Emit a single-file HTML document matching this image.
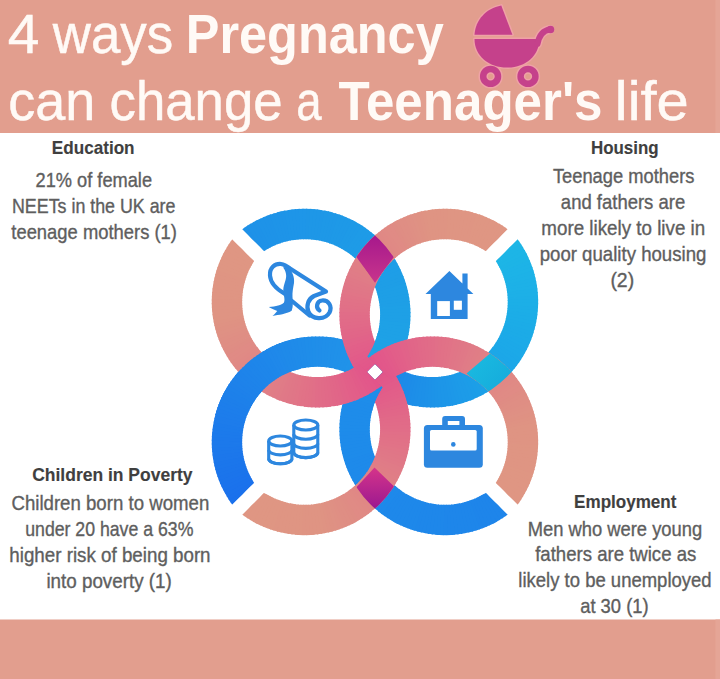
<!DOCTYPE html>
<html><head><meta charset="utf-8"><style>
html,body{margin:0;padding:0;background:#fff;}
svg{display:block;}
text{font-family:"Liberation Sans",sans-serif;}
</style></head><body>
<svg width="720" height="679" viewBox="0 0 720 679">
<rect width="720" height="679" fill="#fff"/>
<rect x="0" y="0" width="720" height="133" fill="#E29E8E"/>
<rect x="0" y="619.5" width="720" height="59.5" fill="#E29E8E"/>
<rect x="715.5" y="0" width="4.5" height="133" fill="#E5A596"/>
<rect x="715.5" y="619.5" width="4.5" height="59.5" fill="#E5A596"/>
<g fill="#EFA2A6" stroke="#EFA2A6" stroke-width="3" stroke-linejoin="round">
<path d="M474.5,34.7 C475.5,20 486,8.5 501.25,5.6 L512.4,34.7 Z"/>
<path d="M474.5,38.9 L539.4,38.9 C539.4,56 525,67.5 507,67.5 C489,67.5 474.5,56 474.5,38.9 Z"/>

<path d="M537.5,44 C539,36 542,30.5 550,29.5" fill="none" stroke-width="9" stroke-linecap="round"/>
<circle cx="490.6" cy="76.4" r="7.4" fill="none" stroke-width="9.5"/>
<circle cx="528" cy="76.4" r="7.4" fill="none" stroke-width="9.5"/>
</g>
<g fill="#C5418B">
<path d="M474.5,34.7 C475.5,20 486,8.5 501.25,5.6 L512.4,34.7 Z"/>
<path d="M474.5,38.9 L539.4,38.9 C539.4,56 525,67.5 507,67.5 C489,67.5 474.5,56 474.5,38.9 Z"/>

<path d="M537.5,44 C539,36 542,30.5 550,29.5" fill="none" stroke="#C5418B" stroke-width="6" stroke-linecap="round"/>
<circle cx="550.5" cy="29.5" r="3.8"/>
<circle cx="490.6" cy="76.4" r="7.4" fill="none" stroke="#C5418B" stroke-width="6.5"/>
<circle cx="528" cy="76.4" r="7.4" fill="none" stroke="#C5418B" stroke-width="6.5"/>
</g>
<text x="7.78" y="53" font-size="55.5" font-weight="normal" fill="#FFFAF6" textLength="31.65" lengthAdjust="spacingAndGlyphs" stroke="#FFFAF6" stroke-width="0.5">4</text>
<text x="52.80" y="53" font-size="55.5" font-weight="normal" fill="#FFFAF6" textLength="120.28" lengthAdjust="spacingAndGlyphs" stroke="#FFFAF6" stroke-width="0.5">ways</text>
<text x="185.76" y="53" font-size="55.5" font-weight="bold" fill="#FFFAF6" textLength="257.96" lengthAdjust="spacingAndGlyphs">Pregnancy</text>
<text x="8.25" y="119.5" font-size="55.5" font-weight="normal" fill="#FFFAF6" textLength="87.03" lengthAdjust="spacingAndGlyphs" stroke="#FFFAF6" stroke-width="0.5">can</text>
<text x="109.50" y="119.5" font-size="55.5" font-weight="normal" fill="#FFFAF6" textLength="173.09" lengthAdjust="spacingAndGlyphs" stroke="#FFFAF6" stroke-width="0.5">change</text>
<text x="296.36" y="119.5" font-size="55.5" font-weight="normal" fill="#FFFAF6" textLength="25.34" lengthAdjust="spacingAndGlyphs" stroke="#FFFAF6" stroke-width="0.5">a</text>
<text x="338.48" y="119.5" font-size="55.5" font-weight="bold" fill="#FFFAF6" textLength="264.02" lengthAdjust="spacingAndGlyphs">Teenager's</text>
<text x="614.83" y="119.5" font-size="55.5" font-weight="normal" fill="#FFFAF6" textLength="73.90" lengthAdjust="spacingAndGlyphs" stroke="#FFFAF6" stroke-width="0.5">life</text>
<text x="51.80" y="154.4" font-size="19" font-weight="bold" fill="#3f3f3f" textLength="82.76" lengthAdjust="spacingAndGlyphs" stroke="#3f3f3f" stroke-width="0.15">Education</text>
<text x="35.58" y="186.9" font-size="19.8" font-weight="normal" fill="#5e5e5e" textLength="116.45" lengthAdjust="spacingAndGlyphs" stroke="#5e5e5e" stroke-width="0.35">21% of female</text>
<text x="12.00" y="212.8" font-size="19.8" font-weight="normal" fill="#5e5e5e" textLength="163.47" lengthAdjust="spacingAndGlyphs" stroke="#5e5e5e" stroke-width="0.35">NEETs in the UK are</text>
<text x="11.30" y="238.7" font-size="19.8" font-weight="normal" fill="#5e5e5e" textLength="165.66" lengthAdjust="spacingAndGlyphs" stroke="#5e5e5e" stroke-width="0.35">teenage mothers (1)</text>
<text x="590.91" y="154.3" font-size="19" font-weight="bold" fill="#3f3f3f" textLength="67.68" lengthAdjust="spacingAndGlyphs" stroke="#3f3f3f" stroke-width="0.15">Housing</text>
<text x="552.90" y="183.3" font-size="19.8" font-weight="normal" fill="#5e5e5e" textLength="141.50" lengthAdjust="spacingAndGlyphs" stroke="#5e5e5e" stroke-width="0.35">Teenage mothers</text>
<text x="560.87" y="209.3" font-size="19.8" font-weight="normal" fill="#5e5e5e" textLength="124.33" lengthAdjust="spacingAndGlyphs" stroke="#5e5e5e" stroke-width="0.35">and fathers are</text>
<text x="541.35" y="235.2" font-size="19.8" font-weight="normal" fill="#5e5e5e" textLength="163.86" lengthAdjust="spacingAndGlyphs" stroke="#5e5e5e" stroke-width="0.35">more likely to live in</text>
<text x="539.66" y="261.2" font-size="19.8" font-weight="normal" fill="#5e5e5e" textLength="166.74" lengthAdjust="spacingAndGlyphs" stroke="#5e5e5e" stroke-width="0.35">poor quality housing</text>
<text x="610.42" y="287.0" font-size="19.8" font-weight="normal" fill="#5e5e5e" textLength="23.75" lengthAdjust="spacingAndGlyphs" stroke="#5e5e5e" stroke-width="0.35">(2)</text>
<text x="32.18" y="480.6" font-size="19" font-weight="bold" fill="#3f3f3f" textLength="160.31" lengthAdjust="spacingAndGlyphs" stroke="#3f3f3f" stroke-width="0.15">Children in Poverty</text>
<text x="11.46" y="509.5" font-size="19.8" font-weight="normal" fill="#5e5e5e" textLength="197.80" lengthAdjust="spacingAndGlyphs" stroke="#5e5e5e" stroke-width="0.35">Children born to women</text>
<text x="25.21" y="536.2" font-size="19.8" font-weight="normal" fill="#5e5e5e" textLength="168.16" lengthAdjust="spacingAndGlyphs" stroke="#5e5e5e" stroke-width="0.35">under 20 have a 63%</text>
<text x="9.35" y="561.8" font-size="19.8" font-weight="normal" fill="#5e5e5e" textLength="201.22" lengthAdjust="spacingAndGlyphs" stroke="#5e5e5e" stroke-width="0.35">higher risk of being born</text>
<text x="46.45" y="587.5" font-size="19.8" font-weight="normal" fill="#5e5e5e" textLength="125.34" lengthAdjust="spacingAndGlyphs" stroke="#5e5e5e" stroke-width="0.35">into poverty (1)</text>
<text x="574.10" y="507.7" font-size="19" font-weight="bold" fill="#3f3f3f" textLength="102.33" lengthAdjust="spacingAndGlyphs" stroke="#3f3f3f" stroke-width="0.15">Employment</text>
<text x="527.74" y="535.5" font-size="19.8" font-weight="normal" fill="#5e5e5e" textLength="174.41" lengthAdjust="spacingAndGlyphs" stroke="#5e5e5e" stroke-width="0.35">Men who were young</text>
<text x="535.20" y="561.3" font-size="19.8" font-weight="normal" fill="#5e5e5e" textLength="161.08" lengthAdjust="spacingAndGlyphs" stroke="#5e5e5e" stroke-width="0.35">fathers are twice as</text>
<text x="518.37" y="587.1" font-size="19.8" font-weight="normal" fill="#5e5e5e" textLength="193.22" lengthAdjust="spacingAndGlyphs" stroke="#5e5e5e" stroke-width="0.35">likely to be unemployed</text>
<text x="580.17" y="612.8" font-size="19.8" font-weight="normal" fill="#5e5e5e" textLength="68.45" lengthAdjust="spacingAndGlyphs" stroke="#5e5e5e" stroke-width="0.35">at 30 (1)</text>
<g>
<defs><clipPath id="hpTLb"><path d="M97.16,84.05L316.18,303.07L315.05,304.20L661.72,650.87L944.56,368.03L380.01,-198.79Z"/></clipPath><clipPath id="hpTRb"><path d="M662.85,94.16L443.83,313.18L442.70,312.05L96.03,658.72L378.87,941.56L945.69,377.01Z"/></clipPath><clipPath id="hpBRb"><path d="M652.74,659.85L433.72,440.83L434.85,439.70L88.18,93.03L-194.66,375.87L369.89,942.69Z"/></clipPath><clipPath id="hpBLb"><path d="M87.05,649.74L306.07,430.72L307.20,431.85L653.87,85.18L371.03,-197.66L-195.79,366.89Z"/></clipPath><clipPath id="hpTRp"><path d="M652.74,84.05L433.72,303.07L434.85,304.20L88.18,650.87L-194.66,368.03L369.89,-198.79Z"/></clipPath><clipPath id="hpBLp"><path d="M97.16,659.85L316.18,440.83L315.05,439.70L661.72,93.03L944.56,375.87L380.01,942.69Z"/></clipPath><clipPath id="hpTLb"><path d="M97.16,84.05L316.18,303.07L315.05,304.20L661.72,650.87L944.56,368.03L380.01,-198.79Z"/></clipPath><clipPath id="hpBRb"><path d="M652.74,659.85L433.72,440.83L434.85,439.70L88.18,93.03L-194.66,375.87L369.89,942.69Z"/></clipPath><clipPath id="hpTLp"><path d="M87.05,94.16L306.07,313.18L307.20,312.05L653.87,658.72L371.03,941.56L-195.79,377.01Z"/></clipPath><clipPath id="hpBRp"><path d="M662.85,649.74L443.83,430.72L442.70,431.85L96.03,85.18L378.87,-197.66L945.69,366.89Z"/></clipPath><clipPath id="wTop"><rect x="352" y="333" width="46" height="27"/></clipPath><clipPath id="wBot"><rect x="352" y="384" width="46" height="27"/></clipPath></defs>
<g clip-path="url(#hpTLb)">
<path d="M217.90,254.28A105.7,105.7 0 0 1 220.72,250.40L244.90,268.82A75.3,75.3 0 0 0 242.89,271.58Z" fill="#1e90e8"/>
<path d="M220.05,251.28A105.7,105.7 0 0 1 223.01,247.50L246.53,266.76A75.3,75.3 0 0 0 244.43,269.45Z" fill="#1e90e8"/>
<path d="M222.31,248.36A105.7,105.7 0 0 1 225.39,244.69L248.23,264.75A75.3,75.3 0 0 0 246.03,267.37Z" fill="#1e90e8"/>
<path d="M224.67,245.52A105.7,105.7 0 0 1 227.87,241.96L250.00,262.81A75.3,75.3 0 0 0 247.71,265.35Z" fill="#1e90e8"/>
<path d="M227.12,242.77A105.7,105.7 0 0 1 230.45,239.32L251.83,260.93A75.3,75.3 0 0 0 249.46,263.38Z" fill="#1e90e8"/>
<path d="M229.67,240.10A105.7,105.7 0 0 1 233.12,236.77L253.73,259.11A75.3,75.3 0 0 0 251.28,261.48Z" fill="#1e90e8"/>
<path d="M232.31,237.52A105.7,105.7 0 0 1 235.87,234.32L255.70,257.36A75.3,75.3 0 0 0 253.16,259.65Z" fill="#1e90e8"/>
<path d="M235.04,235.04A105.7,105.7 0 0 1 238.71,231.96L257.72,255.68A75.3,75.3 0 0 0 255.10,257.88Z" fill="#1e91e8"/>
<path d="M237.85,232.66A105.7,105.7 0 0 1 241.63,229.70L259.80,254.08A75.3,75.3 0 0 0 257.11,256.18Z" fill="#1e91e8"/>
<path d="M240.75,230.37A105.7,105.7 0 0 1 244.63,227.55L261.93,252.54A75.3,75.3 0 0 0 259.17,254.55Z" fill="#1e91e8"/>
<path d="M243.72,228.18A105.7,105.7 0 0 1 247.70,225.50L264.12,251.08A75.3,75.3 0 0 0 261.29,252.99Z" fill="#1e91e8"/>
<path d="M246.77,226.11A105.7,105.7 0 0 1 250.84,223.56L266.36,249.70A75.3,75.3 0 0 0 263.46,251.51Z" fill="#1e92e8"/>
<path d="M249.89,224.13A105.7,105.7 0 0 1 254.04,221.74L268.64,248.40A75.3,75.3 0 0 0 265.68,250.11Z" fill="#1e92e8"/>
<path d="M253.07,222.27A105.7,105.7 0 0 1 257.31,220.02L270.97,247.18A75.3,75.3 0 0 0 267.95,248.78Z" fill="#1e92e8"/>
<path d="M256.32,220.52A105.7,105.7 0 0 1 260.63,218.42L273.33,246.04A75.3,75.3 0 0 0 270.26,247.54Z" fill="#1e93e8"/>
<path d="M259.63,218.89A105.7,105.7 0 0 1 264.01,216.94L275.74,244.98A75.3,75.3 0 0 0 272.62,246.37Z" fill="#1e93e8"/>
<path d="M262.99,217.37A105.7,105.7 0 0 1 267.44,215.57L278.18,244.01A75.3,75.3 0 0 0 275.02,245.29Z" fill="#1e93e8"/>
<path d="M266.40,215.97A105.7,105.7 0 0 1 270.91,214.33L280.66,243.13A75.3,75.3 0 0 0 277.45,244.29Z" fill="#1e93e8"/>
<path d="M269.86,214.69A105.7,105.7 0 0 1 274.43,213.21L283.16,242.33A75.3,75.3 0 0 0 279.91,243.38Z" fill="#1e94e8"/>
<path d="M273.37,213.53A105.7,105.7 0 0 1 277.98,212.21L285.69,241.61A75.3,75.3 0 0 0 282.41,242.56Z" fill="#1e94e8"/>
<path d="M276.91,212.50A105.7,105.7 0 0 1 281.56,211.34L288.25,240.99A75.3,75.3 0 0 0 284.93,241.82Z" fill="#1e94e8"/>
<path d="M280.48,211.58A105.7,105.7 0 0 1 285.18,210.59L290.82,240.46A75.3,75.3 0 0 0 287.48,241.17Z" fill="#1e94e8"/>
<path d="M284.09,210.80A105.7,105.7 0 0 1 288.81,209.97L293.41,240.02A75.3,75.3 0 0 0 290.05,240.61Z" fill="#1e95e8"/>
<path d="M287.72,210.14A105.7,105.7 0 0 1 292.47,209.47L296.01,239.66A75.3,75.3 0 0 0 292.63,240.14Z" fill="#1e95e8"/>
<path d="M291.37,209.61A105.7,105.7 0 0 1 296.14,209.11L298.63,239.40A75.3,75.3 0 0 0 295.23,239.76Z" fill="#1e95e8"/>
<path d="M295.04,209.20A105.7,105.7 0 0 1 299.82,208.87L301.25,239.23A75.3,75.3 0 0 0 297.84,239.47Z" fill="#1e95e8"/>
<path d="M298.72,208.93A105.7,105.7 0 0 1 303.51,208.76L303.88,239.16A75.3,75.3 0 0 0 300.47,239.27Z" fill="#1e96e8"/>
<path d="M302.40,208.78A105.7,105.7 0 0 1 307.20,208.78L306.51,239.17A75.3,75.3 0 0 0 303.09,239.17Z" fill="#1e96e8"/>
<path d="M306.09,208.76A105.7,105.7 0 0 1 310.88,208.93L309.13,239.27A75.3,75.3 0 0 0 305.72,239.16Z" fill="#1e96e7"/>
<path d="M309.78,208.87A105.7,105.7 0 0 1 314.56,209.20L311.76,239.47A75.3,75.3 0 0 0 308.35,239.23Z" fill="#1e97e7"/>
<path d="M313.46,209.11A105.7,105.7 0 0 1 318.23,209.61L314.37,239.76A75.3,75.3 0 0 0 310.97,239.40Z" fill="#1e97e7"/>
<path d="M317.13,209.47A105.7,105.7 0 0 1 321.88,210.14L316.97,240.14A75.3,75.3 0 0 0 313.59,239.66Z" fill="#1e97e7"/>
<path d="M320.79,209.97A105.7,105.7 0 0 1 325.51,210.80L319.55,240.61A75.3,75.3 0 0 0 316.19,240.02Z" fill="#1e97e7"/>
<path d="M324.42,210.59A105.7,105.7 0 0 1 329.12,211.58L322.12,241.17A75.3,75.3 0 0 0 318.78,240.46Z" fill="#1e98e7"/>
<path d="M328.04,211.34A105.7,105.7 0 0 1 332.69,212.50L324.67,241.82A75.3,75.3 0 0 0 321.35,240.99Z" fill="#1e98e7"/>
<path d="M331.62,212.21A105.7,105.7 0 0 1 336.23,213.53L327.19,242.56A75.3,75.3 0 0 0 323.91,241.61Z" fill="#1e98e7"/>
<path d="M335.17,213.21A105.7,105.7 0 0 1 339.74,214.69L329.69,243.38A75.3,75.3 0 0 0 326.44,242.33Z" fill="#1e98e7"/>
<path d="M338.69,214.33A105.7,105.7 0 0 1 343.20,215.97L332.15,244.29A75.3,75.3 0 0 0 328.94,243.13Z" fill="#1e99e7"/>
<path d="M342.16,215.57A105.7,105.7 0 0 1 346.61,217.37L334.58,245.29A75.3,75.3 0 0 0 331.42,244.01Z" fill="#1e99e7"/>
<path d="M345.59,216.94A105.7,105.7 0 0 1 349.97,218.89L336.98,246.37A75.3,75.3 0 0 0 333.86,244.98Z" fill="#1e99e7"/>
<path d="M348.97,218.42A105.7,105.7 0 0 1 353.28,220.52L339.34,247.54A75.3,75.3 0 0 0 336.27,246.04Z" fill="#1e99e7"/>
<path d="M352.29,220.02A105.7,105.7 0 0 1 356.53,222.27L341.65,248.78A75.3,75.3 0 0 0 338.63,247.18Z" fill="#1e9ae7"/>
<path d="M355.56,221.74A105.7,105.7 0 0 1 359.71,224.13L343.92,250.11A75.3,75.3 0 0 0 340.96,248.40Z" fill="#1e9ae7"/>
<path d="M358.76,223.56A105.7,105.7 0 0 1 362.83,226.11L346.14,251.51A75.3,75.3 0 0 0 343.24,249.70Z" fill="#1e9ae7"/>
<path d="M361.90,225.50A105.7,105.7 0 0 1 365.88,228.18L348.31,252.99A75.3,75.3 0 0 0 345.48,251.08Z" fill="#1e9be7"/>
<path d="M364.97,227.55A105.7,105.7 0 0 1 368.85,230.37L350.43,254.55A75.3,75.3 0 0 0 347.67,252.54Z" fill="#1e9be7"/>
<path d="M367.97,229.70A105.7,105.7 0 0 1 371.75,232.66L352.49,256.18A75.3,75.3 0 0 0 349.80,254.08Z" fill="#1e9be7"/>
<path d="M370.89,231.96A105.7,105.7 0 0 1 374.56,235.04L354.50,257.88A75.3,75.3 0 0 0 351.88,255.68Z" fill="#1e9be7"/>
<path d="M373.73,234.32A105.7,105.7 0 0 1 377.29,237.52L356.44,259.65A75.3,75.3 0 0 0 353.90,257.36Z" fill="#1e9ce7"/>
<path d="M376.48,236.77A105.7,105.7 0 0 1 379.93,240.10L358.32,261.48A75.3,75.3 0 0 0 355.87,259.11Z" fill="#1e9ce7"/>
<path d="M379.15,239.32A105.7,105.7 0 0 1 382.48,242.77L360.14,263.38A75.3,75.3 0 0 0 357.77,260.93Z" fill="#1e9ce7"/>
<path d="M381.73,241.96A105.7,105.7 0 0 1 384.93,245.52L361.89,265.35A75.3,75.3 0 0 0 359.60,262.81Z" fill="#1e9ce7"/>
<path d="M384.21,244.69A105.7,105.7 0 0 1 387.29,248.36L363.57,267.37A75.3,75.3 0 0 0 361.37,264.75Z" fill="#1e9ce7"/>
<path d="M386.59,247.50A105.7,105.7 0 0 1 389.55,251.28L365.17,269.45A75.3,75.3 0 0 0 363.07,266.76Z" fill="#1e9de7"/>
<path d="M388.88,250.40A105.7,105.7 0 0 1 391.70,254.28L366.71,271.58A75.3,75.3 0 0 0 364.70,268.82Z" fill="#1e9de7"/>
<path d="M391.07,253.37A105.7,105.7 0 0 1 393.75,257.35L368.17,273.77A75.3,75.3 0 0 0 366.26,270.94Z" fill="#1e9de7"/>
<path d="M393.14,256.42A105.7,105.7 0 0 1 395.69,260.49L369.55,276.01A75.3,75.3 0 0 0 367.74,273.11Z" fill="#1e9de7"/>
<path d="M395.12,259.54A105.7,105.7 0 0 1 397.51,263.69L370.85,278.29A75.3,75.3 0 0 0 369.14,275.33Z" fill="#1e9de7"/>
<path d="M396.98,262.72A105.7,105.7 0 0 1 399.23,266.96L372.07,280.62A75.3,75.3 0 0 0 370.47,277.60Z" fill="#1e9ee7"/>
<path d="M398.73,265.97A105.7,105.7 0 0 1 400.83,270.28L373.21,282.98A75.3,75.3 0 0 0 371.71,279.91Z" fill="#1e9ee7"/>
<path d="M400.36,269.28A105.7,105.7 0 0 1 402.31,273.66L374.27,285.39A75.3,75.3 0 0 0 372.88,282.27Z" fill="#1e9ee7"/>
<path d="M401.88,272.64A105.7,105.7 0 0 1 403.68,277.09L375.24,287.83A75.3,75.3 0 0 0 373.96,284.67Z" fill="#1e9ee6"/>
<path d="M403.28,276.05A105.7,105.7 0 0 1 404.92,280.56L376.12,290.31A75.3,75.3 0 0 0 374.96,287.10Z" fill="#1e9ee6"/>
<path d="M404.56,279.51A105.7,105.7 0 0 1 406.04,284.08L376.92,292.81A75.3,75.3 0 0 0 375.87,289.56Z" fill="#1e9ee6"/>
<path d="M405.72,283.02A105.7,105.7 0 0 1 407.04,287.63L377.64,295.34A75.3,75.3 0 0 0 376.69,292.06Z" fill="#1e9fe6"/>
<path d="M406.75,286.56A105.7,105.7 0 0 1 407.91,291.21L378.26,297.90A75.3,75.3 0 0 0 377.43,294.58Z" fill="#1e9fe6"/>
<path d="M407.67,290.13A105.7,105.7 0 0 1 408.66,294.83L378.79,300.47A75.3,75.3 0 0 0 378.08,297.13Z" fill="#1e9fe6"/>
<path d="M408.45,293.74A105.7,105.7 0 0 1 409.28,298.46L379.23,303.06A75.3,75.3 0 0 0 378.64,299.70Z" fill="#1e9fe6"/>
<path d="M409.11,297.37A105.7,105.7 0 0 1 409.78,302.12L379.59,305.66A75.3,75.3 0 0 0 379.11,302.28Z" fill="#1e9fe6"/>
<path d="M409.64,301.02A105.7,105.7 0 0 1 410.14,305.79L379.85,308.28A75.3,75.3 0 0 0 379.49,304.88Z" fill="#1e9fe6"/>
<path d="M410.05,304.69A105.7,105.7 0 0 1 410.38,309.47L380.02,310.90A75.3,75.3 0 0 0 379.78,307.49Z" fill="#1ea0e6"/>
<path d="M410.32,308.37A105.7,105.7 0 0 1 410.49,313.16L380.09,313.53A75.3,75.3 0 0 0 379.98,310.12Z" fill="#1ea0e6"/>
<path d="M410.47,312.05A105.7,105.7 0 0 1 410.47,316.85L380.08,316.16A75.3,75.3 0 0 0 380.08,312.74Z" fill="#1ea0e6"/>
<path d="M410.49,315.74A105.7,105.7 0 0 1 410.32,320.53L379.98,318.78A75.3,75.3 0 0 0 380.09,315.37Z" fill="#1ea0e6"/>
<path d="M410.38,319.43A105.7,105.7 0 0 1 410.05,324.21L379.78,321.41A75.3,75.3 0 0 0 380.02,318.00Z" fill="#1ea0e6"/>
<path d="M410.14,323.11A105.7,105.7 0 0 1 409.64,327.88L379.49,324.02A75.3,75.3 0 0 0 379.85,320.62Z" fill="#1ea1e6"/>
<path d="M409.78,326.78A105.7,105.7 0 0 1 409.11,331.53L379.11,326.62A75.3,75.3 0 0 0 379.59,323.24Z" fill="#1ea1e6"/>
<path d="M409.28,330.44A105.7,105.7 0 0 1 408.45,335.16L378.64,329.20A75.3,75.3 0 0 0 379.23,325.84Z" fill="#1ea1e6"/>
<path d="M408.66,334.07A105.7,105.7 0 0 1 407.67,338.77L378.08,331.77A75.3,75.3 0 0 0 378.79,328.43Z" fill="#1ea1e6"/>
<path d="M407.91,337.69A105.7,105.7 0 0 1 406.75,342.34L377.43,334.32A75.3,75.3 0 0 0 378.26,331.00Z" fill="#1ea1e6"/>
<path d="M407.04,341.27A105.7,105.7 0 0 1 405.72,345.88L376.69,336.84A75.3,75.3 0 0 0 377.64,333.56Z" fill="#1ea1e6"/>
<path d="M406.04,344.82A105.7,105.7 0 0 1 404.56,349.39L375.87,339.34A75.3,75.3 0 0 0 376.92,336.09Z" fill="#1ea2e6"/>
<path d="M404.92,348.34A105.7,105.7 0 0 1 403.28,352.85L374.96,341.80A75.3,75.3 0 0 0 376.12,338.59Z" fill="#1ea2e6"/>
<path d="M403.68,351.81A105.7,105.7 0 0 1 401.88,356.26L373.96,344.23A75.3,75.3 0 0 0 375.24,341.07Z" fill="#1ea2e6"/>
<path d="M402.31,355.24A105.7,105.7 0 0 1 400.36,359.62L372.88,346.63A75.3,75.3 0 0 0 374.27,343.51Z" fill="#1ea2e5"/>
<path d="M400.83,358.62A105.7,105.7 0 0 1 398.73,362.93L371.71,348.99A75.3,75.3 0 0 0 373.21,345.92Z" fill="#1ea2e5"/>
<path d="M399.23,361.94A105.7,105.7 0 0 1 396.98,366.18L370.47,351.30A75.3,75.3 0 0 0 372.07,348.28Z" fill="#1ea2e5"/>
<path d="M397.51,365.21A105.7,105.7 0 0 1 395.12,369.36L369.14,353.57A75.3,75.3 0 0 0 370.85,350.61Z" fill="#1ea3e5"/>
<path d="M395.69,368.41A105.7,105.7 0 0 1 393.14,372.48L367.74,355.79A75.3,75.3 0 0 0 369.55,352.89Z" fill="#1ea3e5"/>
<path d="M393.75,371.55A105.7,105.7 0 0 1 391.07,375.53L366.26,357.96A75.3,75.3 0 0 0 368.17,355.13Z" fill="#1ea3e5"/>
<path d="M391.70,374.62A105.7,105.7 0 0 1 388.88,378.50L364.70,360.08A75.3,75.3 0 0 0 366.71,357.32Z" fill="#1ea3e5"/>
<path d="M389.55,377.62A105.7,105.7 0 0 1 386.59,381.40L363.07,362.14A75.3,75.3 0 0 0 365.17,359.45Z" fill="#1ea3e5"/>
<path d="M387.29,380.54A105.7,105.7 0 0 1 384.21,384.21L361.37,364.15A75.3,75.3 0 0 0 363.57,361.53Z" fill="#1ea4e5"/>
<path d="M384.93,383.38A105.7,105.7 0 0 1 381.73,386.94L359.60,366.09A75.3,75.3 0 0 0 361.89,363.55Z" fill="#1ea4e5"/>
<path d="M382.48,386.13A105.7,105.7 0 0 1 379.15,389.58L357.77,367.97A75.3,75.3 0 0 0 360.14,365.52Z" fill="#1ea4e5"/>
<path d="M379.93,388.80A105.7,105.7 0 0 1 376.48,392.13L355.87,369.79A75.3,75.3 0 0 0 358.32,367.42Z" fill="#1ea4e5"/>
<path d="M377.29,391.38A105.7,105.7 0 0 1 373.73,394.58L353.90,371.54A75.3,75.3 0 0 0 356.44,369.25Z" fill="#1ea4e5"/>
<path d="M374.56,393.86A105.7,105.7 0 0 1 370.89,396.94L351.88,373.22A75.3,75.3 0 0 0 354.50,371.02Z" fill="#1ea4e5"/>
<path d="M371.75,396.24A105.7,105.7 0 0 1 367.97,399.20L349.80,374.82A75.3,75.3 0 0 0 352.49,372.72Z" fill="#1ea4e5"/>
<path d="M368.85,398.53A105.7,105.7 0 0 1 364.97,401.35L347.67,376.36A75.3,75.3 0 0 0 350.43,374.35Z" fill="#1ea4e5"/>
</g>
<g clip-path="url(#hpTRb)">
<path d="M492.62,214.90A105.7,105.7 0 0 1 496.50,217.72L478.08,241.90A75.3,75.3 0 0 0 475.32,239.89Z" fill="#1db8e6"/>
<path d="M495.62,217.05A105.7,105.7 0 0 1 499.40,220.01L480.14,243.53A75.3,75.3 0 0 0 477.45,241.43Z" fill="#1db8e6"/>
<path d="M498.54,219.31A105.7,105.7 0 0 1 502.21,222.39L482.15,245.23A75.3,75.3 0 0 0 479.53,243.03Z" fill="#1db8e6"/>
<path d="M501.38,221.67A105.7,105.7 0 0 1 504.94,224.87L484.09,247.00A75.3,75.3 0 0 0 481.55,244.71Z" fill="#1db8e6"/>
<path d="M504.13,224.12A105.7,105.7 0 0 1 507.58,227.45L485.97,248.83A75.3,75.3 0 0 0 483.52,246.46Z" fill="#1db8e6"/>
<path d="M506.80,226.67A105.7,105.7 0 0 1 510.13,230.12L487.79,250.73A75.3,75.3 0 0 0 485.42,248.28Z" fill="#1db8e6"/>
<path d="M509.38,229.31A105.7,105.7 0 0 1 512.58,232.87L489.54,252.70A75.3,75.3 0 0 0 487.25,250.16Z" fill="#1db7e6"/>
<path d="M511.86,232.04A105.7,105.7 0 0 1 514.94,235.71L491.22,254.72A75.3,75.3 0 0 0 489.02,252.10Z" fill="#1db7e6"/>
<path d="M514.24,234.85A105.7,105.7 0 0 1 517.20,238.63L492.82,256.80A75.3,75.3 0 0 0 490.72,254.11Z" fill="#1db7e6"/>
<path d="M516.53,237.75A105.7,105.7 0 0 1 519.35,241.63L494.36,258.93A75.3,75.3 0 0 0 492.35,256.17Z" fill="#1db6e6"/>
<path d="M518.72,240.72A105.7,105.7 0 0 1 521.40,244.70L495.82,261.12A75.3,75.3 0 0 0 493.91,258.29Z" fill="#1db6e6"/>
<path d="M520.79,243.77A105.7,105.7 0 0 1 523.34,247.84L497.20,263.36A75.3,75.3 0 0 0 495.39,260.46Z" fill="#1db5e6"/>
<path d="M522.77,246.89A105.7,105.7 0 0 1 525.16,251.04L498.50,265.64A75.3,75.3 0 0 0 496.79,262.68Z" fill="#1db5e6"/>
<path d="M524.63,250.07A105.7,105.7 0 0 1 526.88,254.31L499.72,267.97A75.3,75.3 0 0 0 498.12,264.95Z" fill="#1db5e6"/>
<path d="M526.38,253.32A105.7,105.7 0 0 1 528.48,257.63L500.86,270.33A75.3,75.3 0 0 0 499.36,267.26Z" fill="#1db4e6"/>
<path d="M528.01,256.63A105.7,105.7 0 0 1 529.96,261.01L501.92,272.74A75.3,75.3 0 0 0 500.53,269.62Z" fill="#1db4e6"/>
<path d="M529.53,259.99A105.7,105.7 0 0 1 531.33,264.44L502.89,275.18A75.3,75.3 0 0 0 501.61,272.02Z" fill="#1db3e7"/>
<path d="M530.93,263.40A105.7,105.7 0 0 1 532.57,267.91L503.77,277.66A75.3,75.3 0 0 0 502.61,274.45Z" fill="#1db3e7"/>
<path d="M532.21,266.86A105.7,105.7 0 0 1 533.69,271.43L504.57,280.16A75.3,75.3 0 0 0 503.52,276.91Z" fill="#1db3e7"/>
<path d="M533.37,270.37A105.7,105.7 0 0 1 534.69,274.98L505.29,282.69A75.3,75.3 0 0 0 504.34,279.41Z" fill="#1db2e7"/>
<path d="M534.40,273.91A105.7,105.7 0 0 1 535.56,278.56L505.91,285.25A75.3,75.3 0 0 0 505.08,281.93Z" fill="#1db2e7"/>
<path d="M535.32,277.48A105.7,105.7 0 0 1 536.31,282.18L506.44,287.82A75.3,75.3 0 0 0 505.73,284.48Z" fill="#1db1e7"/>
<path d="M536.10,281.09A105.7,105.7 0 0 1 536.93,285.81L506.88,290.41A75.3,75.3 0 0 0 506.29,287.05Z" fill="#1db1e7"/>
<path d="M536.76,284.72A105.7,105.7 0 0 1 537.43,289.47L507.24,293.01A75.3,75.3 0 0 0 506.76,289.63Z" fill="#1db1e7"/>
<path d="M537.29,288.37A105.7,105.7 0 0 1 537.79,293.14L507.50,295.63A75.3,75.3 0 0 0 507.14,292.23Z" fill="#1db0e7"/>
<path d="M537.70,292.04A105.7,105.7 0 0 1 538.03,296.82L507.67,298.25A75.3,75.3 0 0 0 507.43,294.84Z" fill="#1db0e7"/>
<path d="M537.97,295.72A105.7,105.7 0 0 1 538.14,300.51L507.74,300.88A75.3,75.3 0 0 0 507.63,297.47Z" fill="#1dafe7"/>
<path d="M538.12,299.40A105.7,105.7 0 0 1 538.12,304.20L507.73,303.51A75.3,75.3 0 0 0 507.73,300.09Z" fill="#1cafe7"/>
<path d="M538.14,303.09A105.7,105.7 0 0 1 537.97,307.88L507.63,306.13A75.3,75.3 0 0 0 507.74,302.72Z" fill="#1cafe7"/>
<path d="M538.03,306.78A105.7,105.7 0 0 1 537.70,311.56L507.43,308.76A75.3,75.3 0 0 0 507.67,305.35Z" fill="#1caee7"/>
<path d="M537.79,310.46A105.7,105.7 0 0 1 537.29,315.23L507.14,311.37A75.3,75.3 0 0 0 507.50,307.97Z" fill="#1caee7"/>
<path d="M537.43,314.13A105.7,105.7 0 0 1 536.76,318.88L506.76,313.97A75.3,75.3 0 0 0 507.24,310.59Z" fill="#1cade7"/>
<path d="M536.93,317.79A105.7,105.7 0 0 1 536.10,322.51L506.29,316.55A75.3,75.3 0 0 0 506.88,313.19Z" fill="#1cade7"/>
<path d="M536.31,321.42A105.7,105.7 0 0 1 535.32,326.12L505.73,319.12A75.3,75.3 0 0 0 506.44,315.78Z" fill="#1cade7"/>
<path d="M535.56,325.04A105.7,105.7 0 0 1 534.40,329.69L505.08,321.67A75.3,75.3 0 0 0 505.91,318.35Z" fill="#1cace7"/>
<path d="M534.69,328.62A105.7,105.7 0 0 1 533.37,333.23L504.34,324.19A75.3,75.3 0 0 0 505.29,320.91Z" fill="#1cace7"/>
<path d="M533.69,332.17A105.7,105.7 0 0 1 532.21,336.74L503.52,326.69A75.3,75.3 0 0 0 504.57,323.44Z" fill="#1cabe7"/>
<path d="M532.57,335.69A105.7,105.7 0 0 1 530.93,340.20L502.61,329.15A75.3,75.3 0 0 0 503.77,325.94Z" fill="#1cabe7"/>
<path d="M531.33,339.16A105.7,105.7 0 0 1 529.53,343.61L501.61,331.58A75.3,75.3 0 0 0 502.89,328.42Z" fill="#1cabe7"/>
<path d="M529.96,342.59A105.7,105.7 0 0 1 528.01,346.97L500.53,333.98A75.3,75.3 0 0 0 501.92,330.86Z" fill="#1caae8"/>
<path d="M528.48,345.97A105.7,105.7 0 0 1 526.38,350.28L499.36,336.34A75.3,75.3 0 0 0 500.86,333.27Z" fill="#1caae8"/>
<path d="M526.88,349.29A105.7,105.7 0 0 1 524.63,353.53L498.12,338.65A75.3,75.3 0 0 0 499.72,335.63Z" fill="#1ca9e8"/>
<path d="M525.16,352.56A105.7,105.7 0 0 1 522.77,356.71L496.79,340.92A75.3,75.3 0 0 0 498.50,337.96Z" fill="#1ca9e8"/>
<path d="M523.34,355.76A105.7,105.7 0 0 1 520.79,359.83L495.39,343.14A75.3,75.3 0 0 0 497.20,340.24Z" fill="#1ca9e8"/>
<path d="M521.40,358.90A105.7,105.7 0 0 1 518.72,362.88L493.91,345.31A75.3,75.3 0 0 0 495.82,342.48Z" fill="#1ca8e8"/>
<path d="M519.35,361.97A105.7,105.7 0 0 1 516.53,365.85L492.35,347.43A75.3,75.3 0 0 0 494.36,344.67Z" fill="#1ca8e8"/>
<path d="M517.20,364.97A105.7,105.7 0 0 1 514.24,368.75L490.72,349.49A75.3,75.3 0 0 0 492.82,346.80Z" fill="#1ca7e8"/>
<path d="M514.94,367.89A105.7,105.7 0 0 1 511.86,371.56L489.02,351.50A75.3,75.3 0 0 0 491.22,348.88Z" fill="#1ca7e8"/>
<path d="M512.58,370.73A105.7,105.7 0 0 1 509.38,374.29L487.25,353.44A75.3,75.3 0 0 0 489.54,350.90Z" fill="#1ca7e8"/>
<path d="M510.13,373.48A105.7,105.7 0 0 1 506.80,376.93L485.42,355.32A75.3,75.3 0 0 0 487.79,352.87Z" fill="#1ca6e8"/>
<path d="M507.58,376.15A105.7,105.7 0 0 1 504.13,379.48L483.52,357.14A75.3,75.3 0 0 0 485.97,354.77Z" fill="#1ca6e8"/>
<path d="M504.94,378.73A105.7,105.7 0 0 1 501.38,381.93L481.55,358.89A75.3,75.3 0 0 0 484.09,356.60Z" fill="#1ca5e8"/>
<path d="M502.21,381.21A105.7,105.7 0 0 1 498.54,384.29L479.53,360.57A75.3,75.3 0 0 0 482.15,358.37Z" fill="#1ca4e8"/>
<path d="M499.40,383.59A105.7,105.7 0 0 1 495.62,386.55L477.45,362.17A75.3,75.3 0 0 0 480.14,360.07Z" fill="#1ca3e8"/>
<path d="M496.50,385.88A105.7,105.7 0 0 1 492.62,388.70L475.32,363.71A75.3,75.3 0 0 0 478.08,361.70Z" fill="#1ca2e8"/>
<path d="M493.53,388.07A105.7,105.7 0 0 1 489.55,390.75L473.13,365.17A75.3,75.3 0 0 0 475.96,363.26Z" fill="#1ca1e8"/>
<path d="M490.48,390.14A105.7,105.7 0 0 1 486.41,392.69L470.89,366.55A75.3,75.3 0 0 0 473.79,364.74Z" fill="#1ca1e8"/>
<path d="M487.36,392.12A105.7,105.7 0 0 1 483.21,394.51L468.61,367.85A75.3,75.3 0 0 0 471.57,366.14Z" fill="#1ca0e8"/>
<path d="M484.18,393.98A105.7,105.7 0 0 1 479.94,396.23L466.28,369.07A75.3,75.3 0 0 0 469.30,367.47Z" fill="#1c9fe8"/>
<path d="M480.93,395.73A105.7,105.7 0 0 1 476.62,397.83L463.92,370.21A75.3,75.3 0 0 0 466.99,368.71Z" fill="#1c9ee8"/>
<path d="M477.62,397.36A105.7,105.7 0 0 1 473.24,399.31L461.51,371.27A75.3,75.3 0 0 0 464.63,369.88Z" fill="#1c9de8"/>
<path d="M474.26,398.88A105.7,105.7 0 0 1 469.81,400.68L459.07,372.24A75.3,75.3 0 0 0 462.23,370.96Z" fill="#1d9ce8"/>
<path d="M470.85,400.28A105.7,105.7 0 0 1 466.34,401.92L456.59,373.12A75.3,75.3 0 0 0 459.80,371.96Z" fill="#1d9be8"/>
<path d="M467.39,401.56A105.7,105.7 0 0 1 462.82,403.04L454.09,373.92A75.3,75.3 0 0 0 457.34,372.87Z" fill="#1d9be8"/>
<path d="M463.88,402.72A105.7,105.7 0 0 1 459.27,404.04L451.56,374.64A75.3,75.3 0 0 0 454.84,373.69Z" fill="#1d9ae8"/>
<path d="M460.34,403.75A105.7,105.7 0 0 1 455.69,404.91L449.00,375.26A75.3,75.3 0 0 0 452.32,374.43Z" fill="#1d99e8"/>
<path d="M456.77,404.67A105.7,105.7 0 0 1 452.07,405.66L446.43,375.79A75.3,75.3 0 0 0 449.77,375.08Z" fill="#1d98e8"/>
<path d="M453.16,405.45A105.7,105.7 0 0 1 448.44,406.28L443.84,376.23A75.3,75.3 0 0 0 447.20,375.64Z" fill="#1d97e8"/>
<path d="M449.53,406.11A105.7,105.7 0 0 1 444.78,406.78L441.24,376.59A75.3,75.3 0 0 0 444.62,376.11Z" fill="#1d96e8"/>
<path d="M445.88,406.64A105.7,105.7 0 0 1 441.11,407.14L438.62,376.85A75.3,75.3 0 0 0 442.02,376.49Z" fill="#1d96e8"/>
<path d="M442.21,407.05A105.7,105.7 0 0 1 437.43,407.38L436.00,377.02A75.3,75.3 0 0 0 439.41,376.78Z" fill="#1d95e8"/>
<path d="M438.53,407.32A105.7,105.7 0 0 1 433.74,407.49L433.37,377.09A75.3,75.3 0 0 0 436.78,376.98Z" fill="#1d94e8"/>
<path d="M434.85,407.47A105.7,105.7 0 0 1 430.05,407.47L430.74,377.08A75.3,75.3 0 0 0 434.16,377.08Z" fill="#1d93e8"/>
<path d="M431.16,407.49A105.7,105.7 0 0 1 426.37,407.32L428.12,376.98A75.3,75.3 0 0 0 431.53,377.09Z" fill="#1d92e8"/>
<path d="M427.47,407.38A105.7,105.7 0 0 1 422.69,407.05L425.49,376.78A75.3,75.3 0 0 0 428.90,377.02Z" fill="#1d91e8"/>
<path d="M423.79,407.14A105.7,105.7 0 0 1 419.02,406.64L422.88,376.49A75.3,75.3 0 0 0 426.28,376.85Z" fill="#1d90e8"/>
<path d="M420.12,406.78A105.7,105.7 0 0 1 415.37,406.11L420.28,376.11A75.3,75.3 0 0 0 423.66,376.59Z" fill="#1d90e8"/>
<path d="M416.46,406.28A105.7,105.7 0 0 1 411.74,405.45L417.70,375.64A75.3,75.3 0 0 0 421.06,376.23Z" fill="#1d8fe8"/>
<path d="M412.83,405.66A105.7,105.7 0 0 1 408.13,404.67L415.13,375.08A75.3,75.3 0 0 0 418.47,375.79Z" fill="#1d8ee8"/>
<path d="M409.21,404.91A105.7,105.7 0 0 1 404.56,403.75L412.58,374.43A75.3,75.3 0 0 0 415.90,375.26Z" fill="#1d8de8"/>
<path d="M405.63,404.04A105.7,105.7 0 0 1 401.02,402.72L410.06,373.69A75.3,75.3 0 0 0 413.34,374.64Z" fill="#1d8ce8"/>
<path d="M402.08,403.04A105.7,105.7 0 0 1 397.51,401.56L407.56,372.87A75.3,75.3 0 0 0 410.81,373.92Z" fill="#1d8be8"/>
<path d="M398.56,401.92A105.7,105.7 0 0 1 394.05,400.28L405.10,371.96A75.3,75.3 0 0 0 408.31,373.12Z" fill="#1d8be8"/>
<path d="M395.09,400.68A105.7,105.7 0 0 1 390.64,398.88L402.67,370.96A75.3,75.3 0 0 0 405.83,372.24Z" fill="#1d8ae8"/>
<path d="M391.66,399.31A105.7,105.7 0 0 1 387.28,397.36L400.27,369.88A75.3,75.3 0 0 0 403.39,371.27Z" fill="#1e89e8"/>
<path d="M388.28,397.83A105.7,105.7 0 0 1 383.97,395.73L397.91,368.71A75.3,75.3 0 0 0 400.98,370.21Z" fill="#1e88e8"/>
<path d="M384.96,396.23A105.7,105.7 0 0 1 380.72,393.98L395.60,367.47A75.3,75.3 0 0 0 398.62,369.07Z" fill="#1e87e8"/>
<path d="M381.69,394.51A105.7,105.7 0 0 1 377.54,392.12L393.33,366.14A75.3,75.3 0 0 0 396.29,367.85Z" fill="#1e86e8"/>
<path d="M378.49,392.69A105.7,105.7 0 0 1 374.42,390.14L391.11,364.74A75.3,75.3 0 0 0 394.01,366.55Z" fill="#1e85e8"/>
<path d="M375.35,390.75A105.7,105.7 0 0 1 371.37,388.07L388.94,363.26A75.3,75.3 0 0 0 391.77,365.17Z" fill="#1e85e8"/>
<path d="M372.28,388.70A105.7,105.7 0 0 1 368.40,385.88L386.82,361.70A75.3,75.3 0 0 0 389.58,363.71Z" fill="#1e84e8"/>
<path d="M369.28,386.55A105.7,105.7 0 0 1 365.50,383.59L384.76,360.07A75.3,75.3 0 0 0 387.45,362.17Z" fill="#1e83e8"/>
<path d="M366.36,384.29A105.7,105.7 0 0 1 362.69,381.21L382.75,358.37A75.3,75.3 0 0 0 385.37,360.57Z" fill="#1e82e8"/>
<path d="M363.52,381.93A105.7,105.7 0 0 1 359.96,378.73L380.81,356.60A75.3,75.3 0 0 0 383.35,358.89Z" fill="#1e81e8"/>
<path d="M360.77,379.48A105.7,105.7 0 0 1 357.32,376.15L378.93,354.77A75.3,75.3 0 0 0 381.38,357.14Z" fill="#1e80e8"/>
<path d="M358.10,376.93A105.7,105.7 0 0 1 354.77,373.48L377.11,352.87A75.3,75.3 0 0 0 379.48,355.32Z" fill="#1e80e8"/>
<path d="M355.52,374.29A105.7,105.7 0 0 1 352.32,370.73L375.36,350.90A75.3,75.3 0 0 0 377.65,353.44Z" fill="#1e80e8"/>
<path d="M353.04,371.56A105.7,105.7 0 0 1 349.96,367.89L373.68,348.88A75.3,75.3 0 0 0 375.88,351.50Z" fill="#1e80e8"/>
<path d="M350.66,368.75A105.7,105.7 0 0 1 347.70,364.97L372.08,346.80A75.3,75.3 0 0 0 374.18,349.49Z" fill="#1e80e8"/>
<path d="M348.37,365.85A105.7,105.7 0 0 1 345.55,361.97L370.54,344.67A75.3,75.3 0 0 0 372.55,347.43Z" fill="#1e80e8"/>
</g>
<g clip-path="url(#hpBRb)">
<path d="M532.00,489.62A105.7,105.7 0 0 1 529.18,493.50L505.00,475.08A75.3,75.3 0 0 0 507.01,472.32Z" fill="#1e84ea"/>
<path d="M529.85,492.62A105.7,105.7 0 0 1 526.89,496.40L503.37,477.14A75.3,75.3 0 0 0 505.47,474.45Z" fill="#1e84ea"/>
<path d="M527.59,495.54A105.7,105.7 0 0 1 524.51,499.21L501.67,479.15A75.3,75.3 0 0 0 503.87,476.53Z" fill="#1e84ea"/>
<path d="M525.23,498.38A105.7,105.7 0 0 1 522.03,501.94L499.90,481.09A75.3,75.3 0 0 0 502.19,478.55Z" fill="#1e84ea"/>
<path d="M522.78,501.13A105.7,105.7 0 0 1 519.45,504.58L498.07,482.97A75.3,75.3 0 0 0 500.44,480.52Z" fill="#1e84ea"/>
<path d="M520.23,503.80A105.7,105.7 0 0 1 516.78,507.13L496.17,484.79A75.3,75.3 0 0 0 498.62,482.42Z" fill="#1e84ea"/>
<path d="M517.59,506.38A105.7,105.7 0 0 1 514.03,509.58L494.20,486.54A75.3,75.3 0 0 0 496.74,484.25Z" fill="#1e84ea"/>
<path d="M514.86,508.86A105.7,105.7 0 0 1 511.19,511.94L492.18,488.22A75.3,75.3 0 0 0 494.80,486.02Z" fill="#1e84ea"/>
<path d="M512.05,511.24A105.7,105.7 0 0 1 508.27,514.20L490.10,489.82A75.3,75.3 0 0 0 492.79,487.72Z" fill="#1e84ea"/>
<path d="M509.15,513.53A105.7,105.7 0 0 1 505.27,516.35L487.97,491.36A75.3,75.3 0 0 0 490.73,489.35Z" fill="#1e84ea"/>
<path d="M506.18,515.72A105.7,105.7 0 0 1 502.20,518.40L485.78,492.82A75.3,75.3 0 0 0 488.61,490.91Z" fill="#1e85ea"/>
<path d="M503.13,517.79A105.7,105.7 0 0 1 499.06,520.34L483.54,494.20A75.3,75.3 0 0 0 486.44,492.39Z" fill="#1e85ea"/>
<path d="M500.01,519.77A105.7,105.7 0 0 1 495.86,522.16L481.26,495.50A75.3,75.3 0 0 0 484.22,493.79Z" fill="#1e85ea"/>
<path d="M496.83,521.63A105.7,105.7 0 0 1 492.59,523.88L478.93,496.72A75.3,75.3 0 0 0 481.95,495.12Z" fill="#1e85ea"/>
<path d="M493.58,523.38A105.7,105.7 0 0 1 489.27,525.48L476.57,497.86A75.3,75.3 0 0 0 479.64,496.36Z" fill="#1e85ea"/>
<path d="M490.27,525.01A105.7,105.7 0 0 1 485.89,526.96L474.16,498.92A75.3,75.3 0 0 0 477.28,497.53Z" fill="#1e85ea"/>
<path d="M486.91,526.53A105.7,105.7 0 0 1 482.46,528.33L471.72,499.89A75.3,75.3 0 0 0 474.88,498.61Z" fill="#1e85ea"/>
<path d="M483.50,527.93A105.7,105.7 0 0 1 478.99,529.57L469.24,500.77A75.3,75.3 0 0 0 472.45,499.61Z" fill="#1e85ea"/>
<path d="M480.04,529.21A105.7,105.7 0 0 1 475.47,530.69L466.74,501.57A75.3,75.3 0 0 0 469.99,500.52Z" fill="#1e86ea"/>
<path d="M476.53,530.37A105.7,105.7 0 0 1 471.92,531.69L464.21,502.29A75.3,75.3 0 0 0 467.49,501.34Z" fill="#1e86ea"/>
<path d="M472.99,531.40A105.7,105.7 0 0 1 468.34,532.56L461.65,502.91A75.3,75.3 0 0 0 464.97,502.08Z" fill="#1e86ea"/>
<path d="M469.42,532.32A105.7,105.7 0 0 1 464.72,533.31L459.08,503.44A75.3,75.3 0 0 0 462.42,502.73Z" fill="#1e86ea"/>
<path d="M465.81,533.10A105.7,105.7 0 0 1 461.09,533.93L456.49,503.88A75.3,75.3 0 0 0 459.85,503.29Z" fill="#1e86ea"/>
<path d="M462.18,533.76A105.7,105.7 0 0 1 457.43,534.43L453.89,504.24A75.3,75.3 0 0 0 457.27,503.76Z" fill="#1e86ea"/>
<path d="M458.53,534.29A105.7,105.7 0 0 1 453.76,534.79L451.27,504.50A75.3,75.3 0 0 0 454.67,504.14Z" fill="#1e86ea"/>
<path d="M454.86,534.70A105.7,105.7 0 0 1 450.08,535.03L448.65,504.67A75.3,75.3 0 0 0 452.06,504.43Z" fill="#1e86ea"/>
<path d="M451.18,534.97A105.7,105.7 0 0 1 446.39,535.14L446.02,504.74A75.3,75.3 0 0 0 449.43,504.63Z" fill="#1e86ea"/>
<path d="M447.50,535.12A105.7,105.7 0 0 1 442.70,535.12L443.39,504.73A75.3,75.3 0 0 0 446.81,504.73Z" fill="#1e86ea"/>
<path d="M443.81,535.14A105.7,105.7 0 0 1 439.02,534.97L440.77,504.63A75.3,75.3 0 0 0 444.18,504.74Z" fill="#1e87ea"/>
<path d="M440.12,535.03A105.7,105.7 0 0 1 435.34,534.70L438.14,504.43A75.3,75.3 0 0 0 441.55,504.67Z" fill="#1e87ea"/>
<path d="M436.44,534.79A105.7,105.7 0 0 1 431.67,534.29L435.53,504.14A75.3,75.3 0 0 0 438.93,504.50Z" fill="#1e87ea"/>
<path d="M432.77,534.43A105.7,105.7 0 0 1 428.02,533.76L432.93,503.76A75.3,75.3 0 0 0 436.31,504.24Z" fill="#1e87ea"/>
<path d="M429.11,533.93A105.7,105.7 0 0 1 424.39,533.10L430.35,503.29A75.3,75.3 0 0 0 433.71,503.88Z" fill="#1e87ea"/>
<path d="M425.48,533.31A105.7,105.7 0 0 1 420.78,532.32L427.78,502.73A75.3,75.3 0 0 0 431.12,503.44Z" fill="#1e87ea"/>
<path d="M421.86,532.56A105.7,105.7 0 0 1 417.21,531.40L425.23,502.08A75.3,75.3 0 0 0 428.55,502.91Z" fill="#1e87ea"/>
<path d="M418.28,531.69A105.7,105.7 0 0 1 413.67,530.37L422.71,501.34A75.3,75.3 0 0 0 425.99,502.29Z" fill="#1e87ea"/>
<path d="M414.73,530.69A105.7,105.7 0 0 1 410.16,529.21L420.21,500.52A75.3,75.3 0 0 0 423.46,501.57Z" fill="#1e88ea"/>
<path d="M411.21,529.57A105.7,105.7 0 0 1 406.70,527.93L417.75,499.61A75.3,75.3 0 0 0 420.96,500.77Z" fill="#1e88ea"/>
<path d="M407.74,528.33A105.7,105.7 0 0 1 403.29,526.53L415.32,498.61A75.3,75.3 0 0 0 418.48,499.89Z" fill="#1e88ea"/>
<path d="M404.31,526.96A105.7,105.7 0 0 1 399.93,525.01L412.92,497.53A75.3,75.3 0 0 0 416.04,498.92Z" fill="#1e88ea"/>
<path d="M400.93,525.48A105.7,105.7 0 0 1 396.62,523.38L410.56,496.36A75.3,75.3 0 0 0 413.63,497.86Z" fill="#1e88ea"/>
<path d="M397.61,523.88A105.7,105.7 0 0 1 393.37,521.63L408.25,495.12A75.3,75.3 0 0 0 411.27,496.72Z" fill="#1e88ea"/>
<path d="M394.34,522.16A105.7,105.7 0 0 1 390.19,519.77L405.98,493.79A75.3,75.3 0 0 0 408.94,495.50Z" fill="#1e88ea"/>
<path d="M391.14,520.34A105.7,105.7 0 0 1 387.07,517.79L403.76,492.39A75.3,75.3 0 0 0 406.66,494.20Z" fill="#1e88ea"/>
<path d="M388.00,518.40A105.7,105.7 0 0 1 384.02,515.72L401.59,490.91A75.3,75.3 0 0 0 404.42,492.82Z" fill="#1e88ea"/>
<path d="M384.93,516.35A105.7,105.7 0 0 1 381.05,513.53L399.47,489.35A75.3,75.3 0 0 0 402.23,491.36Z" fill="#1e88ea"/>
<path d="M381.93,514.20A105.7,105.7 0 0 1 378.15,511.24L397.41,487.72A75.3,75.3 0 0 0 400.10,489.82Z" fill="#1e89ea"/>
<path d="M379.01,511.94A105.7,105.7 0 0 1 375.34,508.86L395.40,486.02A75.3,75.3 0 0 0 398.02,488.22Z" fill="#1e89ea"/>
<path d="M376.17,509.58A105.7,105.7 0 0 1 372.61,506.38L393.46,484.25A75.3,75.3 0 0 0 396.00,486.54Z" fill="#1e89ea"/>
<path d="M373.42,507.13A105.7,105.7 0 0 1 369.97,503.80L391.58,482.42A75.3,75.3 0 0 0 394.03,484.79Z" fill="#1e89ea"/>
<path d="M370.75,504.58A105.7,105.7 0 0 1 367.42,501.13L389.76,480.52A75.3,75.3 0 0 0 392.13,482.97Z" fill="#1e89ea"/>
<path d="M368.17,501.94A105.7,105.7 0 0 1 364.97,498.38L388.01,478.55A75.3,75.3 0 0 0 390.30,481.09Z" fill="#1e89ea"/>
<path d="M365.69,499.21A105.7,105.7 0 0 1 362.61,495.54L386.33,476.53A75.3,75.3 0 0 0 388.53,479.15Z" fill="#1e89ea"/>
<path d="M363.31,496.40A105.7,105.7 0 0 1 360.35,492.62L384.73,474.45A75.3,75.3 0 0 0 386.83,477.14Z" fill="#1e89ea"/>
<path d="M361.02,493.50A105.7,105.7 0 0 1 358.20,489.62L383.19,472.32A75.3,75.3 0 0 0 385.20,475.08Z" fill="#1e8aea"/>
<path d="M358.83,490.53A105.7,105.7 0 0 1 356.15,486.55L381.73,470.13A75.3,75.3 0 0 0 383.64,472.96Z" fill="#1e8aea"/>
<path d="M356.76,487.48A105.7,105.7 0 0 1 354.21,483.41L380.35,467.89A75.3,75.3 0 0 0 382.16,470.79Z" fill="#1e8aea"/>
<path d="M354.78,484.36A105.7,105.7 0 0 1 352.39,480.21L379.05,465.61A75.3,75.3 0 0 0 380.76,468.57Z" fill="#1e8aea"/>
<path d="M352.92,481.18A105.7,105.7 0 0 1 350.67,476.94L377.83,463.28A75.3,75.3 0 0 0 379.43,466.30Z" fill="#1e8aea"/>
<path d="M351.17,477.93A105.7,105.7 0 0 1 349.07,473.62L376.69,460.92A75.3,75.3 0 0 0 378.19,463.99Z" fill="#1e8aea"/>
<path d="M349.54,474.62A105.7,105.7 0 0 1 347.59,470.24L375.63,458.51A75.3,75.3 0 0 0 377.02,461.63Z" fill="#1e8aea"/>
<path d="M348.02,471.26A105.7,105.7 0 0 1 346.22,466.81L374.66,456.07A75.3,75.3 0 0 0 375.94,459.23Z" fill="#1e8aea"/>
<path d="M346.62,467.85A105.7,105.7 0 0 1 344.98,463.34L373.78,453.59A75.3,75.3 0 0 0 374.94,456.80Z" fill="#1e8aea"/>
<path d="M345.34,464.39A105.7,105.7 0 0 1 343.86,459.82L372.98,451.09A75.3,75.3 0 0 0 374.03,454.34Z" fill="#1e8aea"/>
<path d="M344.18,460.88A105.7,105.7 0 0 1 342.86,456.27L372.26,448.56A75.3,75.3 0 0 0 373.21,451.84Z" fill="#1e8bea"/>
<path d="M343.15,457.34A105.7,105.7 0 0 1 341.99,452.69L371.64,446.00A75.3,75.3 0 0 0 372.47,449.32Z" fill="#1e8bea"/>
<path d="M342.23,453.77A105.7,105.7 0 0 1 341.24,449.07L371.11,443.43A75.3,75.3 0 0 0 371.82,446.77Z" fill="#1e8bea"/>
<path d="M341.45,450.16A105.7,105.7 0 0 1 340.62,445.44L370.67,440.84A75.3,75.3 0 0 0 371.26,444.20Z" fill="#1e8bea"/>
<path d="M340.79,446.53A105.7,105.7 0 0 1 340.12,441.78L370.31,438.24A75.3,75.3 0 0 0 370.79,441.62Z" fill="#1e8bea"/>
<path d="M340.26,442.88A105.7,105.7 0 0 1 339.76,438.11L370.05,435.62A75.3,75.3 0 0 0 370.41,439.02Z" fill="#1e8bea"/>
<path d="M339.85,439.21A105.7,105.7 0 0 1 339.52,434.43L369.88,433.00A75.3,75.3 0 0 0 370.12,436.41Z" fill="#1e8bea"/>
<path d="M339.58,435.53A105.7,105.7 0 0 1 339.41,430.74L369.81,430.37A75.3,75.3 0 0 0 369.92,433.78Z" fill="#1e8bea"/>
<path d="M339.43,431.85A105.7,105.7 0 0 1 339.43,427.05L369.82,427.74A75.3,75.3 0 0 0 369.82,431.16Z" fill="#1e8cea"/>
<path d="M339.41,428.16A105.7,105.7 0 0 1 339.58,423.37L369.92,425.12A75.3,75.3 0 0 0 369.81,428.53Z" fill="#1e8cea"/>
<path d="M339.52,424.47A105.7,105.7 0 0 1 339.85,419.69L370.12,422.49A75.3,75.3 0 0 0 369.88,425.90Z" fill="#1e8cea"/>
<path d="M339.76,420.79A105.7,105.7 0 0 1 340.26,416.02L370.41,419.88A75.3,75.3 0 0 0 370.05,423.28Z" fill="#1e8cea"/>
<path d="M340.12,417.12A105.7,105.7 0 0 1 340.79,412.37L370.79,417.28A75.3,75.3 0 0 0 370.31,420.66Z" fill="#1e8cea"/>
<path d="M340.62,413.46A105.7,105.7 0 0 1 341.45,408.74L371.26,414.70A75.3,75.3 0 0 0 370.67,418.06Z" fill="#1e8cea"/>
<path d="M341.24,409.83A105.7,105.7 0 0 1 342.23,405.13L371.82,412.13A75.3,75.3 0 0 0 371.11,415.47Z" fill="#1e8cea"/>
<path d="M341.99,406.21A105.7,105.7 0 0 1 343.15,401.56L372.47,409.58A75.3,75.3 0 0 0 371.64,412.90Z" fill="#1e8cea"/>
<path d="M342.86,402.63A105.7,105.7 0 0 1 344.18,398.02L373.21,407.06A75.3,75.3 0 0 0 372.26,410.34Z" fill="#1e8cea"/>
<path d="M343.86,399.08A105.7,105.7 0 0 1 345.34,394.51L374.03,404.56A75.3,75.3 0 0 0 372.98,407.81Z" fill="#1e8cea"/>
<path d="M344.98,395.56A105.7,105.7 0 0 1 346.62,391.05L374.94,402.10A75.3,75.3 0 0 0 373.78,405.31Z" fill="#1e8dea"/>
<path d="M346.22,392.09A105.7,105.7 0 0 1 348.02,387.64L375.94,399.67A75.3,75.3 0 0 0 374.66,402.83Z" fill="#1e8dea"/>
<path d="M347.59,388.66A105.7,105.7 0 0 1 349.54,384.28L377.02,397.27A75.3,75.3 0 0 0 375.63,400.39Z" fill="#1e8dea"/>
<path d="M349.07,385.28A105.7,105.7 0 0 1 351.17,380.97L378.19,394.91A75.3,75.3 0 0 0 376.69,397.98Z" fill="#1e8dea"/>
<path d="M350.67,381.96A105.7,105.7 0 0 1 352.92,377.72L379.43,392.60A75.3,75.3 0 0 0 377.83,395.62Z" fill="#1e8dea"/>
<path d="M352.39,378.69A105.7,105.7 0 0 1 354.78,374.54L380.76,390.33A75.3,75.3 0 0 0 379.05,393.29Z" fill="#1e8dea"/>
<path d="M354.21,375.49A105.7,105.7 0 0 1 356.76,371.42L382.16,388.11A75.3,75.3 0 0 0 380.35,391.01Z" fill="#1e8dea"/>
<path d="M356.15,372.35A105.7,105.7 0 0 1 358.83,368.37L383.64,385.94A75.3,75.3 0 0 0 381.73,388.77Z" fill="#1e8dea"/>
<path d="M358.20,369.28A105.7,105.7 0 0 1 361.02,365.40L385.20,383.82A75.3,75.3 0 0 0 383.19,386.58Z" fill="#1e8eea"/>
<path d="M360.35,366.28A105.7,105.7 0 0 1 363.31,362.50L386.83,381.76A75.3,75.3 0 0 0 384.73,384.45Z" fill="#1e8eea"/>
<path d="M362.61,363.36A105.7,105.7 0 0 1 365.69,359.69L388.53,379.75A75.3,75.3 0 0 0 386.33,382.37Z" fill="#1e8eea"/>
<path d="M364.97,360.52A105.7,105.7 0 0 1 368.17,356.96L390.30,377.81A75.3,75.3 0 0 0 388.01,380.35Z" fill="#1e8eea"/>
<path d="M367.42,357.77A105.7,105.7 0 0 1 370.75,354.32L392.13,375.93A75.3,75.3 0 0 0 389.76,378.38Z" fill="#1e8eea"/>
<path d="M369.97,355.10A105.7,105.7 0 0 1 373.42,351.77L394.03,374.11A75.3,75.3 0 0 0 391.58,376.48Z" fill="#1e8eea"/>
<path d="M372.61,352.52A105.7,105.7 0 0 1 376.17,349.32L396.00,372.36A75.3,75.3 0 0 0 393.46,374.65Z" fill="#1e8eea"/>
<path d="M375.34,350.04A105.7,105.7 0 0 1 379.01,346.96L398.02,370.68A75.3,75.3 0 0 0 395.40,372.88Z" fill="#1e8eea"/>
<path d="M378.15,347.66A105.7,105.7 0 0 1 381.93,344.70L400.10,369.08A75.3,75.3 0 0 0 397.41,371.18Z" fill="#1e8eea"/>
<path d="M381.05,345.37A105.7,105.7 0 0 1 384.93,342.55L402.23,367.54A75.3,75.3 0 0 0 399.47,369.55Z" fill="#1e8eea"/>
</g>
<g clip-path="url(#hpBLb)">
<path d="M257.28,529.00A105.7,105.7 0 0 1 253.40,526.18L271.82,502.00A75.3,75.3 0 0 0 274.58,504.01Z" fill="#1a6eec"/>
<path d="M254.28,526.85A105.7,105.7 0 0 1 250.50,523.89L269.76,500.37A75.3,75.3 0 0 0 272.45,502.47Z" fill="#1a6eec"/>
<path d="M251.36,524.59A105.7,105.7 0 0 1 247.69,521.51L267.75,498.67A75.3,75.3 0 0 0 270.37,500.87Z" fill="#1a6eec"/>
<path d="M248.52,522.23A105.7,105.7 0 0 1 244.96,519.03L265.81,496.90A75.3,75.3 0 0 0 268.35,499.19Z" fill="#1a6eec"/>
<path d="M245.77,519.78A105.7,105.7 0 0 1 242.32,516.45L263.93,495.07A75.3,75.3 0 0 0 266.38,497.44Z" fill="#1a6eec"/>
<path d="M243.10,517.23A105.7,105.7 0 0 1 239.77,513.78L262.11,493.17A75.3,75.3 0 0 0 264.48,495.62Z" fill="#1a6eec"/>
<path d="M240.52,514.59A105.7,105.7 0 0 1 237.32,511.03L260.36,491.20A75.3,75.3 0 0 0 262.65,493.74Z" fill="#1a6fec"/>
<path d="M238.04,511.86A105.7,105.7 0 0 1 234.96,508.19L258.68,489.18A75.3,75.3 0 0 0 260.88,491.80Z" fill="#1a6fec"/>
<path d="M235.66,509.05A105.7,105.7 0 0 1 232.70,505.27L257.08,487.10A75.3,75.3 0 0 0 259.18,489.79Z" fill="#1a70ec"/>
<path d="M233.37,506.15A105.7,105.7 0 0 1 230.55,502.27L255.54,484.97A75.3,75.3 0 0 0 257.55,487.73Z" fill="#1a70ec"/>
<path d="M231.18,503.18A105.7,105.7 0 0 1 228.50,499.20L254.08,482.78A75.3,75.3 0 0 0 255.99,485.61Z" fill="#1a71ec"/>
<path d="M229.11,500.13A105.7,105.7 0 0 1 226.56,496.06L252.70,480.54A75.3,75.3 0 0 0 254.51,483.44Z" fill="#1b71ec"/>
<path d="M227.13,497.01A105.7,105.7 0 0 1 224.74,492.86L251.40,478.26A75.3,75.3 0 0 0 253.11,481.22Z" fill="#1b72ec"/>
<path d="M225.27,493.83A105.7,105.7 0 0 1 223.02,489.59L250.18,475.93A75.3,75.3 0 0 0 251.78,478.95Z" fill="#1b72ec"/>
<path d="M223.52,490.58A105.7,105.7 0 0 1 221.42,486.27L249.04,473.57A75.3,75.3 0 0 0 250.54,476.64Z" fill="#1b73ec"/>
<path d="M221.89,487.27A105.7,105.7 0 0 1 219.94,482.89L247.98,471.16A75.3,75.3 0 0 0 249.37,474.28Z" fill="#1b73ec"/>
<path d="M220.37,483.91A105.7,105.7 0 0 1 218.57,479.46L247.01,468.72A75.3,75.3 0 0 0 248.29,471.88Z" fill="#1b74eb"/>
<path d="M218.97,480.50A105.7,105.7 0 0 1 217.33,475.99L246.13,466.24A75.3,75.3 0 0 0 247.29,469.45Z" fill="#1b74eb"/>
<path d="M217.69,477.04A105.7,105.7 0 0 1 216.21,472.47L245.33,463.74A75.3,75.3 0 0 0 246.38,466.99Z" fill="#1b75eb"/>
<path d="M216.53,473.53A105.7,105.7 0 0 1 215.21,468.92L244.61,461.21A75.3,75.3 0 0 0 245.56,464.49Z" fill="#1b75eb"/>
<path d="M215.50,469.99A105.7,105.7 0 0 1 214.34,465.34L243.99,458.65A75.3,75.3 0 0 0 244.82,461.97Z" fill="#1b76eb"/>
<path d="M214.58,466.42A105.7,105.7 0 0 1 213.59,461.72L243.46,456.08A75.3,75.3 0 0 0 244.17,459.42Z" fill="#1b76eb"/>
<path d="M213.80,462.81A105.7,105.7 0 0 1 212.97,458.09L243.02,453.49A75.3,75.3 0 0 0 243.61,456.85Z" fill="#1c77eb"/>
<path d="M213.14,459.18A105.7,105.7 0 0 1 212.47,454.43L242.66,450.89A75.3,75.3 0 0 0 243.14,454.27Z" fill="#1c77eb"/>
<path d="M212.61,455.53A105.7,105.7 0 0 1 212.11,450.76L242.40,448.27A75.3,75.3 0 0 0 242.76,451.67Z" fill="#1c78eb"/>
<path d="M212.20,451.86A105.7,105.7 0 0 1 211.87,447.08L242.23,445.65A75.3,75.3 0 0 0 242.47,449.06Z" fill="#1c78eb"/>
<path d="M211.93,448.18A105.7,105.7 0 0 1 211.76,443.39L242.16,443.02A75.3,75.3 0 0 0 242.27,446.43Z" fill="#1c79eb"/>
<path d="M211.78,444.50A105.7,105.7 0 0 1 211.78,439.70L242.17,440.39A75.3,75.3 0 0 0 242.17,443.81Z" fill="#1c79eb"/>
<path d="M211.76,440.81A105.7,105.7 0 0 1 211.93,436.02L242.27,437.77A75.3,75.3 0 0 0 242.16,441.18Z" fill="#1c79eb"/>
<path d="M211.87,437.12A105.7,105.7 0 0 1 212.20,432.34L242.47,435.14A75.3,75.3 0 0 0 242.23,438.55Z" fill="#1c7aeb"/>
<path d="M212.11,433.44A105.7,105.7 0 0 1 212.61,428.67L242.76,432.53A75.3,75.3 0 0 0 242.40,435.93Z" fill="#1c7aeb"/>
<path d="M212.47,429.77A105.7,105.7 0 0 1 213.14,425.02L243.14,429.93A75.3,75.3 0 0 0 242.66,433.31Z" fill="#1c7beb"/>
<path d="M212.97,426.11A105.7,105.7 0 0 1 213.80,421.39L243.61,427.35A75.3,75.3 0 0 0 243.02,430.71Z" fill="#1c7beb"/>
<path d="M213.59,422.48A105.7,105.7 0 0 1 214.58,417.78L244.17,424.78A75.3,75.3 0 0 0 243.46,428.12Z" fill="#1d7ceb"/>
<path d="M214.34,418.86A105.7,105.7 0 0 1 215.50,414.21L244.82,422.23A75.3,75.3 0 0 0 243.99,425.55Z" fill="#1d7ceb"/>
<path d="M215.21,415.28A105.7,105.7 0 0 1 216.53,410.67L245.56,419.71A75.3,75.3 0 0 0 244.61,422.99Z" fill="#1d7deb"/>
<path d="M216.21,411.73A105.7,105.7 0 0 1 217.69,407.16L246.38,417.21A75.3,75.3 0 0 0 245.33,420.46Z" fill="#1d7deb"/>
<path d="M217.33,408.21A105.7,105.7 0 0 1 218.97,403.70L247.29,414.75A75.3,75.3 0 0 0 246.13,417.96Z" fill="#1d7eeb"/>
<path d="M218.57,404.74A105.7,105.7 0 0 1 220.37,400.29L248.29,412.32A75.3,75.3 0 0 0 247.01,415.48Z" fill="#1d7eeb"/>
<path d="M219.94,401.31A105.7,105.7 0 0 1 221.89,396.93L249.37,409.92A75.3,75.3 0 0 0 247.98,413.04Z" fill="#1d7fea"/>
<path d="M221.42,397.93A105.7,105.7 0 0 1 223.52,393.62L250.54,407.56A75.3,75.3 0 0 0 249.04,410.63Z" fill="#1d7fea"/>
<path d="M223.02,394.61A105.7,105.7 0 0 1 225.27,390.37L251.78,405.25A75.3,75.3 0 0 0 250.18,408.27Z" fill="#1d80ea"/>
<path d="M224.74,391.34A105.7,105.7 0 0 1 227.13,387.19L253.11,402.98A75.3,75.3 0 0 0 251.40,405.94Z" fill="#1d80ea"/>
<path d="M226.56,388.14A105.7,105.7 0 0 1 229.11,384.07L254.51,400.76A75.3,75.3 0 0 0 252.70,403.66Z" fill="#1d81ea"/>
<path d="M228.50,385.00A105.7,105.7 0 0 1 231.18,381.02L255.99,398.59A75.3,75.3 0 0 0 254.08,401.42Z" fill="#1e81ea"/>
<path d="M230.55,381.93A105.7,105.7 0 0 1 233.37,378.05L257.55,396.47A75.3,75.3 0 0 0 255.54,399.23Z" fill="#1e82ea"/>
<path d="M232.70,378.93A105.7,105.7 0 0 1 235.66,375.15L259.18,394.41A75.3,75.3 0 0 0 257.08,397.10Z" fill="#1e82ea"/>
<path d="M234.96,376.01A105.7,105.7 0 0 1 238.04,372.34L260.88,392.40A75.3,75.3 0 0 0 258.68,395.02Z" fill="#1e83ea"/>
<path d="M237.32,373.17A105.7,105.7 0 0 1 240.52,369.61L262.65,390.46A75.3,75.3 0 0 0 260.36,393.00Z" fill="#1e83ea"/>
<path d="M239.77,370.42A105.7,105.7 0 0 1 243.10,366.97L264.48,388.58A75.3,75.3 0 0 0 262.11,391.03Z" fill="#1e84ea"/>
<path d="M242.32,367.75A105.7,105.7 0 0 1 245.77,364.42L266.38,386.76A75.3,75.3 0 0 0 263.93,389.13Z" fill="#1e84ea"/>
<path d="M244.96,365.17A105.7,105.7 0 0 1 248.52,361.97L268.35,385.01A75.3,75.3 0 0 0 265.81,387.30Z" fill="#1e85ea"/>
<path d="M247.69,362.69A105.7,105.7 0 0 1 251.36,359.61L270.37,383.33A75.3,75.3 0 0 0 267.75,385.53Z" fill="#1e85ea"/>
<path d="M250.50,360.31A105.7,105.7 0 0 1 254.28,357.35L272.45,381.73A75.3,75.3 0 0 0 269.76,383.83Z" fill="#1e86ea"/>
<path d="M253.40,358.02A105.7,105.7 0 0 1 257.28,355.20L274.58,380.19A75.3,75.3 0 0 0 271.82,382.20Z" fill="#1e86ea"/>
<path d="M256.37,355.83A105.7,105.7 0 0 1 260.35,353.15L276.77,378.73A75.3,75.3 0 0 0 273.94,380.64Z" fill="#1e86ea"/>
<path d="M259.42,353.76A105.7,105.7 0 0 1 263.49,351.21L279.01,377.35A75.3,75.3 0 0 0 276.11,379.16Z" fill="#1e87ea"/>
<path d="M262.54,351.78A105.7,105.7 0 0 1 266.69,349.39L281.29,376.05A75.3,75.3 0 0 0 278.33,377.76Z" fill="#1e87ea"/>
<path d="M265.72,349.92A105.7,105.7 0 0 1 269.96,347.67L283.62,374.83A75.3,75.3 0 0 0 280.60,376.43Z" fill="#1f88ea"/>
<path d="M268.97,348.17A105.7,105.7 0 0 1 273.28,346.07L285.98,373.69A75.3,75.3 0 0 0 282.91,375.19Z" fill="#1f88ea"/>
<path d="M272.28,346.54A105.7,105.7 0 0 1 276.66,344.59L288.39,372.63A75.3,75.3 0 0 0 285.27,374.02Z" fill="#1f89ea"/>
<path d="M275.64,345.02A105.7,105.7 0 0 1 280.09,343.22L290.83,371.66A75.3,75.3 0 0 0 287.67,372.94Z" fill="#1f89e9"/>
<path d="M279.05,343.62A105.7,105.7 0 0 1 283.56,341.98L293.31,370.78A75.3,75.3 0 0 0 290.10,371.94Z" fill="#1f8ae9"/>
<path d="M282.51,342.34A105.7,105.7 0 0 1 287.08,340.86L295.81,369.98A75.3,75.3 0 0 0 292.56,371.03Z" fill="#1f8ae9"/>
<path d="M286.02,341.18A105.7,105.7 0 0 1 290.63,339.86L298.34,369.26A75.3,75.3 0 0 0 295.06,370.21Z" fill="#1f8ae9"/>
<path d="M289.56,340.15A105.7,105.7 0 0 1 294.21,338.99L300.90,368.64A75.3,75.3 0 0 0 297.58,369.47Z" fill="#1f8be9"/>
<path d="M293.13,339.23A105.7,105.7 0 0 1 297.83,338.24L303.47,368.11A75.3,75.3 0 0 0 300.13,368.82Z" fill="#1f8be9"/>
<path d="M296.74,338.45A105.7,105.7 0 0 1 301.46,337.62L306.06,367.67A75.3,75.3 0 0 0 302.70,368.26Z" fill="#1f8ce9"/>
<path d="M300.37,337.79A105.7,105.7 0 0 1 305.12,337.12L308.66,367.31A75.3,75.3 0 0 0 305.28,367.79Z" fill="#1f8ce9"/>
<path d="M304.02,337.26A105.7,105.7 0 0 1 308.79,336.76L311.28,367.05A75.3,75.3 0 0 0 307.88,367.41Z" fill="#1f8de9"/>
<path d="M307.69,336.85A105.7,105.7 0 0 1 312.47,336.52L313.90,366.88A75.3,75.3 0 0 0 310.49,367.12Z" fill="#1f8de9"/>
<path d="M311.37,336.58A105.7,105.7 0 0 1 316.16,336.41L316.53,366.81A75.3,75.3 0 0 0 313.12,366.92Z" fill="#1f8ee9"/>
<path d="M315.05,336.43A105.7,105.7 0 0 1 319.85,336.43L319.16,366.82A75.3,75.3 0 0 0 315.74,366.82Z" fill="#208ee9"/>
<path d="M318.74,336.41A105.7,105.7 0 0 1 323.53,336.58L321.78,366.92A75.3,75.3 0 0 0 318.37,366.81Z" fill="#208ee9"/>
<path d="M322.43,336.52A105.7,105.7 0 0 1 327.21,336.85L324.41,367.12A75.3,75.3 0 0 0 321.00,366.88Z" fill="#208fe9"/>
<path d="M326.11,336.76A105.7,105.7 0 0 1 330.88,337.26L327.02,367.41A75.3,75.3 0 0 0 323.62,367.05Z" fill="#208fe9"/>
<path d="M329.78,337.12A105.7,105.7 0 0 1 334.53,337.79L329.62,367.79A75.3,75.3 0 0 0 326.24,367.31Z" fill="#2090e9"/>
<path d="M333.44,337.62A105.7,105.7 0 0 1 338.16,338.45L332.20,368.26A75.3,75.3 0 0 0 328.84,367.67Z" fill="#2090e9"/>
<path d="M337.07,338.24A105.7,105.7 0 0 1 341.77,339.23L334.77,368.82A75.3,75.3 0 0 0 331.43,368.11Z" fill="#2091e9"/>
<path d="M340.69,338.99A105.7,105.7 0 0 1 345.34,340.15L337.32,369.47A75.3,75.3 0 0 0 334.00,368.64Z" fill="#2091e9"/>
<path d="M344.27,339.86A105.7,105.7 0 0 1 348.88,341.18L339.84,370.21A75.3,75.3 0 0 0 336.56,369.26Z" fill="#2092e9"/>
<path d="M347.82,340.86A105.7,105.7 0 0 1 352.39,342.34L342.34,371.03A75.3,75.3 0 0 0 339.09,369.98Z" fill="#2092e9"/>
<path d="M351.34,341.98A105.7,105.7 0 0 1 355.85,343.62L344.80,371.94A75.3,75.3 0 0 0 341.59,370.78Z" fill="#2092e9"/>
<path d="M354.81,343.22A105.7,105.7 0 0 1 359.26,345.02L347.23,372.94A75.3,75.3 0 0 0 344.07,371.66Z" fill="#2093e9"/>
<path d="M358.24,344.59A105.7,105.7 0 0 1 362.62,346.54L349.63,374.02A75.3,75.3 0 0 0 346.51,372.63Z" fill="#2093e8"/>
<path d="M361.62,346.07A105.7,105.7 0 0 1 365.93,348.17L351.99,375.19A75.3,75.3 0 0 0 348.92,373.69Z" fill="#2094e8"/>
<path d="M364.94,347.67A105.7,105.7 0 0 1 369.18,349.92L354.30,376.43A75.3,75.3 0 0 0 351.28,374.83Z" fill="#2094e8"/>
<path d="M368.21,349.39A105.7,105.7 0 0 1 372.36,351.78L356.57,377.76A75.3,75.3 0 0 0 353.61,376.05Z" fill="#2095e8"/>
<path d="M371.41,351.21A105.7,105.7 0 0 1 375.48,353.76L358.79,379.16A75.3,75.3 0 0 0 355.89,377.35Z" fill="#2195e8"/>
<path d="M374.55,353.15A105.7,105.7 0 0 1 378.53,355.83L360.96,380.64A75.3,75.3 0 0 0 358.13,378.73Z" fill="#2196e8"/>
<path d="M377.62,355.20A105.7,105.7 0 0 1 381.50,358.02L363.08,382.20A75.3,75.3 0 0 0 360.32,380.19Z" fill="#2196e8"/>
<path d="M380.62,357.35A105.7,105.7 0 0 1 384.40,360.31L365.14,383.83A75.3,75.3 0 0 0 362.45,381.73Z" fill="#2196e8"/>
<path d="M383.54,359.61A105.7,105.7 0 0 1 387.21,362.69L367.15,385.53A75.3,75.3 0 0 0 364.53,383.33Z" fill="#2197e8"/>
<path d="M386.38,361.97A105.7,105.7 0 0 1 389.94,365.17L369.09,387.30A75.3,75.3 0 0 0 366.55,385.01Z" fill="#2197e8"/>
<path d="M389.13,364.42A105.7,105.7 0 0 1 392.58,367.75L370.97,389.13A75.3,75.3 0 0 0 368.52,386.76Z" fill="#2198e8"/>
<path d="M391.80,366.97A105.7,105.7 0 0 1 395.13,370.42L372.79,391.03A75.3,75.3 0 0 0 370.42,388.58Z" fill="#2198e8"/>
<path d="M394.38,369.61A105.7,105.7 0 0 1 397.58,373.17L374.54,393.00A75.3,75.3 0 0 0 372.25,390.46Z" fill="#2198e8"/>
<path d="M396.86,372.34A105.7,105.7 0 0 1 399.94,376.01L376.22,395.02A75.3,75.3 0 0 0 374.02,392.40Z" fill="#2198e8"/>
<path d="M399.24,375.15A105.7,105.7 0 0 1 402.20,378.93L377.82,397.10A75.3,75.3 0 0 0 375.72,394.41Z" fill="#2198e8"/>
<path d="M401.53,378.05A105.7,105.7 0 0 1 404.35,381.93L379.36,399.23A75.3,75.3 0 0 0 377.35,396.47Z" fill="#2198e8"/>
</g>
<g clip-path="url(#hpTRp)">
<path d="M529.18,250.40A105.7,105.7 0 0 1 532.00,254.28L507.01,271.58A75.3,75.3 0 0 0 505.00,268.82Z" fill="#df9783"/>
<path d="M526.89,247.50A105.7,105.7 0 0 1 529.85,251.28L505.47,269.45A75.3,75.3 0 0 0 503.37,266.76Z" fill="#df9783"/>
<path d="M524.51,244.69A105.7,105.7 0 0 1 527.59,248.36L503.87,267.37A75.3,75.3 0 0 0 501.67,264.75Z" fill="#df9783"/>
<path d="M522.03,241.96A105.7,105.7 0 0 1 525.23,245.52L502.19,265.35A75.3,75.3 0 0 0 499.90,262.81Z" fill="#df9783"/>
<path d="M519.45,239.32A105.7,105.7 0 0 1 522.78,242.77L500.44,263.38A75.3,75.3 0 0 0 498.07,260.93Z" fill="#df9783"/>
<path d="M516.78,236.77A105.7,105.7 0 0 1 520.23,240.10L498.62,261.48A75.3,75.3 0 0 0 496.17,259.11Z" fill="#df9783"/>
<path d="M514.03,234.32A105.7,105.7 0 0 1 517.59,237.52L496.74,259.65A75.3,75.3 0 0 0 494.20,257.36Z" fill="#df9783"/>
<path d="M511.19,231.96A105.7,105.7 0 0 1 514.86,235.04L494.80,257.88A75.3,75.3 0 0 0 492.18,255.68Z" fill="#df9783"/>
<path d="M508.27,229.70A105.7,105.7 0 0 1 512.05,232.66L492.79,256.18A75.3,75.3 0 0 0 490.10,254.08Z" fill="#df9783"/>
<path d="M505.27,227.55A105.7,105.7 0 0 1 509.15,230.37L490.73,254.55A75.3,75.3 0 0 0 487.97,252.54Z" fill="#df9683"/>
<path d="M502.20,225.50A105.7,105.7 0 0 1 506.18,228.18L488.61,252.99A75.3,75.3 0 0 0 485.78,251.08Z" fill="#df9683"/>
<path d="M499.06,223.56A105.7,105.7 0 0 1 503.13,226.11L486.44,251.51A75.3,75.3 0 0 0 483.54,249.70Z" fill="#df9683"/>
<path d="M495.86,221.74A105.7,105.7 0 0 1 500.01,224.13L484.22,250.11A75.3,75.3 0 0 0 481.26,248.40Z" fill="#df9683"/>
<path d="M492.59,220.02A105.7,105.7 0 0 1 496.83,222.27L481.95,248.78A75.3,75.3 0 0 0 478.93,247.18Z" fill="#df9683"/>
<path d="M489.27,218.42A105.7,105.7 0 0 1 493.58,220.52L479.64,247.54A75.3,75.3 0 0 0 476.57,246.04Z" fill="#df9683"/>
<path d="M485.89,216.94A105.7,105.7 0 0 1 490.27,218.89L477.28,246.37A75.3,75.3 0 0 0 474.16,244.98Z" fill="#df9683"/>
<path d="M482.46,215.57A105.7,105.7 0 0 1 486.91,217.37L474.88,245.29A75.3,75.3 0 0 0 471.72,244.01Z" fill="#df9683"/>
<path d="M478.99,214.33A105.7,105.7 0 0 1 483.50,215.97L472.45,244.29A75.3,75.3 0 0 0 469.24,243.13Z" fill="#df9683"/>
<path d="M475.47,213.21A105.7,105.7 0 0 1 480.04,214.69L469.99,243.38A75.3,75.3 0 0 0 466.74,242.33Z" fill="#df9683"/>
<path d="M471.92,212.21A105.7,105.7 0 0 1 476.53,213.53L467.49,242.56A75.3,75.3 0 0 0 464.21,241.61Z" fill="#df9583"/>
<path d="M468.34,211.34A105.7,105.7 0 0 1 472.99,212.50L464.97,241.82A75.3,75.3 0 0 0 461.65,240.99Z" fill="#df9583"/>
<path d="M464.72,210.59A105.7,105.7 0 0 1 469.42,211.58L462.42,241.17A75.3,75.3 0 0 0 459.08,240.46Z" fill="#df9583"/>
<path d="M461.09,209.97A105.7,105.7 0 0 1 465.81,210.80L459.85,240.61A75.3,75.3 0 0 0 456.49,240.02Z" fill="#df9583"/>
<path d="M457.43,209.47A105.7,105.7 0 0 1 462.18,210.14L457.27,240.14A75.3,75.3 0 0 0 453.89,239.66Z" fill="#df9583"/>
<path d="M453.76,209.11A105.7,105.7 0 0 1 458.53,209.61L454.67,239.76A75.3,75.3 0 0 0 451.27,239.40Z" fill="#df9583"/>
<path d="M450.08,208.87A105.7,105.7 0 0 1 454.86,209.20L452.06,239.47A75.3,75.3 0 0 0 448.65,239.23Z" fill="#df9583"/>
<path d="M446.39,208.76A105.7,105.7 0 0 1 451.18,208.93L449.43,239.27A75.3,75.3 0 0 0 446.02,239.16Z" fill="#df9583"/>
<path d="M442.70,208.78A105.7,105.7 0 0 1 447.50,208.78L446.81,239.17A75.3,75.3 0 0 0 443.39,239.17Z" fill="#df9483"/>
<path d="M439.02,208.93A105.7,105.7 0 0 1 443.81,208.76L444.18,239.16A75.3,75.3 0 0 0 440.77,239.27Z" fill="#df9483"/>
<path d="M435.34,209.20A105.7,105.7 0 0 1 440.12,208.87L441.55,239.23A75.3,75.3 0 0 0 438.14,239.47Z" fill="#df9483"/>
<path d="M431.67,209.61A105.7,105.7 0 0 1 436.44,209.11L438.93,239.40A75.3,75.3 0 0 0 435.53,239.76Z" fill="#df9483"/>
<path d="M428.02,210.14A105.7,105.7 0 0 1 432.77,209.47L436.31,239.66A75.3,75.3 0 0 0 432.93,240.14Z" fill="#df9483"/>
<path d="M424.39,210.80A105.7,105.7 0 0 1 429.11,209.97L433.71,240.02A75.3,75.3 0 0 0 430.35,240.61Z" fill="#df9483"/>
<path d="M420.78,211.58A105.7,105.7 0 0 1 425.48,210.59L431.12,240.46A75.3,75.3 0 0 0 427.78,241.17Z" fill="#df9383"/>
<path d="M417.21,212.50A105.7,105.7 0 0 1 421.86,211.34L428.55,240.99A75.3,75.3 0 0 0 425.23,241.82Z" fill="#df9283"/>
<path d="M413.67,213.53A105.7,105.7 0 0 1 418.28,212.21L425.99,241.61A75.3,75.3 0 0 0 422.71,242.56Z" fill="#df9183"/>
<path d="M410.16,214.69A105.7,105.7 0 0 1 414.73,213.21L423.46,242.33A75.3,75.3 0 0 0 420.21,243.38Z" fill="#df9184"/>
<path d="M406.70,215.97A105.7,105.7 0 0 1 411.21,214.33L420.96,243.13A75.3,75.3 0 0 0 417.75,244.29Z" fill="#df9084"/>
<path d="M403.29,217.37A105.7,105.7 0 0 1 407.74,215.57L418.48,244.01A75.3,75.3 0 0 0 415.32,245.29Z" fill="#df8f84"/>
<path d="M399.93,218.89A105.7,105.7 0 0 1 404.31,216.94L416.04,244.98A75.3,75.3 0 0 0 412.92,246.37Z" fill="#df8e84"/>
<path d="M396.62,220.52A105.7,105.7 0 0 1 400.93,218.42L413.63,246.04A75.3,75.3 0 0 0 410.56,247.54Z" fill="#df8e84"/>
<path d="M393.37,222.27A105.7,105.7 0 0 1 397.61,220.02L411.27,247.18A75.3,75.3 0 0 0 408.25,248.78Z" fill="#df8d84"/>
<path d="M390.19,224.13A105.7,105.7 0 0 1 394.34,221.74L408.94,248.40A75.3,75.3 0 0 0 405.98,250.11Z" fill="#df8c84"/>
<path d="M387.07,226.11A105.7,105.7 0 0 1 391.14,223.56L406.66,249.70A75.3,75.3 0 0 0 403.76,251.51Z" fill="#e08b85"/>
<path d="M384.02,228.18A105.7,105.7 0 0 1 388.00,225.50L404.42,251.08A75.3,75.3 0 0 0 401.59,252.99Z" fill="#e08b85"/>
<path d="M381.05,230.37A105.7,105.7 0 0 1 384.93,227.55L402.23,252.54A75.3,75.3 0 0 0 399.47,254.55Z" fill="#e08a85"/>
<path d="M378.15,232.66A105.7,105.7 0 0 1 381.93,229.70L400.10,254.08A75.3,75.3 0 0 0 397.41,256.18Z" fill="#e08985"/>
<path d="M375.34,235.04A105.7,105.7 0 0 1 379.01,231.96L398.02,255.68A75.3,75.3 0 0 0 395.40,257.88Z" fill="#e08885"/>
<path d="M372.61,237.52A105.7,105.7 0 0 1 376.17,234.32L396.00,257.36A75.3,75.3 0 0 0 393.46,259.65Z" fill="#e08885"/>
<path d="M369.97,240.10A105.7,105.7 0 0 1 373.42,236.77L394.03,259.11A75.3,75.3 0 0 0 391.58,261.48Z" fill="#e08785"/>
<path d="M367.42,242.77A105.7,105.7 0 0 1 370.75,239.32L392.13,260.93A75.3,75.3 0 0 0 389.76,263.38Z" fill="#e08685"/>
<path d="M364.97,245.52A105.7,105.7 0 0 1 368.17,241.96L390.30,262.81A75.3,75.3 0 0 0 388.01,265.35Z" fill="#e08586"/>
<path d="M362.61,248.36A105.7,105.7 0 0 1 365.69,244.69L388.53,264.75A75.3,75.3 0 0 0 386.33,267.37Z" fill="#e08586"/>
<path d="M360.35,251.28A105.7,105.7 0 0 1 363.31,247.50L386.83,266.76A75.3,75.3 0 0 0 384.73,269.45Z" fill="#e08486"/>
<path d="M358.20,254.28A105.7,105.7 0 0 1 361.02,250.40L385.20,268.82A75.3,75.3 0 0 0 383.19,271.58Z" fill="#e08386"/>
<path d="M356.15,257.35A105.7,105.7 0 0 1 358.83,253.37L383.64,270.94A75.3,75.3 0 0 0 381.73,273.77Z" fill="#e08286"/>
<path d="M354.21,260.49A105.7,105.7 0 0 1 356.76,256.42L382.16,273.11A75.3,75.3 0 0 0 380.35,276.01Z" fill="#e08186"/>
<path d="M352.39,263.69A105.7,105.7 0 0 1 354.78,259.54L380.76,275.33A75.3,75.3 0 0 0 379.05,278.29Z" fill="#e07f86"/>
<path d="M350.67,266.96A105.7,105.7 0 0 1 352.92,262.72L379.43,277.60A75.3,75.3 0 0 0 377.83,280.62Z" fill="#e07e86"/>
<path d="M349.07,270.28A105.7,105.7 0 0 1 351.17,265.97L378.19,279.91A75.3,75.3 0 0 0 376.69,282.98Z" fill="#e07d86"/>
<path d="M347.59,273.66A105.7,105.7 0 0 1 349.54,269.28L377.02,282.27A75.3,75.3 0 0 0 375.63,285.39Z" fill="#e07c87"/>
<path d="M346.22,277.09A105.7,105.7 0 0 1 348.02,272.64L375.94,284.67A75.3,75.3 0 0 0 374.66,287.83Z" fill="#e07b87"/>
<path d="M344.98,280.56A105.7,105.7 0 0 1 346.62,276.05L374.94,287.10A75.3,75.3 0 0 0 373.78,290.31Z" fill="#e07987"/>
<path d="M343.86,284.08A105.7,105.7 0 0 1 345.34,279.51L374.03,289.56A75.3,75.3 0 0 0 372.98,292.81Z" fill="#e07887"/>
<path d="M342.86,287.63A105.7,105.7 0 0 1 344.18,283.02L373.21,292.06A75.3,75.3 0 0 0 372.26,295.34Z" fill="#e07787"/>
<path d="M341.99,291.21A105.7,105.7 0 0 1 343.15,286.56L372.47,294.58A75.3,75.3 0 0 0 371.64,297.90Z" fill="#e07687"/>
<path d="M341.24,294.83A105.7,105.7 0 0 1 342.23,290.13L371.82,297.13A75.3,75.3 0 0 0 371.11,300.47Z" fill="#e17587"/>
<path d="M340.62,298.46A105.7,105.7 0 0 1 341.45,293.74L371.26,299.70A75.3,75.3 0 0 0 370.67,303.06Z" fill="#e17387"/>
<path d="M340.12,302.12A105.7,105.7 0 0 1 340.79,297.37L370.79,302.28A75.3,75.3 0 0 0 370.31,305.66Z" fill="#e17287"/>
<path d="M339.76,305.79A105.7,105.7 0 0 1 340.26,301.02L370.41,304.88A75.3,75.3 0 0 0 370.05,308.28Z" fill="#e17187"/>
<path d="M339.52,309.47A105.7,105.7 0 0 1 339.85,304.69L370.12,307.49A75.3,75.3 0 0 0 369.88,310.90Z" fill="#e17087"/>
<path d="M339.41,313.16A105.7,105.7 0 0 1 339.58,308.37L369.92,310.12A75.3,75.3 0 0 0 369.81,313.53Z" fill="#e16f88"/>
<path d="M339.43,316.85A105.7,105.7 0 0 1 339.43,312.05L369.82,312.74A75.3,75.3 0 0 0 369.82,316.16Z" fill="#e16d88"/>
<path d="M339.58,320.53A105.7,105.7 0 0 1 339.41,315.74L369.81,315.37A75.3,75.3 0 0 0 369.92,318.78Z" fill="#e16c88"/>
<path d="M339.85,324.21A105.7,105.7 0 0 1 339.52,319.43L369.88,318.00A75.3,75.3 0 0 0 370.12,321.41Z" fill="#e16b88"/>
<path d="M340.26,327.88A105.7,105.7 0 0 1 339.76,323.11L370.05,320.62A75.3,75.3 0 0 0 370.41,324.02Z" fill="#e16a88"/>
<path d="M340.79,331.53A105.7,105.7 0 0 1 340.12,326.78L370.31,323.24A75.3,75.3 0 0 0 370.79,326.62Z" fill="#e16988"/>
<path d="M341.45,335.16A105.7,105.7 0 0 1 340.62,330.44L370.67,325.84A75.3,75.3 0 0 0 371.26,329.20Z" fill="#e16788"/>
<path d="M342.23,338.77A105.7,105.7 0 0 1 341.24,334.07L371.11,328.43A75.3,75.3 0 0 0 371.82,331.77Z" fill="#e16688"/>
<path d="M343.15,342.34A105.7,105.7 0 0 1 341.99,337.69L371.64,331.00A75.3,75.3 0 0 0 372.47,334.32Z" fill="#e16588"/>
<path d="M344.18,345.88A105.7,105.7 0 0 1 342.86,341.27L372.26,333.56A75.3,75.3 0 0 0 373.21,336.84Z" fill="#e16389"/>
<path d="M345.34,349.39A105.7,105.7 0 0 1 343.86,344.82L372.98,336.09A75.3,75.3 0 0 0 374.03,339.34Z" fill="#e26289"/>
<path d="M346.62,352.85A105.7,105.7 0 0 1 344.98,348.34L373.78,338.59A75.3,75.3 0 0 0 374.94,341.80Z" fill="#e26089"/>
<path d="M348.02,356.26A105.7,105.7 0 0 1 346.22,351.81L374.66,341.07A75.3,75.3 0 0 0 375.94,344.23Z" fill="#e25f89"/>
<path d="M349.54,359.62A105.7,105.7 0 0 1 347.59,355.24L375.63,343.51A75.3,75.3 0 0 0 377.02,346.63Z" fill="#e25e89"/>
<path d="M351.17,362.93A105.7,105.7 0 0 1 349.07,358.62L376.69,345.92A75.3,75.3 0 0 0 378.19,348.99Z" fill="#e25c89"/>
<path d="M352.92,366.18A105.7,105.7 0 0 1 350.67,361.94L377.83,348.28A75.3,75.3 0 0 0 379.43,351.30Z" fill="#e25b8a"/>
<path d="M354.78,369.36A105.7,105.7 0 0 1 352.39,365.21L379.05,350.61A75.3,75.3 0 0 0 380.76,353.57Z" fill="#e2598a"/>
<path d="M356.76,372.48A105.7,105.7 0 0 1 354.21,368.41L380.35,352.89A75.3,75.3 0 0 0 382.16,355.79Z" fill="#e2588a"/>
<path d="M358.83,375.53A105.7,105.7 0 0 1 356.15,371.55L381.73,355.13A75.3,75.3 0 0 0 383.64,357.96Z" fill="#e2578a"/>
<path d="M361.02,378.50A105.7,105.7 0 0 1 358.20,374.62L383.19,357.32A75.3,75.3 0 0 0 385.20,360.08Z" fill="#e2558a"/>
<path d="M363.31,381.40A105.7,105.7 0 0 1 360.35,377.62L384.73,359.45A75.3,75.3 0 0 0 386.83,362.14Z" fill="#e3548a"/>
<path d="M365.69,384.21A105.7,105.7 0 0 1 362.61,380.54L386.33,361.53A75.3,75.3 0 0 0 388.53,364.15Z" fill="#e3528b"/>
<path d="M368.17,386.94A105.7,105.7 0 0 1 364.97,383.38L388.01,363.55A75.3,75.3 0 0 0 390.30,366.09Z" fill="#e3518b"/>
<path d="M370.75,389.58A105.7,105.7 0 0 1 367.42,386.13L389.76,365.52A75.3,75.3 0 0 0 392.13,367.97Z" fill="#e3508b"/>
<path d="M373.42,392.13A105.7,105.7 0 0 1 369.97,388.80L391.58,367.42A75.3,75.3 0 0 0 394.03,369.79Z" fill="#e34f8b"/>
<path d="M376.17,394.58A105.7,105.7 0 0 1 372.61,391.38L393.46,369.25A75.3,75.3 0 0 0 396.00,371.54Z" fill="#e34f8b"/>
<path d="M379.01,396.94A105.7,105.7 0 0 1 375.34,393.86L395.40,371.02A75.3,75.3 0 0 0 398.02,373.22Z" fill="#e34f8b"/>
<path d="M381.93,399.20A105.7,105.7 0 0 1 378.15,396.24L397.41,372.72A75.3,75.3 0 0 0 400.10,374.82Z" fill="#e34f8b"/>
<path d="M384.93,401.35A105.7,105.7 0 0 1 381.05,398.53L399.47,374.35A75.3,75.3 0 0 0 402.23,376.36Z" fill="#e34f8b"/>
</g>
<g clip-path="url(#hpBLp)">
<path d="M220.72,493.50A105.7,105.7 0 0 1 217.90,489.62L242.89,472.32A75.3,75.3 0 0 0 244.90,475.08Z" fill="#df9783"/>
<path d="M223.01,496.40A105.7,105.7 0 0 1 220.05,492.62L244.43,474.45A75.3,75.3 0 0 0 246.53,477.14Z" fill="#df9783"/>
<path d="M225.39,499.21A105.7,105.7 0 0 1 222.31,495.54L246.03,476.53A75.3,75.3 0 0 0 248.23,479.15Z" fill="#df9783"/>
<path d="M227.87,501.94A105.7,105.7 0 0 1 224.67,498.38L247.71,478.55A75.3,75.3 0 0 0 250.00,481.09Z" fill="#df9783"/>
<path d="M230.45,504.58A105.7,105.7 0 0 1 227.12,501.13L249.46,480.52A75.3,75.3 0 0 0 251.83,482.97Z" fill="#df9783"/>
<path d="M233.12,507.13A105.7,105.7 0 0 1 229.67,503.80L251.28,482.42A75.3,75.3 0 0 0 253.73,484.79Z" fill="#df9783"/>
<path d="M235.87,509.58A105.7,105.7 0 0 1 232.31,506.38L253.16,484.25A75.3,75.3 0 0 0 255.70,486.54Z" fill="#df9783"/>
<path d="M238.71,511.94A105.7,105.7 0 0 1 235.04,508.86L255.10,486.02A75.3,75.3 0 0 0 257.72,488.22Z" fill="#df9783"/>
<path d="M241.63,514.20A105.7,105.7 0 0 1 237.85,511.24L257.11,487.72A75.3,75.3 0 0 0 259.80,489.82Z" fill="#df9783"/>
<path d="M244.63,516.35A105.7,105.7 0 0 1 240.75,513.53L259.17,489.35A75.3,75.3 0 0 0 261.93,491.36Z" fill="#df9683"/>
<path d="M247.70,518.40A105.7,105.7 0 0 1 243.72,515.72L261.29,490.91A75.3,75.3 0 0 0 264.12,492.82Z" fill="#df9683"/>
<path d="M250.84,520.34A105.7,105.7 0 0 1 246.77,517.79L263.46,492.39A75.3,75.3 0 0 0 266.36,494.20Z" fill="#df9683"/>
<path d="M254.04,522.16A105.7,105.7 0 0 1 249.89,519.77L265.68,493.79A75.3,75.3 0 0 0 268.64,495.50Z" fill="#df9683"/>
<path d="M257.31,523.88A105.7,105.7 0 0 1 253.07,521.63L267.95,495.12A75.3,75.3 0 0 0 270.97,496.72Z" fill="#df9683"/>
<path d="M260.63,525.48A105.7,105.7 0 0 1 256.32,523.38L270.26,496.36A75.3,75.3 0 0 0 273.33,497.86Z" fill="#df9683"/>
<path d="M264.01,526.96A105.7,105.7 0 0 1 259.63,525.01L272.62,497.53A75.3,75.3 0 0 0 275.74,498.92Z" fill="#df9683"/>
<path d="M267.44,528.33A105.7,105.7 0 0 1 262.99,526.53L275.02,498.61A75.3,75.3 0 0 0 278.18,499.89Z" fill="#df9683"/>
<path d="M270.91,529.57A105.7,105.7 0 0 1 266.40,527.93L277.45,499.61A75.3,75.3 0 0 0 280.66,500.77Z" fill="#df9683"/>
<path d="M274.43,530.69A105.7,105.7 0 0 1 269.86,529.21L279.91,500.52A75.3,75.3 0 0 0 283.16,501.57Z" fill="#df9683"/>
<path d="M277.98,531.69A105.7,105.7 0 0 1 273.37,530.37L282.41,501.34A75.3,75.3 0 0 0 285.69,502.29Z" fill="#df9583"/>
<path d="M281.56,532.56A105.7,105.7 0 0 1 276.91,531.40L284.93,502.08A75.3,75.3 0 0 0 288.25,502.91Z" fill="#df9583"/>
<path d="M285.18,533.31A105.7,105.7 0 0 1 280.48,532.32L287.48,502.73A75.3,75.3 0 0 0 290.82,503.44Z" fill="#df9583"/>
<path d="M288.81,533.93A105.7,105.7 0 0 1 284.09,533.10L290.05,503.29A75.3,75.3 0 0 0 293.41,503.88Z" fill="#df9583"/>
<path d="M292.47,534.43A105.7,105.7 0 0 1 287.72,533.76L292.63,503.76A75.3,75.3 0 0 0 296.01,504.24Z" fill="#df9583"/>
<path d="M296.14,534.79A105.7,105.7 0 0 1 291.37,534.29L295.23,504.14A75.3,75.3 0 0 0 298.63,504.50Z" fill="#df9583"/>
<path d="M299.82,535.03A105.7,105.7 0 0 1 295.04,534.70L297.84,504.43A75.3,75.3 0 0 0 301.25,504.67Z" fill="#df9583"/>
<path d="M303.51,535.14A105.7,105.7 0 0 1 298.72,534.97L300.47,504.63A75.3,75.3 0 0 0 303.88,504.74Z" fill="#df9583"/>
<path d="M307.20,535.12A105.7,105.7 0 0 1 302.40,535.12L303.09,504.73A75.3,75.3 0 0 0 306.51,504.73Z" fill="#df9483"/>
<path d="M310.88,534.97A105.7,105.7 0 0 1 306.09,535.14L305.72,504.74A75.3,75.3 0 0 0 309.13,504.63Z" fill="#df9483"/>
<path d="M314.56,534.70A105.7,105.7 0 0 1 309.78,535.03L308.35,504.67A75.3,75.3 0 0 0 311.76,504.43Z" fill="#df9483"/>
<path d="M318.23,534.29A105.7,105.7 0 0 1 313.46,534.79L310.97,504.50A75.3,75.3 0 0 0 314.37,504.14Z" fill="#df9483"/>
<path d="M321.88,533.76A105.7,105.7 0 0 1 317.13,534.43L313.59,504.24A75.3,75.3 0 0 0 316.97,503.76Z" fill="#df9483"/>
<path d="M325.51,533.10A105.7,105.7 0 0 1 320.79,533.93L316.19,503.88A75.3,75.3 0 0 0 319.55,503.29Z" fill="#df9483"/>
<path d="M329.12,532.32A105.7,105.7 0 0 1 324.42,533.31L318.78,503.44A75.3,75.3 0 0 0 322.12,502.73Z" fill="#df9383"/>
<path d="M332.69,531.40A105.7,105.7 0 0 1 328.04,532.56L321.35,502.91A75.3,75.3 0 0 0 324.67,502.08Z" fill="#df9283"/>
<path d="M336.23,530.37A105.7,105.7 0 0 1 331.62,531.69L323.91,502.29A75.3,75.3 0 0 0 327.19,501.34Z" fill="#df9183"/>
<path d="M339.74,529.21A105.7,105.7 0 0 1 335.17,530.69L326.44,501.57A75.3,75.3 0 0 0 329.69,500.52Z" fill="#df9184"/>
<path d="M343.20,527.93A105.7,105.7 0 0 1 338.69,529.57L328.94,500.77A75.3,75.3 0 0 0 332.15,499.61Z" fill="#df9084"/>
<path d="M346.61,526.53A105.7,105.7 0 0 1 342.16,528.33L331.42,499.89A75.3,75.3 0 0 0 334.58,498.61Z" fill="#df8f84"/>
<path d="M349.97,525.01A105.7,105.7 0 0 1 345.59,526.96L333.86,498.92A75.3,75.3 0 0 0 336.98,497.53Z" fill="#df8e84"/>
<path d="M353.28,523.38A105.7,105.7 0 0 1 348.97,525.48L336.27,497.86A75.3,75.3 0 0 0 339.34,496.36Z" fill="#df8e84"/>
<path d="M356.53,521.63A105.7,105.7 0 0 1 352.29,523.88L338.63,496.72A75.3,75.3 0 0 0 341.65,495.12Z" fill="#df8d84"/>
<path d="M359.71,519.77A105.7,105.7 0 0 1 355.56,522.16L340.96,495.50A75.3,75.3 0 0 0 343.92,493.79Z" fill="#df8c84"/>
<path d="M362.83,517.79A105.7,105.7 0 0 1 358.76,520.34L343.24,494.20A75.3,75.3 0 0 0 346.14,492.39Z" fill="#e08b85"/>
<path d="M365.88,515.72A105.7,105.7 0 0 1 361.90,518.40L345.48,492.82A75.3,75.3 0 0 0 348.31,490.91Z" fill="#e08b85"/>
<path d="M368.85,513.53A105.7,105.7 0 0 1 364.97,516.35L347.67,491.36A75.3,75.3 0 0 0 350.43,489.35Z" fill="#e08a85"/>
<path d="M371.75,511.24A105.7,105.7 0 0 1 367.97,514.20L349.80,489.82A75.3,75.3 0 0 0 352.49,487.72Z" fill="#e08985"/>
<path d="M374.56,508.86A105.7,105.7 0 0 1 370.89,511.94L351.88,488.22A75.3,75.3 0 0 0 354.50,486.02Z" fill="#e08885"/>
<path d="M377.29,506.38A105.7,105.7 0 0 1 373.73,509.58L353.90,486.54A75.3,75.3 0 0 0 356.44,484.25Z" fill="#e08885"/>
<path d="M379.93,503.80A105.7,105.7 0 0 1 376.48,507.13L355.87,484.79A75.3,75.3 0 0 0 358.32,482.42Z" fill="#e08785"/>
<path d="M382.48,501.13A105.7,105.7 0 0 1 379.15,504.58L357.77,482.97A75.3,75.3 0 0 0 360.14,480.52Z" fill="#e08685"/>
<path d="M384.93,498.38A105.7,105.7 0 0 1 381.73,501.94L359.60,481.09A75.3,75.3 0 0 0 361.89,478.55Z" fill="#e08586"/>
<path d="M387.29,495.54A105.7,105.7 0 0 1 384.21,499.21L361.37,479.15A75.3,75.3 0 0 0 363.57,476.53Z" fill="#e08586"/>
<path d="M389.55,492.62A105.7,105.7 0 0 1 386.59,496.40L363.07,477.14A75.3,75.3 0 0 0 365.17,474.45Z" fill="#e08486"/>
<path d="M391.70,489.62A105.7,105.7 0 0 1 388.88,493.50L364.70,475.08A75.3,75.3 0 0 0 366.71,472.32Z" fill="#e08386"/>
<path d="M393.75,486.55A105.7,105.7 0 0 1 391.07,490.53L366.26,472.96A75.3,75.3 0 0 0 368.17,470.13Z" fill="#e08286"/>
<path d="M395.69,483.41A105.7,105.7 0 0 1 393.14,487.48L367.74,470.79A75.3,75.3 0 0 0 369.55,467.89Z" fill="#e08186"/>
<path d="M397.51,480.21A105.7,105.7 0 0 1 395.12,484.36L369.14,468.57A75.3,75.3 0 0 0 370.85,465.61Z" fill="#e07f86"/>
<path d="M399.23,476.94A105.7,105.7 0 0 1 396.98,481.18L370.47,466.30A75.3,75.3 0 0 0 372.07,463.28Z" fill="#e07e86"/>
<path d="M400.83,473.62A105.7,105.7 0 0 1 398.73,477.93L371.71,463.99A75.3,75.3 0 0 0 373.21,460.92Z" fill="#e07d86"/>
<path d="M402.31,470.24A105.7,105.7 0 0 1 400.36,474.62L372.88,461.63A75.3,75.3 0 0 0 374.27,458.51Z" fill="#e07c87"/>
<path d="M403.68,466.81A105.7,105.7 0 0 1 401.88,471.26L373.96,459.23A75.3,75.3 0 0 0 375.24,456.07Z" fill="#e07b87"/>
<path d="M404.92,463.34A105.7,105.7 0 0 1 403.28,467.85L374.96,456.80A75.3,75.3 0 0 0 376.12,453.59Z" fill="#e07987"/>
<path d="M406.04,459.82A105.7,105.7 0 0 1 404.56,464.39L375.87,454.34A75.3,75.3 0 0 0 376.92,451.09Z" fill="#e07887"/>
<path d="M407.04,456.27A105.7,105.7 0 0 1 405.72,460.88L376.69,451.84A75.3,75.3 0 0 0 377.64,448.56Z" fill="#e07787"/>
<path d="M407.91,452.69A105.7,105.7 0 0 1 406.75,457.34L377.43,449.32A75.3,75.3 0 0 0 378.26,446.00Z" fill="#e07687"/>
<path d="M408.66,449.07A105.7,105.7 0 0 1 407.67,453.77L378.08,446.77A75.3,75.3 0 0 0 378.79,443.43Z" fill="#e17587"/>
<path d="M409.28,445.44A105.7,105.7 0 0 1 408.45,450.16L378.64,444.20A75.3,75.3 0 0 0 379.23,440.84Z" fill="#e17387"/>
<path d="M409.78,441.78A105.7,105.7 0 0 1 409.11,446.53L379.11,441.62A75.3,75.3 0 0 0 379.59,438.24Z" fill="#e17287"/>
<path d="M410.14,438.11A105.7,105.7 0 0 1 409.64,442.88L379.49,439.02A75.3,75.3 0 0 0 379.85,435.62Z" fill="#e17187"/>
<path d="M410.38,434.43A105.7,105.7 0 0 1 410.05,439.21L379.78,436.41A75.3,75.3 0 0 0 380.02,433.00Z" fill="#e17087"/>
<path d="M410.49,430.74A105.7,105.7 0 0 1 410.32,435.53L379.98,433.78A75.3,75.3 0 0 0 380.09,430.37Z" fill="#e16f88"/>
<path d="M410.47,427.05A105.7,105.7 0 0 1 410.47,431.85L380.08,431.16A75.3,75.3 0 0 0 380.08,427.74Z" fill="#e16d88"/>
<path d="M410.32,423.37A105.7,105.7 0 0 1 410.49,428.16L380.09,428.53A75.3,75.3 0 0 0 379.98,425.12Z" fill="#e16c88"/>
<path d="M410.05,419.69A105.7,105.7 0 0 1 410.38,424.47L380.02,425.90A75.3,75.3 0 0 0 379.78,422.49Z" fill="#e16b88"/>
<path d="M409.64,416.02A105.7,105.7 0 0 1 410.14,420.79L379.85,423.28A75.3,75.3 0 0 0 379.49,419.88Z" fill="#e16a88"/>
<path d="M409.11,412.37A105.7,105.7 0 0 1 409.78,417.12L379.59,420.66A75.3,75.3 0 0 0 379.11,417.28Z" fill="#e16988"/>
<path d="M408.45,408.74A105.7,105.7 0 0 1 409.28,413.46L379.23,418.06A75.3,75.3 0 0 0 378.64,414.70Z" fill="#e16788"/>
<path d="M407.67,405.13A105.7,105.7 0 0 1 408.66,409.83L378.79,415.47A75.3,75.3 0 0 0 378.08,412.13Z" fill="#e16688"/>
<path d="M406.75,401.56A105.7,105.7 0 0 1 407.91,406.21L378.26,412.90A75.3,75.3 0 0 0 377.43,409.58Z" fill="#e16588"/>
<path d="M405.72,398.02A105.7,105.7 0 0 1 407.04,402.63L377.64,410.34A75.3,75.3 0 0 0 376.69,407.06Z" fill="#e16389"/>
<path d="M404.56,394.51A105.7,105.7 0 0 1 406.04,399.08L376.92,407.81A75.3,75.3 0 0 0 375.87,404.56Z" fill="#e26289"/>
<path d="M403.28,391.05A105.7,105.7 0 0 1 404.92,395.56L376.12,405.31A75.3,75.3 0 0 0 374.96,402.10Z" fill="#e26089"/>
<path d="M401.88,387.64A105.7,105.7 0 0 1 403.68,392.09L375.24,402.83A75.3,75.3 0 0 0 373.96,399.67Z" fill="#e25f89"/>
<path d="M400.36,384.28A105.7,105.7 0 0 1 402.31,388.66L374.27,400.39A75.3,75.3 0 0 0 372.88,397.27Z" fill="#e25e89"/>
<path d="M398.73,380.97A105.7,105.7 0 0 1 400.83,385.28L373.21,397.98A75.3,75.3 0 0 0 371.71,394.91Z" fill="#e25c89"/>
<path d="M396.98,377.72A105.7,105.7 0 0 1 399.23,381.96L372.07,395.62A75.3,75.3 0 0 0 370.47,392.60Z" fill="#e25b8a"/>
<path d="M395.12,374.54A105.7,105.7 0 0 1 397.51,378.69L370.85,393.29A75.3,75.3 0 0 0 369.14,390.33Z" fill="#e2598a"/>
<path d="M393.14,371.42A105.7,105.7 0 0 1 395.69,375.49L369.55,391.01A75.3,75.3 0 0 0 367.74,388.11Z" fill="#e2588a"/>
<path d="M391.07,368.37A105.7,105.7 0 0 1 393.75,372.35L368.17,388.77A75.3,75.3 0 0 0 366.26,385.94Z" fill="#e2578a"/>
<path d="M388.88,365.40A105.7,105.7 0 0 1 391.70,369.28L366.71,386.58A75.3,75.3 0 0 0 364.70,383.82Z" fill="#e2558a"/>
<path d="M386.59,362.50A105.7,105.7 0 0 1 389.55,366.28L365.17,384.45A75.3,75.3 0 0 0 363.07,381.76Z" fill="#e3548a"/>
<path d="M384.21,359.69A105.7,105.7 0 0 1 387.29,363.36L363.57,382.37A75.3,75.3 0 0 0 361.37,379.75Z" fill="#e3528b"/>
<path d="M381.73,356.96A105.7,105.7 0 0 1 384.93,360.52L361.89,380.35A75.3,75.3 0 0 0 359.60,377.81Z" fill="#e3518b"/>
<path d="M379.15,354.32A105.7,105.7 0 0 1 382.48,357.77L360.14,378.38A75.3,75.3 0 0 0 357.77,375.93Z" fill="#e3508b"/>
<path d="M376.48,351.77A105.7,105.7 0 0 1 379.93,355.10L358.32,376.48A75.3,75.3 0 0 0 355.87,374.11Z" fill="#e34f8b"/>
<path d="M373.73,349.32A105.7,105.7 0 0 1 377.29,352.52L356.44,374.65A75.3,75.3 0 0 0 353.90,372.36Z" fill="#e34f8b"/>
<path d="M370.89,346.96A105.7,105.7 0 0 1 374.56,350.04L354.50,372.88A75.3,75.3 0 0 0 351.88,370.68Z" fill="#e34f8b"/>
<path d="M367.97,344.70A105.7,105.7 0 0 1 371.75,347.66L352.49,371.18A75.3,75.3 0 0 0 349.80,369.08Z" fill="#e34f8b"/>
<path d="M364.97,342.55A105.7,105.7 0 0 1 368.85,345.37L350.43,369.55A75.3,75.3 0 0 0 347.67,367.54Z" fill="#e34f8b"/>
</g>
<g clip-path="url(#wTop)"><g clip-path="url(#hpTLb)">
<path d="M217.90,254.28A105.7,105.7 0 0 1 220.72,250.40L244.90,268.82A75.3,75.3 0 0 0 242.89,271.58Z" fill="#1e90e8"/>
<path d="M220.05,251.28A105.7,105.7 0 0 1 223.01,247.50L246.53,266.76A75.3,75.3 0 0 0 244.43,269.45Z" fill="#1e90e8"/>
<path d="M222.31,248.36A105.7,105.7 0 0 1 225.39,244.69L248.23,264.75A75.3,75.3 0 0 0 246.03,267.37Z" fill="#1e90e8"/>
<path d="M224.67,245.52A105.7,105.7 0 0 1 227.87,241.96L250.00,262.81A75.3,75.3 0 0 0 247.71,265.35Z" fill="#1e90e8"/>
<path d="M227.12,242.77A105.7,105.7 0 0 1 230.45,239.32L251.83,260.93A75.3,75.3 0 0 0 249.46,263.38Z" fill="#1e90e8"/>
<path d="M229.67,240.10A105.7,105.7 0 0 1 233.12,236.77L253.73,259.11A75.3,75.3 0 0 0 251.28,261.48Z" fill="#1e90e8"/>
<path d="M232.31,237.52A105.7,105.7 0 0 1 235.87,234.32L255.70,257.36A75.3,75.3 0 0 0 253.16,259.65Z" fill="#1e90e8"/>
<path d="M235.04,235.04A105.7,105.7 0 0 1 238.71,231.96L257.72,255.68A75.3,75.3 0 0 0 255.10,257.88Z" fill="#1e91e8"/>
<path d="M237.85,232.66A105.7,105.7 0 0 1 241.63,229.70L259.80,254.08A75.3,75.3 0 0 0 257.11,256.18Z" fill="#1e91e8"/>
<path d="M240.75,230.37A105.7,105.7 0 0 1 244.63,227.55L261.93,252.54A75.3,75.3 0 0 0 259.17,254.55Z" fill="#1e91e8"/>
<path d="M243.72,228.18A105.7,105.7 0 0 1 247.70,225.50L264.12,251.08A75.3,75.3 0 0 0 261.29,252.99Z" fill="#1e91e8"/>
<path d="M246.77,226.11A105.7,105.7 0 0 1 250.84,223.56L266.36,249.70A75.3,75.3 0 0 0 263.46,251.51Z" fill="#1e92e8"/>
<path d="M249.89,224.13A105.7,105.7 0 0 1 254.04,221.74L268.64,248.40A75.3,75.3 0 0 0 265.68,250.11Z" fill="#1e92e8"/>
<path d="M253.07,222.27A105.7,105.7 0 0 1 257.31,220.02L270.97,247.18A75.3,75.3 0 0 0 267.95,248.78Z" fill="#1e92e8"/>
<path d="M256.32,220.52A105.7,105.7 0 0 1 260.63,218.42L273.33,246.04A75.3,75.3 0 0 0 270.26,247.54Z" fill="#1e93e8"/>
<path d="M259.63,218.89A105.7,105.7 0 0 1 264.01,216.94L275.74,244.98A75.3,75.3 0 0 0 272.62,246.37Z" fill="#1e93e8"/>
<path d="M262.99,217.37A105.7,105.7 0 0 1 267.44,215.57L278.18,244.01A75.3,75.3 0 0 0 275.02,245.29Z" fill="#1e93e8"/>
<path d="M266.40,215.97A105.7,105.7 0 0 1 270.91,214.33L280.66,243.13A75.3,75.3 0 0 0 277.45,244.29Z" fill="#1e93e8"/>
<path d="M269.86,214.69A105.7,105.7 0 0 1 274.43,213.21L283.16,242.33A75.3,75.3 0 0 0 279.91,243.38Z" fill="#1e94e8"/>
<path d="M273.37,213.53A105.7,105.7 0 0 1 277.98,212.21L285.69,241.61A75.3,75.3 0 0 0 282.41,242.56Z" fill="#1e94e8"/>
<path d="M276.91,212.50A105.7,105.7 0 0 1 281.56,211.34L288.25,240.99A75.3,75.3 0 0 0 284.93,241.82Z" fill="#1e94e8"/>
<path d="M280.48,211.58A105.7,105.7 0 0 1 285.18,210.59L290.82,240.46A75.3,75.3 0 0 0 287.48,241.17Z" fill="#1e94e8"/>
<path d="M284.09,210.80A105.7,105.7 0 0 1 288.81,209.97L293.41,240.02A75.3,75.3 0 0 0 290.05,240.61Z" fill="#1e95e8"/>
<path d="M287.72,210.14A105.7,105.7 0 0 1 292.47,209.47L296.01,239.66A75.3,75.3 0 0 0 292.63,240.14Z" fill="#1e95e8"/>
<path d="M291.37,209.61A105.7,105.7 0 0 1 296.14,209.11L298.63,239.40A75.3,75.3 0 0 0 295.23,239.76Z" fill="#1e95e8"/>
<path d="M295.04,209.20A105.7,105.7 0 0 1 299.82,208.87L301.25,239.23A75.3,75.3 0 0 0 297.84,239.47Z" fill="#1e95e8"/>
<path d="M298.72,208.93A105.7,105.7 0 0 1 303.51,208.76L303.88,239.16A75.3,75.3 0 0 0 300.47,239.27Z" fill="#1e96e8"/>
<path d="M302.40,208.78A105.7,105.7 0 0 1 307.20,208.78L306.51,239.17A75.3,75.3 0 0 0 303.09,239.17Z" fill="#1e96e8"/>
<path d="M306.09,208.76A105.7,105.7 0 0 1 310.88,208.93L309.13,239.27A75.3,75.3 0 0 0 305.72,239.16Z" fill="#1e96e7"/>
<path d="M309.78,208.87A105.7,105.7 0 0 1 314.56,209.20L311.76,239.47A75.3,75.3 0 0 0 308.35,239.23Z" fill="#1e97e7"/>
<path d="M313.46,209.11A105.7,105.7 0 0 1 318.23,209.61L314.37,239.76A75.3,75.3 0 0 0 310.97,239.40Z" fill="#1e97e7"/>
<path d="M317.13,209.47A105.7,105.7 0 0 1 321.88,210.14L316.97,240.14A75.3,75.3 0 0 0 313.59,239.66Z" fill="#1e97e7"/>
<path d="M320.79,209.97A105.7,105.7 0 0 1 325.51,210.80L319.55,240.61A75.3,75.3 0 0 0 316.19,240.02Z" fill="#1e97e7"/>
<path d="M324.42,210.59A105.7,105.7 0 0 1 329.12,211.58L322.12,241.17A75.3,75.3 0 0 0 318.78,240.46Z" fill="#1e98e7"/>
<path d="M328.04,211.34A105.7,105.7 0 0 1 332.69,212.50L324.67,241.82A75.3,75.3 0 0 0 321.35,240.99Z" fill="#1e98e7"/>
<path d="M331.62,212.21A105.7,105.7 0 0 1 336.23,213.53L327.19,242.56A75.3,75.3 0 0 0 323.91,241.61Z" fill="#1e98e7"/>
<path d="M335.17,213.21A105.7,105.7 0 0 1 339.74,214.69L329.69,243.38A75.3,75.3 0 0 0 326.44,242.33Z" fill="#1e98e7"/>
<path d="M338.69,214.33A105.7,105.7 0 0 1 343.20,215.97L332.15,244.29A75.3,75.3 0 0 0 328.94,243.13Z" fill="#1e99e7"/>
<path d="M342.16,215.57A105.7,105.7 0 0 1 346.61,217.37L334.58,245.29A75.3,75.3 0 0 0 331.42,244.01Z" fill="#1e99e7"/>
<path d="M345.59,216.94A105.7,105.7 0 0 1 349.97,218.89L336.98,246.37A75.3,75.3 0 0 0 333.86,244.98Z" fill="#1e99e7"/>
<path d="M348.97,218.42A105.7,105.7 0 0 1 353.28,220.52L339.34,247.54A75.3,75.3 0 0 0 336.27,246.04Z" fill="#1e99e7"/>
<path d="M352.29,220.02A105.7,105.7 0 0 1 356.53,222.27L341.65,248.78A75.3,75.3 0 0 0 338.63,247.18Z" fill="#1e9ae7"/>
<path d="M355.56,221.74A105.7,105.7 0 0 1 359.71,224.13L343.92,250.11A75.3,75.3 0 0 0 340.96,248.40Z" fill="#1e9ae7"/>
<path d="M358.76,223.56A105.7,105.7 0 0 1 362.83,226.11L346.14,251.51A75.3,75.3 0 0 0 343.24,249.70Z" fill="#1e9ae7"/>
<path d="M361.90,225.50A105.7,105.7 0 0 1 365.88,228.18L348.31,252.99A75.3,75.3 0 0 0 345.48,251.08Z" fill="#1e9be7"/>
<path d="M364.97,227.55A105.7,105.7 0 0 1 368.85,230.37L350.43,254.55A75.3,75.3 0 0 0 347.67,252.54Z" fill="#1e9be7"/>
<path d="M367.97,229.70A105.7,105.7 0 0 1 371.75,232.66L352.49,256.18A75.3,75.3 0 0 0 349.80,254.08Z" fill="#1e9be7"/>
<path d="M370.89,231.96A105.7,105.7 0 0 1 374.56,235.04L354.50,257.88A75.3,75.3 0 0 0 351.88,255.68Z" fill="#1e9be7"/>
<path d="M373.73,234.32A105.7,105.7 0 0 1 377.29,237.52L356.44,259.65A75.3,75.3 0 0 0 353.90,257.36Z" fill="#1e9ce7"/>
<path d="M376.48,236.77A105.7,105.7 0 0 1 379.93,240.10L358.32,261.48A75.3,75.3 0 0 0 355.87,259.11Z" fill="#1e9ce7"/>
<path d="M379.15,239.32A105.7,105.7 0 0 1 382.48,242.77L360.14,263.38A75.3,75.3 0 0 0 357.77,260.93Z" fill="#1e9ce7"/>
<path d="M381.73,241.96A105.7,105.7 0 0 1 384.93,245.52L361.89,265.35A75.3,75.3 0 0 0 359.60,262.81Z" fill="#1e9ce7"/>
<path d="M384.21,244.69A105.7,105.7 0 0 1 387.29,248.36L363.57,267.37A75.3,75.3 0 0 0 361.37,264.75Z" fill="#1e9ce7"/>
<path d="M386.59,247.50A105.7,105.7 0 0 1 389.55,251.28L365.17,269.45A75.3,75.3 0 0 0 363.07,266.76Z" fill="#1e9de7"/>
<path d="M388.88,250.40A105.7,105.7 0 0 1 391.70,254.28L366.71,271.58A75.3,75.3 0 0 0 364.70,268.82Z" fill="#1e9de7"/>
<path d="M391.07,253.37A105.7,105.7 0 0 1 393.75,257.35L368.17,273.77A75.3,75.3 0 0 0 366.26,270.94Z" fill="#1e9de7"/>
<path d="M393.14,256.42A105.7,105.7 0 0 1 395.69,260.49L369.55,276.01A75.3,75.3 0 0 0 367.74,273.11Z" fill="#1e9de7"/>
<path d="M395.12,259.54A105.7,105.7 0 0 1 397.51,263.69L370.85,278.29A75.3,75.3 0 0 0 369.14,275.33Z" fill="#1e9de7"/>
<path d="M396.98,262.72A105.7,105.7 0 0 1 399.23,266.96L372.07,280.62A75.3,75.3 0 0 0 370.47,277.60Z" fill="#1e9ee7"/>
<path d="M398.73,265.97A105.7,105.7 0 0 1 400.83,270.28L373.21,282.98A75.3,75.3 0 0 0 371.71,279.91Z" fill="#1e9ee7"/>
<path d="M400.36,269.28A105.7,105.7 0 0 1 402.31,273.66L374.27,285.39A75.3,75.3 0 0 0 372.88,282.27Z" fill="#1e9ee7"/>
<path d="M401.88,272.64A105.7,105.7 0 0 1 403.68,277.09L375.24,287.83A75.3,75.3 0 0 0 373.96,284.67Z" fill="#1e9ee6"/>
<path d="M403.28,276.05A105.7,105.7 0 0 1 404.92,280.56L376.12,290.31A75.3,75.3 0 0 0 374.96,287.10Z" fill="#1e9ee6"/>
<path d="M404.56,279.51A105.7,105.7 0 0 1 406.04,284.08L376.92,292.81A75.3,75.3 0 0 0 375.87,289.56Z" fill="#1e9ee6"/>
<path d="M405.72,283.02A105.7,105.7 0 0 1 407.04,287.63L377.64,295.34A75.3,75.3 0 0 0 376.69,292.06Z" fill="#1e9fe6"/>
<path d="M406.75,286.56A105.7,105.7 0 0 1 407.91,291.21L378.26,297.90A75.3,75.3 0 0 0 377.43,294.58Z" fill="#1e9fe6"/>
<path d="M407.67,290.13A105.7,105.7 0 0 1 408.66,294.83L378.79,300.47A75.3,75.3 0 0 0 378.08,297.13Z" fill="#1e9fe6"/>
<path d="M408.45,293.74A105.7,105.7 0 0 1 409.28,298.46L379.23,303.06A75.3,75.3 0 0 0 378.64,299.70Z" fill="#1e9fe6"/>
<path d="M409.11,297.37A105.7,105.7 0 0 1 409.78,302.12L379.59,305.66A75.3,75.3 0 0 0 379.11,302.28Z" fill="#1e9fe6"/>
<path d="M409.64,301.02A105.7,105.7 0 0 1 410.14,305.79L379.85,308.28A75.3,75.3 0 0 0 379.49,304.88Z" fill="#1e9fe6"/>
<path d="M410.05,304.69A105.7,105.7 0 0 1 410.38,309.47L380.02,310.90A75.3,75.3 0 0 0 379.78,307.49Z" fill="#1ea0e6"/>
<path d="M410.32,308.37A105.7,105.7 0 0 1 410.49,313.16L380.09,313.53A75.3,75.3 0 0 0 379.98,310.12Z" fill="#1ea0e6"/>
<path d="M410.47,312.05A105.7,105.7 0 0 1 410.47,316.85L380.08,316.16A75.3,75.3 0 0 0 380.08,312.74Z" fill="#1ea0e6"/>
<path d="M410.49,315.74A105.7,105.7 0 0 1 410.32,320.53L379.98,318.78A75.3,75.3 0 0 0 380.09,315.37Z" fill="#1ea0e6"/>
<path d="M410.38,319.43A105.7,105.7 0 0 1 410.05,324.21L379.78,321.41A75.3,75.3 0 0 0 380.02,318.00Z" fill="#1ea0e6"/>
<path d="M410.14,323.11A105.7,105.7 0 0 1 409.64,327.88L379.49,324.02A75.3,75.3 0 0 0 379.85,320.62Z" fill="#1ea1e6"/>
<path d="M409.78,326.78A105.7,105.7 0 0 1 409.11,331.53L379.11,326.62A75.3,75.3 0 0 0 379.59,323.24Z" fill="#1ea1e6"/>
<path d="M409.28,330.44A105.7,105.7 0 0 1 408.45,335.16L378.64,329.20A75.3,75.3 0 0 0 379.23,325.84Z" fill="#1ea1e6"/>
<path d="M408.66,334.07A105.7,105.7 0 0 1 407.67,338.77L378.08,331.77A75.3,75.3 0 0 0 378.79,328.43Z" fill="#1ea1e6"/>
<path d="M407.91,337.69A105.7,105.7 0 0 1 406.75,342.34L377.43,334.32A75.3,75.3 0 0 0 378.26,331.00Z" fill="#1ea1e6"/>
<path d="M407.04,341.27A105.7,105.7 0 0 1 405.72,345.88L376.69,336.84A75.3,75.3 0 0 0 377.64,333.56Z" fill="#1ea1e6"/>
<path d="M406.04,344.82A105.7,105.7 0 0 1 404.56,349.39L375.87,339.34A75.3,75.3 0 0 0 376.92,336.09Z" fill="#1ea2e6"/>
<path d="M404.92,348.34A105.7,105.7 0 0 1 403.28,352.85L374.96,341.80A75.3,75.3 0 0 0 376.12,338.59Z" fill="#1ea2e6"/>
<path d="M403.68,351.81A105.7,105.7 0 0 1 401.88,356.26L373.96,344.23A75.3,75.3 0 0 0 375.24,341.07Z" fill="#1ea2e6"/>
<path d="M402.31,355.24A105.7,105.7 0 0 1 400.36,359.62L372.88,346.63A75.3,75.3 0 0 0 374.27,343.51Z" fill="#1ea2e5"/>
<path d="M400.83,358.62A105.7,105.7 0 0 1 398.73,362.93L371.71,348.99A75.3,75.3 0 0 0 373.21,345.92Z" fill="#1ea2e5"/>
<path d="M399.23,361.94A105.7,105.7 0 0 1 396.98,366.18L370.47,351.30A75.3,75.3 0 0 0 372.07,348.28Z" fill="#1ea2e5"/>
<path d="M397.51,365.21A105.7,105.7 0 0 1 395.12,369.36L369.14,353.57A75.3,75.3 0 0 0 370.85,350.61Z" fill="#1ea3e5"/>
<path d="M395.69,368.41A105.7,105.7 0 0 1 393.14,372.48L367.74,355.79A75.3,75.3 0 0 0 369.55,352.89Z" fill="#1ea3e5"/>
<path d="M393.75,371.55A105.7,105.7 0 0 1 391.07,375.53L366.26,357.96A75.3,75.3 0 0 0 368.17,355.13Z" fill="#1ea3e5"/>
<path d="M391.70,374.62A105.7,105.7 0 0 1 388.88,378.50L364.70,360.08A75.3,75.3 0 0 0 366.71,357.32Z" fill="#1ea3e5"/>
<path d="M389.55,377.62A105.7,105.7 0 0 1 386.59,381.40L363.07,362.14A75.3,75.3 0 0 0 365.17,359.45Z" fill="#1ea3e5"/>
<path d="M387.29,380.54A105.7,105.7 0 0 1 384.21,384.21L361.37,364.15A75.3,75.3 0 0 0 363.57,361.53Z" fill="#1ea4e5"/>
<path d="M384.93,383.38A105.7,105.7 0 0 1 381.73,386.94L359.60,366.09A75.3,75.3 0 0 0 361.89,363.55Z" fill="#1ea4e5"/>
<path d="M382.48,386.13A105.7,105.7 0 0 1 379.15,389.58L357.77,367.97A75.3,75.3 0 0 0 360.14,365.52Z" fill="#1ea4e5"/>
<path d="M379.93,388.80A105.7,105.7 0 0 1 376.48,392.13L355.87,369.79A75.3,75.3 0 0 0 358.32,367.42Z" fill="#1ea4e5"/>
<path d="M377.29,391.38A105.7,105.7 0 0 1 373.73,394.58L353.90,371.54A75.3,75.3 0 0 0 356.44,369.25Z" fill="#1ea4e5"/>
<path d="M374.56,393.86A105.7,105.7 0 0 1 370.89,396.94L351.88,373.22A75.3,75.3 0 0 0 354.50,371.02Z" fill="#1ea4e5"/>
<path d="M371.75,396.24A105.7,105.7 0 0 1 367.97,399.20L349.80,374.82A75.3,75.3 0 0 0 352.49,372.72Z" fill="#1ea4e5"/>
<path d="M368.85,398.53A105.7,105.7 0 0 1 364.97,401.35L347.67,376.36A75.3,75.3 0 0 0 350.43,374.35Z" fill="#1ea4e5"/>
</g></g><g clip-path="url(#wBot)"><g clip-path="url(#hpBRb)">
<path d="M532.00,489.62A105.7,105.7 0 0 1 529.18,493.50L505.00,475.08A75.3,75.3 0 0 0 507.01,472.32Z" fill="#1e84ea"/>
<path d="M529.85,492.62A105.7,105.7 0 0 1 526.89,496.40L503.37,477.14A75.3,75.3 0 0 0 505.47,474.45Z" fill="#1e84ea"/>
<path d="M527.59,495.54A105.7,105.7 0 0 1 524.51,499.21L501.67,479.15A75.3,75.3 0 0 0 503.87,476.53Z" fill="#1e84ea"/>
<path d="M525.23,498.38A105.7,105.7 0 0 1 522.03,501.94L499.90,481.09A75.3,75.3 0 0 0 502.19,478.55Z" fill="#1e84ea"/>
<path d="M522.78,501.13A105.7,105.7 0 0 1 519.45,504.58L498.07,482.97A75.3,75.3 0 0 0 500.44,480.52Z" fill="#1e84ea"/>
<path d="M520.23,503.80A105.7,105.7 0 0 1 516.78,507.13L496.17,484.79A75.3,75.3 0 0 0 498.62,482.42Z" fill="#1e84ea"/>
<path d="M517.59,506.38A105.7,105.7 0 0 1 514.03,509.58L494.20,486.54A75.3,75.3 0 0 0 496.74,484.25Z" fill="#1e84ea"/>
<path d="M514.86,508.86A105.7,105.7 0 0 1 511.19,511.94L492.18,488.22A75.3,75.3 0 0 0 494.80,486.02Z" fill="#1e84ea"/>
<path d="M512.05,511.24A105.7,105.7 0 0 1 508.27,514.20L490.10,489.82A75.3,75.3 0 0 0 492.79,487.72Z" fill="#1e84ea"/>
<path d="M509.15,513.53A105.7,105.7 0 0 1 505.27,516.35L487.97,491.36A75.3,75.3 0 0 0 490.73,489.35Z" fill="#1e84ea"/>
<path d="M506.18,515.72A105.7,105.7 0 0 1 502.20,518.40L485.78,492.82A75.3,75.3 0 0 0 488.61,490.91Z" fill="#1e85ea"/>
<path d="M503.13,517.79A105.7,105.7 0 0 1 499.06,520.34L483.54,494.20A75.3,75.3 0 0 0 486.44,492.39Z" fill="#1e85ea"/>
<path d="M500.01,519.77A105.7,105.7 0 0 1 495.86,522.16L481.26,495.50A75.3,75.3 0 0 0 484.22,493.79Z" fill="#1e85ea"/>
<path d="M496.83,521.63A105.7,105.7 0 0 1 492.59,523.88L478.93,496.72A75.3,75.3 0 0 0 481.95,495.12Z" fill="#1e85ea"/>
<path d="M493.58,523.38A105.7,105.7 0 0 1 489.27,525.48L476.57,497.86A75.3,75.3 0 0 0 479.64,496.36Z" fill="#1e85ea"/>
<path d="M490.27,525.01A105.7,105.7 0 0 1 485.89,526.96L474.16,498.92A75.3,75.3 0 0 0 477.28,497.53Z" fill="#1e85ea"/>
<path d="M486.91,526.53A105.7,105.7 0 0 1 482.46,528.33L471.72,499.89A75.3,75.3 0 0 0 474.88,498.61Z" fill="#1e85ea"/>
<path d="M483.50,527.93A105.7,105.7 0 0 1 478.99,529.57L469.24,500.77A75.3,75.3 0 0 0 472.45,499.61Z" fill="#1e85ea"/>
<path d="M480.04,529.21A105.7,105.7 0 0 1 475.47,530.69L466.74,501.57A75.3,75.3 0 0 0 469.99,500.52Z" fill="#1e86ea"/>
<path d="M476.53,530.37A105.7,105.7 0 0 1 471.92,531.69L464.21,502.29A75.3,75.3 0 0 0 467.49,501.34Z" fill="#1e86ea"/>
<path d="M472.99,531.40A105.7,105.7 0 0 1 468.34,532.56L461.65,502.91A75.3,75.3 0 0 0 464.97,502.08Z" fill="#1e86ea"/>
<path d="M469.42,532.32A105.7,105.7 0 0 1 464.72,533.31L459.08,503.44A75.3,75.3 0 0 0 462.42,502.73Z" fill="#1e86ea"/>
<path d="M465.81,533.10A105.7,105.7 0 0 1 461.09,533.93L456.49,503.88A75.3,75.3 0 0 0 459.85,503.29Z" fill="#1e86ea"/>
<path d="M462.18,533.76A105.7,105.7 0 0 1 457.43,534.43L453.89,504.24A75.3,75.3 0 0 0 457.27,503.76Z" fill="#1e86ea"/>
<path d="M458.53,534.29A105.7,105.7 0 0 1 453.76,534.79L451.27,504.50A75.3,75.3 0 0 0 454.67,504.14Z" fill="#1e86ea"/>
<path d="M454.86,534.70A105.7,105.7 0 0 1 450.08,535.03L448.65,504.67A75.3,75.3 0 0 0 452.06,504.43Z" fill="#1e86ea"/>
<path d="M451.18,534.97A105.7,105.7 0 0 1 446.39,535.14L446.02,504.74A75.3,75.3 0 0 0 449.43,504.63Z" fill="#1e86ea"/>
<path d="M447.50,535.12A105.7,105.7 0 0 1 442.70,535.12L443.39,504.73A75.3,75.3 0 0 0 446.81,504.73Z" fill="#1e86ea"/>
<path d="M443.81,535.14A105.7,105.7 0 0 1 439.02,534.97L440.77,504.63A75.3,75.3 0 0 0 444.18,504.74Z" fill="#1e87ea"/>
<path d="M440.12,535.03A105.7,105.7 0 0 1 435.34,534.70L438.14,504.43A75.3,75.3 0 0 0 441.55,504.67Z" fill="#1e87ea"/>
<path d="M436.44,534.79A105.7,105.7 0 0 1 431.67,534.29L435.53,504.14A75.3,75.3 0 0 0 438.93,504.50Z" fill="#1e87ea"/>
<path d="M432.77,534.43A105.7,105.7 0 0 1 428.02,533.76L432.93,503.76A75.3,75.3 0 0 0 436.31,504.24Z" fill="#1e87ea"/>
<path d="M429.11,533.93A105.7,105.7 0 0 1 424.39,533.10L430.35,503.29A75.3,75.3 0 0 0 433.71,503.88Z" fill="#1e87ea"/>
<path d="M425.48,533.31A105.7,105.7 0 0 1 420.78,532.32L427.78,502.73A75.3,75.3 0 0 0 431.12,503.44Z" fill="#1e87ea"/>
<path d="M421.86,532.56A105.7,105.7 0 0 1 417.21,531.40L425.23,502.08A75.3,75.3 0 0 0 428.55,502.91Z" fill="#1e87ea"/>
<path d="M418.28,531.69A105.7,105.7 0 0 1 413.67,530.37L422.71,501.34A75.3,75.3 0 0 0 425.99,502.29Z" fill="#1e87ea"/>
<path d="M414.73,530.69A105.7,105.7 0 0 1 410.16,529.21L420.21,500.52A75.3,75.3 0 0 0 423.46,501.57Z" fill="#1e88ea"/>
<path d="M411.21,529.57A105.7,105.7 0 0 1 406.70,527.93L417.75,499.61A75.3,75.3 0 0 0 420.96,500.77Z" fill="#1e88ea"/>
<path d="M407.74,528.33A105.7,105.7 0 0 1 403.29,526.53L415.32,498.61A75.3,75.3 0 0 0 418.48,499.89Z" fill="#1e88ea"/>
<path d="M404.31,526.96A105.7,105.7 0 0 1 399.93,525.01L412.92,497.53A75.3,75.3 0 0 0 416.04,498.92Z" fill="#1e88ea"/>
<path d="M400.93,525.48A105.7,105.7 0 0 1 396.62,523.38L410.56,496.36A75.3,75.3 0 0 0 413.63,497.86Z" fill="#1e88ea"/>
<path d="M397.61,523.88A105.7,105.7 0 0 1 393.37,521.63L408.25,495.12A75.3,75.3 0 0 0 411.27,496.72Z" fill="#1e88ea"/>
<path d="M394.34,522.16A105.7,105.7 0 0 1 390.19,519.77L405.98,493.79A75.3,75.3 0 0 0 408.94,495.50Z" fill="#1e88ea"/>
<path d="M391.14,520.34A105.7,105.7 0 0 1 387.07,517.79L403.76,492.39A75.3,75.3 0 0 0 406.66,494.20Z" fill="#1e88ea"/>
<path d="M388.00,518.40A105.7,105.7 0 0 1 384.02,515.72L401.59,490.91A75.3,75.3 0 0 0 404.42,492.82Z" fill="#1e88ea"/>
<path d="M384.93,516.35A105.7,105.7 0 0 1 381.05,513.53L399.47,489.35A75.3,75.3 0 0 0 402.23,491.36Z" fill="#1e88ea"/>
<path d="M381.93,514.20A105.7,105.7 0 0 1 378.15,511.24L397.41,487.72A75.3,75.3 0 0 0 400.10,489.82Z" fill="#1e89ea"/>
<path d="M379.01,511.94A105.7,105.7 0 0 1 375.34,508.86L395.40,486.02A75.3,75.3 0 0 0 398.02,488.22Z" fill="#1e89ea"/>
<path d="M376.17,509.58A105.7,105.7 0 0 1 372.61,506.38L393.46,484.25A75.3,75.3 0 0 0 396.00,486.54Z" fill="#1e89ea"/>
<path d="M373.42,507.13A105.7,105.7 0 0 1 369.97,503.80L391.58,482.42A75.3,75.3 0 0 0 394.03,484.79Z" fill="#1e89ea"/>
<path d="M370.75,504.58A105.7,105.7 0 0 1 367.42,501.13L389.76,480.52A75.3,75.3 0 0 0 392.13,482.97Z" fill="#1e89ea"/>
<path d="M368.17,501.94A105.7,105.7 0 0 1 364.97,498.38L388.01,478.55A75.3,75.3 0 0 0 390.30,481.09Z" fill="#1e89ea"/>
<path d="M365.69,499.21A105.7,105.7 0 0 1 362.61,495.54L386.33,476.53A75.3,75.3 0 0 0 388.53,479.15Z" fill="#1e89ea"/>
<path d="M363.31,496.40A105.7,105.7 0 0 1 360.35,492.62L384.73,474.45A75.3,75.3 0 0 0 386.83,477.14Z" fill="#1e89ea"/>
<path d="M361.02,493.50A105.7,105.7 0 0 1 358.20,489.62L383.19,472.32A75.3,75.3 0 0 0 385.20,475.08Z" fill="#1e8aea"/>
<path d="M358.83,490.53A105.7,105.7 0 0 1 356.15,486.55L381.73,470.13A75.3,75.3 0 0 0 383.64,472.96Z" fill="#1e8aea"/>
<path d="M356.76,487.48A105.7,105.7 0 0 1 354.21,483.41L380.35,467.89A75.3,75.3 0 0 0 382.16,470.79Z" fill="#1e8aea"/>
<path d="M354.78,484.36A105.7,105.7 0 0 1 352.39,480.21L379.05,465.61A75.3,75.3 0 0 0 380.76,468.57Z" fill="#1e8aea"/>
<path d="M352.92,481.18A105.7,105.7 0 0 1 350.67,476.94L377.83,463.28A75.3,75.3 0 0 0 379.43,466.30Z" fill="#1e8aea"/>
<path d="M351.17,477.93A105.7,105.7 0 0 1 349.07,473.62L376.69,460.92A75.3,75.3 0 0 0 378.19,463.99Z" fill="#1e8aea"/>
<path d="M349.54,474.62A105.7,105.7 0 0 1 347.59,470.24L375.63,458.51A75.3,75.3 0 0 0 377.02,461.63Z" fill="#1e8aea"/>
<path d="M348.02,471.26A105.7,105.7 0 0 1 346.22,466.81L374.66,456.07A75.3,75.3 0 0 0 375.94,459.23Z" fill="#1e8aea"/>
<path d="M346.62,467.85A105.7,105.7 0 0 1 344.98,463.34L373.78,453.59A75.3,75.3 0 0 0 374.94,456.80Z" fill="#1e8aea"/>
<path d="M345.34,464.39A105.7,105.7 0 0 1 343.86,459.82L372.98,451.09A75.3,75.3 0 0 0 374.03,454.34Z" fill="#1e8aea"/>
<path d="M344.18,460.88A105.7,105.7 0 0 1 342.86,456.27L372.26,448.56A75.3,75.3 0 0 0 373.21,451.84Z" fill="#1e8bea"/>
<path d="M343.15,457.34A105.7,105.7 0 0 1 341.99,452.69L371.64,446.00A75.3,75.3 0 0 0 372.47,449.32Z" fill="#1e8bea"/>
<path d="M342.23,453.77A105.7,105.7 0 0 1 341.24,449.07L371.11,443.43A75.3,75.3 0 0 0 371.82,446.77Z" fill="#1e8bea"/>
<path d="M341.45,450.16A105.7,105.7 0 0 1 340.62,445.44L370.67,440.84A75.3,75.3 0 0 0 371.26,444.20Z" fill="#1e8bea"/>
<path d="M340.79,446.53A105.7,105.7 0 0 1 340.12,441.78L370.31,438.24A75.3,75.3 0 0 0 370.79,441.62Z" fill="#1e8bea"/>
<path d="M340.26,442.88A105.7,105.7 0 0 1 339.76,438.11L370.05,435.62A75.3,75.3 0 0 0 370.41,439.02Z" fill="#1e8bea"/>
<path d="M339.85,439.21A105.7,105.7 0 0 1 339.52,434.43L369.88,433.00A75.3,75.3 0 0 0 370.12,436.41Z" fill="#1e8bea"/>
<path d="M339.58,435.53A105.7,105.7 0 0 1 339.41,430.74L369.81,430.37A75.3,75.3 0 0 0 369.92,433.78Z" fill="#1e8bea"/>
<path d="M339.43,431.85A105.7,105.7 0 0 1 339.43,427.05L369.82,427.74A75.3,75.3 0 0 0 369.82,431.16Z" fill="#1e8cea"/>
<path d="M339.41,428.16A105.7,105.7 0 0 1 339.58,423.37L369.92,425.12A75.3,75.3 0 0 0 369.81,428.53Z" fill="#1e8cea"/>
<path d="M339.52,424.47A105.7,105.7 0 0 1 339.85,419.69L370.12,422.49A75.3,75.3 0 0 0 369.88,425.90Z" fill="#1e8cea"/>
<path d="M339.76,420.79A105.7,105.7 0 0 1 340.26,416.02L370.41,419.88A75.3,75.3 0 0 0 370.05,423.28Z" fill="#1e8cea"/>
<path d="M340.12,417.12A105.7,105.7 0 0 1 340.79,412.37L370.79,417.28A75.3,75.3 0 0 0 370.31,420.66Z" fill="#1e8cea"/>
<path d="M340.62,413.46A105.7,105.7 0 0 1 341.45,408.74L371.26,414.70A75.3,75.3 0 0 0 370.67,418.06Z" fill="#1e8cea"/>
<path d="M341.24,409.83A105.7,105.7 0 0 1 342.23,405.13L371.82,412.13A75.3,75.3 0 0 0 371.11,415.47Z" fill="#1e8cea"/>
<path d="M341.99,406.21A105.7,105.7 0 0 1 343.15,401.56L372.47,409.58A75.3,75.3 0 0 0 371.64,412.90Z" fill="#1e8cea"/>
<path d="M342.86,402.63A105.7,105.7 0 0 1 344.18,398.02L373.21,407.06A75.3,75.3 0 0 0 372.26,410.34Z" fill="#1e8cea"/>
<path d="M343.86,399.08A105.7,105.7 0 0 1 345.34,394.51L374.03,404.56A75.3,75.3 0 0 0 372.98,407.81Z" fill="#1e8cea"/>
<path d="M344.98,395.56A105.7,105.7 0 0 1 346.62,391.05L374.94,402.10A75.3,75.3 0 0 0 373.78,405.31Z" fill="#1e8dea"/>
<path d="M346.22,392.09A105.7,105.7 0 0 1 348.02,387.64L375.94,399.67A75.3,75.3 0 0 0 374.66,402.83Z" fill="#1e8dea"/>
<path d="M347.59,388.66A105.7,105.7 0 0 1 349.54,384.28L377.02,397.27A75.3,75.3 0 0 0 375.63,400.39Z" fill="#1e8dea"/>
<path d="M349.07,385.28A105.7,105.7 0 0 1 351.17,380.97L378.19,394.91A75.3,75.3 0 0 0 376.69,397.98Z" fill="#1e8dea"/>
<path d="M350.67,381.96A105.7,105.7 0 0 1 352.92,377.72L379.43,392.60A75.3,75.3 0 0 0 377.83,395.62Z" fill="#1e8dea"/>
<path d="M352.39,378.69A105.7,105.7 0 0 1 354.78,374.54L380.76,390.33A75.3,75.3 0 0 0 379.05,393.29Z" fill="#1e8dea"/>
<path d="M354.21,375.49A105.7,105.7 0 0 1 356.76,371.42L382.16,388.11A75.3,75.3 0 0 0 380.35,391.01Z" fill="#1e8dea"/>
<path d="M356.15,372.35A105.7,105.7 0 0 1 358.83,368.37L383.64,385.94A75.3,75.3 0 0 0 381.73,388.77Z" fill="#1e8dea"/>
<path d="M358.20,369.28A105.7,105.7 0 0 1 361.02,365.40L385.20,383.82A75.3,75.3 0 0 0 383.19,386.58Z" fill="#1e8eea"/>
<path d="M360.35,366.28A105.7,105.7 0 0 1 363.31,362.50L386.83,381.76A75.3,75.3 0 0 0 384.73,384.45Z" fill="#1e8eea"/>
<path d="M362.61,363.36A105.7,105.7 0 0 1 365.69,359.69L388.53,379.75A75.3,75.3 0 0 0 386.33,382.37Z" fill="#1e8eea"/>
<path d="M364.97,360.52A105.7,105.7 0 0 1 368.17,356.96L390.30,377.81A75.3,75.3 0 0 0 388.01,380.35Z" fill="#1e8eea"/>
<path d="M367.42,357.77A105.7,105.7 0 0 1 370.75,354.32L392.13,375.93A75.3,75.3 0 0 0 389.76,378.38Z" fill="#1e8eea"/>
<path d="M369.97,355.10A105.7,105.7 0 0 1 373.42,351.77L394.03,374.11A75.3,75.3 0 0 0 391.58,376.48Z" fill="#1e8eea"/>
<path d="M372.61,352.52A105.7,105.7 0 0 1 376.17,349.32L396.00,372.36A75.3,75.3 0 0 0 393.46,374.65Z" fill="#1e8eea"/>
<path d="M375.34,350.04A105.7,105.7 0 0 1 379.01,346.96L398.02,370.68A75.3,75.3 0 0 0 395.40,372.88Z" fill="#1e8eea"/>
<path d="M378.15,347.66A105.7,105.7 0 0 1 381.93,344.70L400.10,369.08A75.3,75.3 0 0 0 397.41,371.18Z" fill="#1e8eea"/>
<path d="M381.05,345.37A105.7,105.7 0 0 1 384.93,342.55L402.23,367.54A75.3,75.3 0 0 0 399.47,369.55Z" fill="#1e8eea"/>
</g></g>
<g clip-path="url(#hpTLp)">
<path d="M253.40,217.72A105.7,105.7 0 0 1 257.28,214.90L274.58,239.89A75.3,75.3 0 0 0 271.82,241.90Z" fill="#df9783"/>
<path d="M250.50,220.01A105.7,105.7 0 0 1 254.28,217.05L272.45,241.43A75.3,75.3 0 0 0 269.76,243.53Z" fill="#df9783"/>
<path d="M247.69,222.39A105.7,105.7 0 0 1 251.36,219.31L270.37,243.03A75.3,75.3 0 0 0 267.75,245.23Z" fill="#df9783"/>
<path d="M244.96,224.87A105.7,105.7 0 0 1 248.52,221.67L268.35,244.71A75.3,75.3 0 0 0 265.81,247.00Z" fill="#df9783"/>
<path d="M242.32,227.45A105.7,105.7 0 0 1 245.77,224.12L266.38,246.46A75.3,75.3 0 0 0 263.93,248.83Z" fill="#df9783"/>
<path d="M239.77,230.12A105.7,105.7 0 0 1 243.10,226.67L264.48,248.28A75.3,75.3 0 0 0 262.11,250.73Z" fill="#df9783"/>
<path d="M237.32,232.87A105.7,105.7 0 0 1 240.52,229.31L262.65,250.16A75.3,75.3 0 0 0 260.36,252.70Z" fill="#df9783"/>
<path d="M234.96,235.71A105.7,105.7 0 0 1 238.04,232.04L260.88,252.10A75.3,75.3 0 0 0 258.68,254.72Z" fill="#df9783"/>
<path d="M232.70,238.63A105.7,105.7 0 0 1 235.66,234.85L259.18,254.11A75.3,75.3 0 0 0 257.08,256.80Z" fill="#df9783"/>
<path d="M230.55,241.63A105.7,105.7 0 0 1 233.37,237.75L257.55,256.17A75.3,75.3 0 0 0 255.54,258.93Z" fill="#df9683"/>
<path d="M228.50,244.70A105.7,105.7 0 0 1 231.18,240.72L255.99,258.29A75.3,75.3 0 0 0 254.08,261.12Z" fill="#df9683"/>
<path d="M226.56,247.84A105.7,105.7 0 0 1 229.11,243.77L254.51,260.46A75.3,75.3 0 0 0 252.70,263.36Z" fill="#df9683"/>
<path d="M224.74,251.04A105.7,105.7 0 0 1 227.13,246.89L253.11,262.68A75.3,75.3 0 0 0 251.40,265.64Z" fill="#df9683"/>
<path d="M223.02,254.31A105.7,105.7 0 0 1 225.27,250.07L251.78,264.95A75.3,75.3 0 0 0 250.18,267.97Z" fill="#df9683"/>
<path d="M221.42,257.63A105.7,105.7 0 0 1 223.52,253.32L250.54,267.26A75.3,75.3 0 0 0 249.04,270.33Z" fill="#df9683"/>
<path d="M219.94,261.01A105.7,105.7 0 0 1 221.89,256.63L249.37,269.62A75.3,75.3 0 0 0 247.98,272.74Z" fill="#df9683"/>
<path d="M218.57,264.44A105.7,105.7 0 0 1 220.37,259.99L248.29,272.02A75.3,75.3 0 0 0 247.01,275.18Z" fill="#df9683"/>
<path d="M217.33,267.91A105.7,105.7 0 0 1 218.97,263.40L247.29,274.45A75.3,75.3 0 0 0 246.13,277.66Z" fill="#df9683"/>
<path d="M216.21,271.43A105.7,105.7 0 0 1 217.69,266.86L246.38,276.91A75.3,75.3 0 0 0 245.33,280.16Z" fill="#df9683"/>
<path d="M215.21,274.98A105.7,105.7 0 0 1 216.53,270.37L245.56,279.41A75.3,75.3 0 0 0 244.61,282.69Z" fill="#df9583"/>
<path d="M214.34,278.56A105.7,105.7 0 0 1 215.50,273.91L244.82,281.93A75.3,75.3 0 0 0 243.99,285.25Z" fill="#df9583"/>
<path d="M213.59,282.18A105.7,105.7 0 0 1 214.58,277.48L244.17,284.48A75.3,75.3 0 0 0 243.46,287.82Z" fill="#df9583"/>
<path d="M212.97,285.81A105.7,105.7 0 0 1 213.80,281.09L243.61,287.05A75.3,75.3 0 0 0 243.02,290.41Z" fill="#df9583"/>
<path d="M212.47,289.47A105.7,105.7 0 0 1 213.14,284.72L243.14,289.63A75.3,75.3 0 0 0 242.66,293.01Z" fill="#df9583"/>
<path d="M212.11,293.14A105.7,105.7 0 0 1 212.61,288.37L242.76,292.23A75.3,75.3 0 0 0 242.40,295.63Z" fill="#df9583"/>
<path d="M211.87,296.82A105.7,105.7 0 0 1 212.20,292.04L242.47,294.84A75.3,75.3 0 0 0 242.23,298.25Z" fill="#df9583"/>
<path d="M211.76,300.51A105.7,105.7 0 0 1 211.93,295.72L242.27,297.47A75.3,75.3 0 0 0 242.16,300.88Z" fill="#df9583"/>
<path d="M211.78,304.20A105.7,105.7 0 0 1 211.78,299.40L242.17,300.09A75.3,75.3 0 0 0 242.17,303.51Z" fill="#df9483"/>
<path d="M211.93,307.88A105.7,105.7 0 0 1 211.76,303.09L242.16,302.72A75.3,75.3 0 0 0 242.27,306.13Z" fill="#df9483"/>
<path d="M212.20,311.56A105.7,105.7 0 0 1 211.87,306.78L242.23,305.35A75.3,75.3 0 0 0 242.47,308.76Z" fill="#df9483"/>
<path d="M212.61,315.23A105.7,105.7 0 0 1 212.11,310.46L242.40,307.97A75.3,75.3 0 0 0 242.76,311.37Z" fill="#df9483"/>
<path d="M213.14,318.88A105.7,105.7 0 0 1 212.47,314.13L242.66,310.59A75.3,75.3 0 0 0 243.14,313.97Z" fill="#df9483"/>
<path d="M213.80,322.51A105.7,105.7 0 0 1 212.97,317.79L243.02,313.19A75.3,75.3 0 0 0 243.61,316.55Z" fill="#df9483"/>
<path d="M214.58,326.12A105.7,105.7 0 0 1 213.59,321.42L243.46,315.78A75.3,75.3 0 0 0 244.17,319.12Z" fill="#df9383"/>
<path d="M215.50,329.69A105.7,105.7 0 0 1 214.34,325.04L243.99,318.35A75.3,75.3 0 0 0 244.82,321.67Z" fill="#df9283"/>
<path d="M216.53,333.23A105.7,105.7 0 0 1 215.21,328.62L244.61,320.91A75.3,75.3 0 0 0 245.56,324.19Z" fill="#df9183"/>
<path d="M217.69,336.74A105.7,105.7 0 0 1 216.21,332.17L245.33,323.44A75.3,75.3 0 0 0 246.38,326.69Z" fill="#df9184"/>
<path d="M218.97,340.20A105.7,105.7 0 0 1 217.33,335.69L246.13,325.94A75.3,75.3 0 0 0 247.29,329.15Z" fill="#df9084"/>
<path d="M220.37,343.61A105.7,105.7 0 0 1 218.57,339.16L247.01,328.42A75.3,75.3 0 0 0 248.29,331.58Z" fill="#df8f84"/>
<path d="M221.89,346.97A105.7,105.7 0 0 1 219.94,342.59L247.98,330.86A75.3,75.3 0 0 0 249.37,333.98Z" fill="#df8e84"/>
<path d="M223.52,350.28A105.7,105.7 0 0 1 221.42,345.97L249.04,333.27A75.3,75.3 0 0 0 250.54,336.34Z" fill="#df8e84"/>
<path d="M225.27,353.53A105.7,105.7 0 0 1 223.02,349.29L250.18,335.63A75.3,75.3 0 0 0 251.78,338.65Z" fill="#df8d84"/>
<path d="M227.13,356.71A105.7,105.7 0 0 1 224.74,352.56L251.40,337.96A75.3,75.3 0 0 0 253.11,340.92Z" fill="#df8c84"/>
<path d="M229.11,359.83A105.7,105.7 0 0 1 226.56,355.76L252.70,340.24A75.3,75.3 0 0 0 254.51,343.14Z" fill="#e08b85"/>
<path d="M231.18,362.88A105.7,105.7 0 0 1 228.50,358.90L254.08,342.48A75.3,75.3 0 0 0 255.99,345.31Z" fill="#e08b85"/>
<path d="M233.37,365.85A105.7,105.7 0 0 1 230.55,361.97L255.54,344.67A75.3,75.3 0 0 0 257.55,347.43Z" fill="#e08a85"/>
<path d="M235.66,368.75A105.7,105.7 0 0 1 232.70,364.97L257.08,346.80A75.3,75.3 0 0 0 259.18,349.49Z" fill="#e08985"/>
<path d="M238.04,371.56A105.7,105.7 0 0 1 234.96,367.89L258.68,348.88A75.3,75.3 0 0 0 260.88,351.50Z" fill="#e08885"/>
<path d="M240.52,374.29A105.7,105.7 0 0 1 237.32,370.73L260.36,350.90A75.3,75.3 0 0 0 262.65,353.44Z" fill="#e08885"/>
<path d="M243.10,376.93A105.7,105.7 0 0 1 239.77,373.48L262.11,352.87A75.3,75.3 0 0 0 264.48,355.32Z" fill="#e08785"/>
<path d="M245.77,379.48A105.7,105.7 0 0 1 242.32,376.15L263.93,354.77A75.3,75.3 0 0 0 266.38,357.14Z" fill="#e08685"/>
<path d="M248.52,381.93A105.7,105.7 0 0 1 244.96,378.73L265.81,356.60A75.3,75.3 0 0 0 268.35,358.89Z" fill="#e08586"/>
<path d="M251.36,384.29A105.7,105.7 0 0 1 247.69,381.21L267.75,358.37A75.3,75.3 0 0 0 270.37,360.57Z" fill="#e08586"/>
<path d="M254.28,386.55A105.7,105.7 0 0 1 250.50,383.59L269.76,360.07A75.3,75.3 0 0 0 272.45,362.17Z" fill="#e08486"/>
<path d="M257.28,388.70A105.7,105.7 0 0 1 253.40,385.88L271.82,361.70A75.3,75.3 0 0 0 274.58,363.71Z" fill="#e08386"/>
<path d="M260.35,390.75A105.7,105.7 0 0 1 256.37,388.07L273.94,363.26A75.3,75.3 0 0 0 276.77,365.17Z" fill="#e08286"/>
<path d="M263.49,392.69A105.7,105.7 0 0 1 259.42,390.14L276.11,364.74A75.3,75.3 0 0 0 279.01,366.55Z" fill="#e08186"/>
<path d="M266.69,394.51A105.7,105.7 0 0 1 262.54,392.12L278.33,366.14A75.3,75.3 0 0 0 281.29,367.85Z" fill="#e07f86"/>
<path d="M269.96,396.23A105.7,105.7 0 0 1 265.72,393.98L280.60,367.47A75.3,75.3 0 0 0 283.62,369.07Z" fill="#e07e86"/>
<path d="M273.28,397.83A105.7,105.7 0 0 1 268.97,395.73L282.91,368.71A75.3,75.3 0 0 0 285.98,370.21Z" fill="#e07d86"/>
<path d="M276.66,399.31A105.7,105.7 0 0 1 272.28,397.36L285.27,369.88A75.3,75.3 0 0 0 288.39,371.27Z" fill="#e07c87"/>
<path d="M280.09,400.68A105.7,105.7 0 0 1 275.64,398.88L287.67,370.96A75.3,75.3 0 0 0 290.83,372.24Z" fill="#e07b87"/>
<path d="M283.56,401.92A105.7,105.7 0 0 1 279.05,400.28L290.10,371.96A75.3,75.3 0 0 0 293.31,373.12Z" fill="#e07987"/>
<path d="M287.08,403.04A105.7,105.7 0 0 1 282.51,401.56L292.56,372.87A75.3,75.3 0 0 0 295.81,373.92Z" fill="#e07887"/>
<path d="M290.63,404.04A105.7,105.7 0 0 1 286.02,402.72L295.06,373.69A75.3,75.3 0 0 0 298.34,374.64Z" fill="#e07787"/>
<path d="M294.21,404.91A105.7,105.7 0 0 1 289.56,403.75L297.58,374.43A75.3,75.3 0 0 0 300.90,375.26Z" fill="#e07687"/>
<path d="M297.83,405.66A105.7,105.7 0 0 1 293.13,404.67L300.13,375.08A75.3,75.3 0 0 0 303.47,375.79Z" fill="#e17587"/>
<path d="M301.46,406.28A105.7,105.7 0 0 1 296.74,405.45L302.70,375.64A75.3,75.3 0 0 0 306.06,376.23Z" fill="#e17387"/>
<path d="M305.12,406.78A105.7,105.7 0 0 1 300.37,406.11L305.28,376.11A75.3,75.3 0 0 0 308.66,376.59Z" fill="#e17287"/>
<path d="M308.79,407.14A105.7,105.7 0 0 1 304.02,406.64L307.88,376.49A75.3,75.3 0 0 0 311.28,376.85Z" fill="#e17187"/>
<path d="M312.47,407.38A105.7,105.7 0 0 1 307.69,407.05L310.49,376.78A75.3,75.3 0 0 0 313.90,377.02Z" fill="#e17087"/>
<path d="M316.16,407.49A105.7,105.7 0 0 1 311.37,407.32L313.12,376.98A75.3,75.3 0 0 0 316.53,377.09Z" fill="#e16f88"/>
<path d="M319.85,407.47A105.7,105.7 0 0 1 315.05,407.47L315.74,377.08A75.3,75.3 0 0 0 319.16,377.08Z" fill="#e16d88"/>
<path d="M323.53,407.32A105.7,105.7 0 0 1 318.74,407.49L318.37,377.09A75.3,75.3 0 0 0 321.78,376.98Z" fill="#e16c88"/>
<path d="M327.21,407.05A105.7,105.7 0 0 1 322.43,407.38L321.00,377.02A75.3,75.3 0 0 0 324.41,376.78Z" fill="#e16b88"/>
<path d="M330.88,406.64A105.7,105.7 0 0 1 326.11,407.14L323.62,376.85A75.3,75.3 0 0 0 327.02,376.49Z" fill="#e16a88"/>
<path d="M334.53,406.11A105.7,105.7 0 0 1 329.78,406.78L326.24,376.59A75.3,75.3 0 0 0 329.62,376.11Z" fill="#e16988"/>
<path d="M338.16,405.45A105.7,105.7 0 0 1 333.44,406.28L328.84,376.23A75.3,75.3 0 0 0 332.20,375.64Z" fill="#e16788"/>
<path d="M341.77,404.67A105.7,105.7 0 0 1 337.07,405.66L331.43,375.79A75.3,75.3 0 0 0 334.77,375.08Z" fill="#e16688"/>
<path d="M345.34,403.75A105.7,105.7 0 0 1 340.69,404.91L334.00,375.26A75.3,75.3 0 0 0 337.32,374.43Z" fill="#e16588"/>
<path d="M348.88,402.72A105.7,105.7 0 0 1 344.27,404.04L336.56,374.64A75.3,75.3 0 0 0 339.84,373.69Z" fill="#e16389"/>
<path d="M352.39,401.56A105.7,105.7 0 0 1 347.82,403.04L339.09,373.92A75.3,75.3 0 0 0 342.34,372.87Z" fill="#e26289"/>
<path d="M355.85,400.28A105.7,105.7 0 0 1 351.34,401.92L341.59,373.12A75.3,75.3 0 0 0 344.80,371.96Z" fill="#e26089"/>
<path d="M359.26,398.88A105.7,105.7 0 0 1 354.81,400.68L344.07,372.24A75.3,75.3 0 0 0 347.23,370.96Z" fill="#e25f89"/>
<path d="M362.62,397.36A105.7,105.7 0 0 1 358.24,399.31L346.51,371.27A75.3,75.3 0 0 0 349.63,369.88Z" fill="#e25e89"/>
<path d="M365.93,395.73A105.7,105.7 0 0 1 361.62,397.83L348.92,370.21A75.3,75.3 0 0 0 351.99,368.71Z" fill="#e25c89"/>
<path d="M369.18,393.98A105.7,105.7 0 0 1 364.94,396.23L351.28,369.07A75.3,75.3 0 0 0 354.30,367.47Z" fill="#e25b8a"/>
<path d="M372.36,392.12A105.7,105.7 0 0 1 368.21,394.51L353.61,367.85A75.3,75.3 0 0 0 356.57,366.14Z" fill="#e2598a"/>
<path d="M375.48,390.14A105.7,105.7 0 0 1 371.41,392.69L355.89,366.55A75.3,75.3 0 0 0 358.79,364.74Z" fill="#e2588a"/>
<path d="M378.53,388.07A105.7,105.7 0 0 1 374.55,390.75L358.13,365.17A75.3,75.3 0 0 0 360.96,363.26Z" fill="#e2578a"/>
<path d="M381.50,385.88A105.7,105.7 0 0 1 377.62,388.70L360.32,363.71A75.3,75.3 0 0 0 363.08,361.70Z" fill="#e2558a"/>
<path d="M384.40,383.59A105.7,105.7 0 0 1 380.62,386.55L362.45,362.17A75.3,75.3 0 0 0 365.14,360.07Z" fill="#e3548a"/>
<path d="M387.21,381.21A105.7,105.7 0 0 1 383.54,384.29L364.53,360.57A75.3,75.3 0 0 0 367.15,358.37Z" fill="#e3528b"/>
<path d="M389.94,378.73A105.7,105.7 0 0 1 386.38,381.93L366.55,358.89A75.3,75.3 0 0 0 369.09,356.60Z" fill="#e3518b"/>
<path d="M392.58,376.15A105.7,105.7 0 0 1 389.13,379.48L368.52,357.14A75.3,75.3 0 0 0 370.97,354.77Z" fill="#e3508b"/>
<path d="M395.13,373.48A105.7,105.7 0 0 1 391.80,376.93L370.42,355.32A75.3,75.3 0 0 0 372.79,352.87Z" fill="#e34f8b"/>
<path d="M397.58,370.73A105.7,105.7 0 0 1 394.38,374.29L372.25,353.44A75.3,75.3 0 0 0 374.54,350.90Z" fill="#e34f8b"/>
<path d="M399.94,367.89A105.7,105.7 0 0 1 396.86,371.56L374.02,351.50A75.3,75.3 0 0 0 376.22,348.88Z" fill="#e34f8b"/>
<path d="M402.20,364.97A105.7,105.7 0 0 1 399.24,368.75L375.72,349.49A75.3,75.3 0 0 0 377.82,346.80Z" fill="#e34f8b"/>
<path d="M404.35,361.97A105.7,105.7 0 0 1 401.53,365.85L377.35,347.43A75.3,75.3 0 0 0 379.36,344.67Z" fill="#e34f8b"/>
</g>
<g clip-path="url(#hpBRp)">
<path d="M496.50,526.18A105.7,105.7 0 0 1 492.62,529.00L475.32,504.01A75.3,75.3 0 0 0 478.08,502.00Z" fill="#df9783"/>
<path d="M499.40,523.89A105.7,105.7 0 0 1 495.62,526.85L477.45,502.47A75.3,75.3 0 0 0 480.14,500.37Z" fill="#df9783"/>
<path d="M502.21,521.51A105.7,105.7 0 0 1 498.54,524.59L479.53,500.87A75.3,75.3 0 0 0 482.15,498.67Z" fill="#df9783"/>
<path d="M504.94,519.03A105.7,105.7 0 0 1 501.38,522.23L481.55,499.19A75.3,75.3 0 0 0 484.09,496.90Z" fill="#df9783"/>
<path d="M507.58,516.45A105.7,105.7 0 0 1 504.13,519.78L483.52,497.44A75.3,75.3 0 0 0 485.97,495.07Z" fill="#df9783"/>
<path d="M510.13,513.78A105.7,105.7 0 0 1 506.80,517.23L485.42,495.62A75.3,75.3 0 0 0 487.79,493.17Z" fill="#df9783"/>
<path d="M512.58,511.03A105.7,105.7 0 0 1 509.38,514.59L487.25,493.74A75.3,75.3 0 0 0 489.54,491.20Z" fill="#df9783"/>
<path d="M514.94,508.19A105.7,105.7 0 0 1 511.86,511.86L489.02,491.80A75.3,75.3 0 0 0 491.22,489.18Z" fill="#df9783"/>
<path d="M517.20,505.27A105.7,105.7 0 0 1 514.24,509.05L490.72,489.79A75.3,75.3 0 0 0 492.82,487.10Z" fill="#df9783"/>
<path d="M519.35,502.27A105.7,105.7 0 0 1 516.53,506.15L492.35,487.73A75.3,75.3 0 0 0 494.36,484.97Z" fill="#df9683"/>
<path d="M521.40,499.20A105.7,105.7 0 0 1 518.72,503.18L493.91,485.61A75.3,75.3 0 0 0 495.82,482.78Z" fill="#df9683"/>
<path d="M523.34,496.06A105.7,105.7 0 0 1 520.79,500.13L495.39,483.44A75.3,75.3 0 0 0 497.20,480.54Z" fill="#df9683"/>
<path d="M525.16,492.86A105.7,105.7 0 0 1 522.77,497.01L496.79,481.22A75.3,75.3 0 0 0 498.50,478.26Z" fill="#df9683"/>
<path d="M526.88,489.59A105.7,105.7 0 0 1 524.63,493.83L498.12,478.95A75.3,75.3 0 0 0 499.72,475.93Z" fill="#df9683"/>
<path d="M528.48,486.27A105.7,105.7 0 0 1 526.38,490.58L499.36,476.64A75.3,75.3 0 0 0 500.86,473.57Z" fill="#df9683"/>
<path d="M529.96,482.89A105.7,105.7 0 0 1 528.01,487.27L500.53,474.28A75.3,75.3 0 0 0 501.92,471.16Z" fill="#df9683"/>
<path d="M531.33,479.46A105.7,105.7 0 0 1 529.53,483.91L501.61,471.88A75.3,75.3 0 0 0 502.89,468.72Z" fill="#df9683"/>
<path d="M532.57,475.99A105.7,105.7 0 0 1 530.93,480.50L502.61,469.45A75.3,75.3 0 0 0 503.77,466.24Z" fill="#df9683"/>
<path d="M533.69,472.47A105.7,105.7 0 0 1 532.21,477.04L503.52,466.99A75.3,75.3 0 0 0 504.57,463.74Z" fill="#df9683"/>
<path d="M534.69,468.92A105.7,105.7 0 0 1 533.37,473.53L504.34,464.49A75.3,75.3 0 0 0 505.29,461.21Z" fill="#df9583"/>
<path d="M535.56,465.34A105.7,105.7 0 0 1 534.40,469.99L505.08,461.97A75.3,75.3 0 0 0 505.91,458.65Z" fill="#df9583"/>
<path d="M536.31,461.72A105.7,105.7 0 0 1 535.32,466.42L505.73,459.42A75.3,75.3 0 0 0 506.44,456.08Z" fill="#df9583"/>
<path d="M536.93,458.09A105.7,105.7 0 0 1 536.10,462.81L506.29,456.85A75.3,75.3 0 0 0 506.88,453.49Z" fill="#df9583"/>
<path d="M537.43,454.43A105.7,105.7 0 0 1 536.76,459.18L506.76,454.27A75.3,75.3 0 0 0 507.24,450.89Z" fill="#df9583"/>
<path d="M537.79,450.76A105.7,105.7 0 0 1 537.29,455.53L507.14,451.67A75.3,75.3 0 0 0 507.50,448.27Z" fill="#df9583"/>
<path d="M538.03,447.08A105.7,105.7 0 0 1 537.70,451.86L507.43,449.06A75.3,75.3 0 0 0 507.67,445.65Z" fill="#df9583"/>
<path d="M538.14,443.39A105.7,105.7 0 0 1 537.97,448.18L507.63,446.43A75.3,75.3 0 0 0 507.74,443.02Z" fill="#df9583"/>
<path d="M538.12,439.70A105.7,105.7 0 0 1 538.12,444.50L507.73,443.81A75.3,75.3 0 0 0 507.73,440.39Z" fill="#df9483"/>
<path d="M537.97,436.02A105.7,105.7 0 0 1 538.14,440.81L507.74,441.18A75.3,75.3 0 0 0 507.63,437.77Z" fill="#df9483"/>
<path d="M537.70,432.34A105.7,105.7 0 0 1 538.03,437.12L507.67,438.55A75.3,75.3 0 0 0 507.43,435.14Z" fill="#df9483"/>
<path d="M537.29,428.67A105.7,105.7 0 0 1 537.79,433.44L507.50,435.93A75.3,75.3 0 0 0 507.14,432.53Z" fill="#df9483"/>
<path d="M536.76,425.02A105.7,105.7 0 0 1 537.43,429.77L507.24,433.31A75.3,75.3 0 0 0 506.76,429.93Z" fill="#df9483"/>
<path d="M536.10,421.39A105.7,105.7 0 0 1 536.93,426.11L506.88,430.71A75.3,75.3 0 0 0 506.29,427.35Z" fill="#df9483"/>
<path d="M535.32,417.78A105.7,105.7 0 0 1 536.31,422.48L506.44,428.12A75.3,75.3 0 0 0 505.73,424.78Z" fill="#df9383"/>
<path d="M534.40,414.21A105.7,105.7 0 0 1 535.56,418.86L505.91,425.55A75.3,75.3 0 0 0 505.08,422.23Z" fill="#df9283"/>
<path d="M533.37,410.67A105.7,105.7 0 0 1 534.69,415.28L505.29,422.99A75.3,75.3 0 0 0 504.34,419.71Z" fill="#df9183"/>
<path d="M532.21,407.16A105.7,105.7 0 0 1 533.69,411.73L504.57,420.46A75.3,75.3 0 0 0 503.52,417.21Z" fill="#df9184"/>
<path d="M530.93,403.70A105.7,105.7 0 0 1 532.57,408.21L503.77,417.96A75.3,75.3 0 0 0 502.61,414.75Z" fill="#df9084"/>
<path d="M529.53,400.29A105.7,105.7 0 0 1 531.33,404.74L502.89,415.48A75.3,75.3 0 0 0 501.61,412.32Z" fill="#df8f84"/>
<path d="M528.01,396.93A105.7,105.7 0 0 1 529.96,401.31L501.92,413.04A75.3,75.3 0 0 0 500.53,409.92Z" fill="#df8e84"/>
<path d="M526.38,393.62A105.7,105.7 0 0 1 528.48,397.93L500.86,410.63A75.3,75.3 0 0 0 499.36,407.56Z" fill="#df8e84"/>
<path d="M524.63,390.37A105.7,105.7 0 0 1 526.88,394.61L499.72,408.27A75.3,75.3 0 0 0 498.12,405.25Z" fill="#df8d84"/>
<path d="M522.77,387.19A105.7,105.7 0 0 1 525.16,391.34L498.50,405.94A75.3,75.3 0 0 0 496.79,402.98Z" fill="#df8c84"/>
<path d="M520.79,384.07A105.7,105.7 0 0 1 523.34,388.14L497.20,403.66A75.3,75.3 0 0 0 495.39,400.76Z" fill="#e08b85"/>
<path d="M518.72,381.02A105.7,105.7 0 0 1 521.40,385.00L495.82,401.42A75.3,75.3 0 0 0 493.91,398.59Z" fill="#e08b85"/>
<path d="M516.53,378.05A105.7,105.7 0 0 1 519.35,381.93L494.36,399.23A75.3,75.3 0 0 0 492.35,396.47Z" fill="#e08a85"/>
<path d="M514.24,375.15A105.7,105.7 0 0 1 517.20,378.93L492.82,397.10A75.3,75.3 0 0 0 490.72,394.41Z" fill="#e08985"/>
<path d="M511.86,372.34A105.7,105.7 0 0 1 514.94,376.01L491.22,395.02A75.3,75.3 0 0 0 489.02,392.40Z" fill="#e08885"/>
<path d="M509.38,369.61A105.7,105.7 0 0 1 512.58,373.17L489.54,393.00A75.3,75.3 0 0 0 487.25,390.46Z" fill="#e08885"/>
<path d="M506.80,366.97A105.7,105.7 0 0 1 510.13,370.42L487.79,391.03A75.3,75.3 0 0 0 485.42,388.58Z" fill="#e08785"/>
<path d="M504.13,364.42A105.7,105.7 0 0 1 507.58,367.75L485.97,389.13A75.3,75.3 0 0 0 483.52,386.76Z" fill="#e08685"/>
<path d="M501.38,361.97A105.7,105.7 0 0 1 504.94,365.17L484.09,387.30A75.3,75.3 0 0 0 481.55,385.01Z" fill="#e08586"/>
<path d="M498.54,359.61A105.7,105.7 0 0 1 502.21,362.69L482.15,385.53A75.3,75.3 0 0 0 479.53,383.33Z" fill="#e08586"/>
<path d="M495.62,357.35A105.7,105.7 0 0 1 499.40,360.31L480.14,383.83A75.3,75.3 0 0 0 477.45,381.73Z" fill="#e08486"/>
<path d="M492.62,355.20A105.7,105.7 0 0 1 496.50,358.02L478.08,382.20A75.3,75.3 0 0 0 475.32,380.19Z" fill="#e08386"/>
<path d="M489.55,353.15A105.7,105.7 0 0 1 493.53,355.83L475.96,380.64A75.3,75.3 0 0 0 473.13,378.73Z" fill="#e08286"/>
<path d="M486.41,351.21A105.7,105.7 0 0 1 490.48,353.76L473.79,379.16A75.3,75.3 0 0 0 470.89,377.35Z" fill="#e08186"/>
<path d="M483.21,349.39A105.7,105.7 0 0 1 487.36,351.78L471.57,377.76A75.3,75.3 0 0 0 468.61,376.05Z" fill="#e07f86"/>
<path d="M479.94,347.67A105.7,105.7 0 0 1 484.18,349.92L469.30,376.43A75.3,75.3 0 0 0 466.28,374.83Z" fill="#e07e86"/>
<path d="M476.62,346.07A105.7,105.7 0 0 1 480.93,348.17L466.99,375.19A75.3,75.3 0 0 0 463.92,373.69Z" fill="#e07d86"/>
<path d="M473.24,344.59A105.7,105.7 0 0 1 477.62,346.54L464.63,374.02A75.3,75.3 0 0 0 461.51,372.63Z" fill="#e07c87"/>
<path d="M469.81,343.22A105.7,105.7 0 0 1 474.26,345.02L462.23,372.94A75.3,75.3 0 0 0 459.07,371.66Z" fill="#e07b87"/>
<path d="M466.34,341.98A105.7,105.7 0 0 1 470.85,343.62L459.80,371.94A75.3,75.3 0 0 0 456.59,370.78Z" fill="#e07987"/>
<path d="M462.82,340.86A105.7,105.7 0 0 1 467.39,342.34L457.34,371.03A75.3,75.3 0 0 0 454.09,369.98Z" fill="#e07887"/>
<path d="M459.27,339.86A105.7,105.7 0 0 1 463.88,341.18L454.84,370.21A75.3,75.3 0 0 0 451.56,369.26Z" fill="#e07787"/>
<path d="M455.69,338.99A105.7,105.7 0 0 1 460.34,340.15L452.32,369.47A75.3,75.3 0 0 0 449.00,368.64Z" fill="#e07687"/>
<path d="M452.07,338.24A105.7,105.7 0 0 1 456.77,339.23L449.77,368.82A75.3,75.3 0 0 0 446.43,368.11Z" fill="#e17587"/>
<path d="M448.44,337.62A105.7,105.7 0 0 1 453.16,338.45L447.20,368.26A75.3,75.3 0 0 0 443.84,367.67Z" fill="#e17387"/>
<path d="M444.78,337.12A105.7,105.7 0 0 1 449.53,337.79L444.62,367.79A75.3,75.3 0 0 0 441.24,367.31Z" fill="#e17287"/>
<path d="M441.11,336.76A105.7,105.7 0 0 1 445.88,337.26L442.02,367.41A75.3,75.3 0 0 0 438.62,367.05Z" fill="#e17187"/>
<path d="M437.43,336.52A105.7,105.7 0 0 1 442.21,336.85L439.41,367.12A75.3,75.3 0 0 0 436.00,366.88Z" fill="#e17087"/>
<path d="M433.74,336.41A105.7,105.7 0 0 1 438.53,336.58L436.78,366.92A75.3,75.3 0 0 0 433.37,366.81Z" fill="#e16f88"/>
<path d="M430.05,336.43A105.7,105.7 0 0 1 434.85,336.43L434.16,366.82A75.3,75.3 0 0 0 430.74,366.82Z" fill="#e16d88"/>
<path d="M426.37,336.58A105.7,105.7 0 0 1 431.16,336.41L431.53,366.81A75.3,75.3 0 0 0 428.12,366.92Z" fill="#e16c88"/>
<path d="M422.69,336.85A105.7,105.7 0 0 1 427.47,336.52L428.90,366.88A75.3,75.3 0 0 0 425.49,367.12Z" fill="#e16b88"/>
<path d="M419.02,337.26A105.7,105.7 0 0 1 423.79,336.76L426.28,367.05A75.3,75.3 0 0 0 422.88,367.41Z" fill="#e16a88"/>
<path d="M415.37,337.79A105.7,105.7 0 0 1 420.12,337.12L423.66,367.31A75.3,75.3 0 0 0 420.28,367.79Z" fill="#e16988"/>
<path d="M411.74,338.45A105.7,105.7 0 0 1 416.46,337.62L421.06,367.67A75.3,75.3 0 0 0 417.70,368.26Z" fill="#e16788"/>
<path d="M408.13,339.23A105.7,105.7 0 0 1 412.83,338.24L418.47,368.11A75.3,75.3 0 0 0 415.13,368.82Z" fill="#e16688"/>
<path d="M404.56,340.15A105.7,105.7 0 0 1 409.21,338.99L415.90,368.64A75.3,75.3 0 0 0 412.58,369.47Z" fill="#e16588"/>
<path d="M401.02,341.18A105.7,105.7 0 0 1 405.63,339.86L413.34,369.26A75.3,75.3 0 0 0 410.06,370.21Z" fill="#e16389"/>
<path d="M397.51,342.34A105.7,105.7 0 0 1 402.08,340.86L410.81,369.98A75.3,75.3 0 0 0 407.56,371.03Z" fill="#e26289"/>
<path d="M394.05,343.62A105.7,105.7 0 0 1 398.56,341.98L408.31,370.78A75.3,75.3 0 0 0 405.10,371.94Z" fill="#e26089"/>
<path d="M390.64,345.02A105.7,105.7 0 0 1 395.09,343.22L405.83,371.66A75.3,75.3 0 0 0 402.67,372.94Z" fill="#e25f89"/>
<path d="M387.28,346.54A105.7,105.7 0 0 1 391.66,344.59L403.39,372.63A75.3,75.3 0 0 0 400.27,374.02Z" fill="#e25e89"/>
<path d="M383.97,348.17A105.7,105.7 0 0 1 388.28,346.07L400.98,373.69A75.3,75.3 0 0 0 397.91,375.19Z" fill="#e25c89"/>
<path d="M380.72,349.92A105.7,105.7 0 0 1 384.96,347.67L398.62,374.83A75.3,75.3 0 0 0 395.60,376.43Z" fill="#e25b8a"/>
<path d="M377.54,351.78A105.7,105.7 0 0 1 381.69,349.39L396.29,376.05A75.3,75.3 0 0 0 393.33,377.76Z" fill="#e2598a"/>
<path d="M374.42,353.76A105.7,105.7 0 0 1 378.49,351.21L394.01,377.35A75.3,75.3 0 0 0 391.11,379.16Z" fill="#e2588a"/>
<path d="M371.37,355.83A105.7,105.7 0 0 1 375.35,353.15L391.77,378.73A75.3,75.3 0 0 0 388.94,380.64Z" fill="#e2578a"/>
<path d="M368.40,358.02A105.7,105.7 0 0 1 372.28,355.20L389.58,380.19A75.3,75.3 0 0 0 386.82,382.20Z" fill="#e2558a"/>
<path d="M365.50,360.31A105.7,105.7 0 0 1 369.28,357.35L387.45,381.73A75.3,75.3 0 0 0 384.76,383.83Z" fill="#e3548a"/>
<path d="M362.69,362.69A105.7,105.7 0 0 1 366.36,359.61L385.37,383.33A75.3,75.3 0 0 0 382.75,385.53Z" fill="#e3528b"/>
<path d="M359.96,365.17A105.7,105.7 0 0 1 363.52,361.97L383.35,385.01A75.3,75.3 0 0 0 380.81,387.30Z" fill="#e3518b"/>
<path d="M357.32,367.75A105.7,105.7 0 0 1 360.77,364.42L381.38,386.76A75.3,75.3 0 0 0 378.93,389.13Z" fill="#e3508b"/>
<path d="M354.77,370.42A105.7,105.7 0 0 1 358.10,366.97L379.48,388.58A75.3,75.3 0 0 0 377.11,391.03Z" fill="#e34f8b"/>
<path d="M352.32,373.17A105.7,105.7 0 0 1 355.52,369.61L377.65,390.46A75.3,75.3 0 0 0 375.36,393.00Z" fill="#e34f8b"/>
<path d="M349.96,376.01A105.7,105.7 0 0 1 353.04,372.34L375.88,392.40A75.3,75.3 0 0 0 373.68,395.02Z" fill="#e34f8b"/>
<path d="M347.70,378.93A105.7,105.7 0 0 1 350.66,375.15L374.18,394.41A75.3,75.3 0 0 0 372.08,397.10Z" fill="#e34f8b"/>
<path d="M345.55,381.93A105.7,105.7 0 0 1 348.37,378.05L372.55,396.47A75.3,75.3 0 0 0 370.54,399.23Z" fill="#e34f8b"/>
</g>
<defs><linearGradient id="gTop" x1="0" y1="235" x2="0" y2="283" gradientUnits="userSpaceOnUse"><stop offset="0" stop-color="#A6188C"/><stop offset="1" stop-color="#C8358C"/></linearGradient><linearGradient id="gBot" x1="0" y1="467" x2="0" y2="509" gradientUnits="userSpaceOnUse"><stop offset="0" stop-color="#D6348A"/><stop offset="1" stop-color="#9A1890"/></linearGradient><linearGradient id="gRgt" x1="470" y1="355" x2="510" y2="390" gradientUnits="userSpaceOnUse"><stop offset="0" stop-color="#1ABBE0"/><stop offset="1" stop-color="#15AADC"/></linearGradient><clipPath id="cuttop"><path d="M375.00,282.70L329.70,220.00L329.70,200.00L421.00,200.00L421.00,220.00Z"/></clipPath><clipPath id="patop"><path d="M339.40000000000003,314.45a105.7,105.7 0 1 0 211.4,0a105.7,105.7 0 1 0 -211.4,0ZM369.8,314.45a75.3,75.3 0 1 1 150.6,0a75.3,75.3 0 1 1 -150.6,0Z" clip-rule="evenodd"/></clipPath><clipPath id="cutbot"><path d="M374.50,467.40L439.10,530.00L439.10,545.00L317.20,545.00L317.20,530.00Z"/></clipPath><clipPath id="pabot"><path d="M199.09999999999997,429.45a105.7,105.7 0 1 0 211.4,0a105.7,105.7 0 1 0 -211.4,0ZM229.49999999999994,429.45a75.3,75.3 0 1 1 150.6,0a75.3,75.3 0 1 1 -150.6,0Z" clip-rule="evenodd"/></clipPath><clipPath id="cutrgt"><path d="M466.50,373.60L537.90,312.70L550.00,312.70L550.00,430.00L537.90,432.00Z"/></clipPath><clipPath id="pargt"><path d="M326.75,442.1a105.7,105.7 0 1 0 211.4,0a105.7,105.7 0 1 0 -211.4,0ZM357.15,442.1a75.3,75.3 0 1 1 150.6,0a75.3,75.3 0 1 1 -150.6,0Z" clip-rule="evenodd"/></clipPath><clipPath id="cutlft"><path d="M215.00,330.00L300.00,330.00L300.00,415.00L215.00,415.00Z"/></clipPath><clipPath id="palft"><path d="M211.75,301.79999999999995a105.7,105.7 0 1 0 211.4,0a105.7,105.7 0 1 0 -211.4,0ZM242.14999999999998,301.79999999999995a75.3,75.3 0 1 1 150.6,0a75.3,75.3 0 1 1 -150.6,0Z" clip-rule="evenodd"/></clipPath></defs><g clip-path="url(#cuttop)"><g clip-path="url(#patop)"><path d="M199.09999999999997,314.45a105.7,105.7 0 1 0 211.4,0a105.7,105.7 0 1 0 -211.4,0ZM229.49999999999994,314.45a75.3,75.3 0 1 1 150.6,0a75.3,75.3 0 1 1 -150.6,0Z" fill-rule="evenodd" fill="url(#gTop)"/></g></g><g clip-path="url(#cutbot)"><g clip-path="url(#pabot)"><path d="M339.40000000000003,429.45a105.7,105.7 0 1 0 211.4,0a105.7,105.7 0 1 0 -211.4,0ZM369.8,429.45a75.3,75.3 0 1 1 150.6,0a75.3,75.3 0 1 1 -150.6,0Z" fill-rule="evenodd" fill="url(#gBot)"/></g></g><g clip-path="url(#cutrgt)"><g clip-path="url(#pargt)"><path d="M326.75,301.79999999999995a105.7,105.7 0 1 0 211.4,0a105.7,105.7 0 1 0 -211.4,0ZM357.15,301.79999999999995a75.3,75.3 0 1 1 150.6,0a75.3,75.3 0 1 1 -150.6,0Z" fill-rule="evenodd" fill="url(#gRgt)"/></g></g><g clip-path="url(#cutlft)"><g clip-path="url(#hpBLb)">
<path d="M257.28,529.00A105.7,105.7 0 0 1 253.40,526.18L271.82,502.00A75.3,75.3 0 0 0 274.58,504.01Z" fill="#1a6eec"/>
<path d="M254.28,526.85A105.7,105.7 0 0 1 250.50,523.89L269.76,500.37A75.3,75.3 0 0 0 272.45,502.47Z" fill="#1a6eec"/>
<path d="M251.36,524.59A105.7,105.7 0 0 1 247.69,521.51L267.75,498.67A75.3,75.3 0 0 0 270.37,500.87Z" fill="#1a6eec"/>
<path d="M248.52,522.23A105.7,105.7 0 0 1 244.96,519.03L265.81,496.90A75.3,75.3 0 0 0 268.35,499.19Z" fill="#1a6eec"/>
<path d="M245.77,519.78A105.7,105.7 0 0 1 242.32,516.45L263.93,495.07A75.3,75.3 0 0 0 266.38,497.44Z" fill="#1a6eec"/>
<path d="M243.10,517.23A105.7,105.7 0 0 1 239.77,513.78L262.11,493.17A75.3,75.3 0 0 0 264.48,495.62Z" fill="#1a6eec"/>
<path d="M240.52,514.59A105.7,105.7 0 0 1 237.32,511.03L260.36,491.20A75.3,75.3 0 0 0 262.65,493.74Z" fill="#1a6fec"/>
<path d="M238.04,511.86A105.7,105.7 0 0 1 234.96,508.19L258.68,489.18A75.3,75.3 0 0 0 260.88,491.80Z" fill="#1a6fec"/>
<path d="M235.66,509.05A105.7,105.7 0 0 1 232.70,505.27L257.08,487.10A75.3,75.3 0 0 0 259.18,489.79Z" fill="#1a70ec"/>
<path d="M233.37,506.15A105.7,105.7 0 0 1 230.55,502.27L255.54,484.97A75.3,75.3 0 0 0 257.55,487.73Z" fill="#1a70ec"/>
<path d="M231.18,503.18A105.7,105.7 0 0 1 228.50,499.20L254.08,482.78A75.3,75.3 0 0 0 255.99,485.61Z" fill="#1a71ec"/>
<path d="M229.11,500.13A105.7,105.7 0 0 1 226.56,496.06L252.70,480.54A75.3,75.3 0 0 0 254.51,483.44Z" fill="#1b71ec"/>
<path d="M227.13,497.01A105.7,105.7 0 0 1 224.74,492.86L251.40,478.26A75.3,75.3 0 0 0 253.11,481.22Z" fill="#1b72ec"/>
<path d="M225.27,493.83A105.7,105.7 0 0 1 223.02,489.59L250.18,475.93A75.3,75.3 0 0 0 251.78,478.95Z" fill="#1b72ec"/>
<path d="M223.52,490.58A105.7,105.7 0 0 1 221.42,486.27L249.04,473.57A75.3,75.3 0 0 0 250.54,476.64Z" fill="#1b73ec"/>
<path d="M221.89,487.27A105.7,105.7 0 0 1 219.94,482.89L247.98,471.16A75.3,75.3 0 0 0 249.37,474.28Z" fill="#1b73ec"/>
<path d="M220.37,483.91A105.7,105.7 0 0 1 218.57,479.46L247.01,468.72A75.3,75.3 0 0 0 248.29,471.88Z" fill="#1b74eb"/>
<path d="M218.97,480.50A105.7,105.7 0 0 1 217.33,475.99L246.13,466.24A75.3,75.3 0 0 0 247.29,469.45Z" fill="#1b74eb"/>
<path d="M217.69,477.04A105.7,105.7 0 0 1 216.21,472.47L245.33,463.74A75.3,75.3 0 0 0 246.38,466.99Z" fill="#1b75eb"/>
<path d="M216.53,473.53A105.7,105.7 0 0 1 215.21,468.92L244.61,461.21A75.3,75.3 0 0 0 245.56,464.49Z" fill="#1b75eb"/>
<path d="M215.50,469.99A105.7,105.7 0 0 1 214.34,465.34L243.99,458.65A75.3,75.3 0 0 0 244.82,461.97Z" fill="#1b76eb"/>
<path d="M214.58,466.42A105.7,105.7 0 0 1 213.59,461.72L243.46,456.08A75.3,75.3 0 0 0 244.17,459.42Z" fill="#1b76eb"/>
<path d="M213.80,462.81A105.7,105.7 0 0 1 212.97,458.09L243.02,453.49A75.3,75.3 0 0 0 243.61,456.85Z" fill="#1c77eb"/>
<path d="M213.14,459.18A105.7,105.7 0 0 1 212.47,454.43L242.66,450.89A75.3,75.3 0 0 0 243.14,454.27Z" fill="#1c77eb"/>
<path d="M212.61,455.53A105.7,105.7 0 0 1 212.11,450.76L242.40,448.27A75.3,75.3 0 0 0 242.76,451.67Z" fill="#1c78eb"/>
<path d="M212.20,451.86A105.7,105.7 0 0 1 211.87,447.08L242.23,445.65A75.3,75.3 0 0 0 242.47,449.06Z" fill="#1c78eb"/>
<path d="M211.93,448.18A105.7,105.7 0 0 1 211.76,443.39L242.16,443.02A75.3,75.3 0 0 0 242.27,446.43Z" fill="#1c79eb"/>
<path d="M211.78,444.50A105.7,105.7 0 0 1 211.78,439.70L242.17,440.39A75.3,75.3 0 0 0 242.17,443.81Z" fill="#1c79eb"/>
<path d="M211.76,440.81A105.7,105.7 0 0 1 211.93,436.02L242.27,437.77A75.3,75.3 0 0 0 242.16,441.18Z" fill="#1c79eb"/>
<path d="M211.87,437.12A105.7,105.7 0 0 1 212.20,432.34L242.47,435.14A75.3,75.3 0 0 0 242.23,438.55Z" fill="#1c7aeb"/>
<path d="M212.11,433.44A105.7,105.7 0 0 1 212.61,428.67L242.76,432.53A75.3,75.3 0 0 0 242.40,435.93Z" fill="#1c7aeb"/>
<path d="M212.47,429.77A105.7,105.7 0 0 1 213.14,425.02L243.14,429.93A75.3,75.3 0 0 0 242.66,433.31Z" fill="#1c7beb"/>
<path d="M212.97,426.11A105.7,105.7 0 0 1 213.80,421.39L243.61,427.35A75.3,75.3 0 0 0 243.02,430.71Z" fill="#1c7beb"/>
<path d="M213.59,422.48A105.7,105.7 0 0 1 214.58,417.78L244.17,424.78A75.3,75.3 0 0 0 243.46,428.12Z" fill="#1d7ceb"/>
<path d="M214.34,418.86A105.7,105.7 0 0 1 215.50,414.21L244.82,422.23A75.3,75.3 0 0 0 243.99,425.55Z" fill="#1d7ceb"/>
<path d="M215.21,415.28A105.7,105.7 0 0 1 216.53,410.67L245.56,419.71A75.3,75.3 0 0 0 244.61,422.99Z" fill="#1d7deb"/>
<path d="M216.21,411.73A105.7,105.7 0 0 1 217.69,407.16L246.38,417.21A75.3,75.3 0 0 0 245.33,420.46Z" fill="#1d7deb"/>
<path d="M217.33,408.21A105.7,105.7 0 0 1 218.97,403.70L247.29,414.75A75.3,75.3 0 0 0 246.13,417.96Z" fill="#1d7eeb"/>
<path d="M218.57,404.74A105.7,105.7 0 0 1 220.37,400.29L248.29,412.32A75.3,75.3 0 0 0 247.01,415.48Z" fill="#1d7eeb"/>
<path d="M219.94,401.31A105.7,105.7 0 0 1 221.89,396.93L249.37,409.92A75.3,75.3 0 0 0 247.98,413.04Z" fill="#1d7fea"/>
<path d="M221.42,397.93A105.7,105.7 0 0 1 223.52,393.62L250.54,407.56A75.3,75.3 0 0 0 249.04,410.63Z" fill="#1d7fea"/>
<path d="M223.02,394.61A105.7,105.7 0 0 1 225.27,390.37L251.78,405.25A75.3,75.3 0 0 0 250.18,408.27Z" fill="#1d80ea"/>
<path d="M224.74,391.34A105.7,105.7 0 0 1 227.13,387.19L253.11,402.98A75.3,75.3 0 0 0 251.40,405.94Z" fill="#1d80ea"/>
<path d="M226.56,388.14A105.7,105.7 0 0 1 229.11,384.07L254.51,400.76A75.3,75.3 0 0 0 252.70,403.66Z" fill="#1d81ea"/>
<path d="M228.50,385.00A105.7,105.7 0 0 1 231.18,381.02L255.99,398.59A75.3,75.3 0 0 0 254.08,401.42Z" fill="#1e81ea"/>
<path d="M230.55,381.93A105.7,105.7 0 0 1 233.37,378.05L257.55,396.47A75.3,75.3 0 0 0 255.54,399.23Z" fill="#1e82ea"/>
<path d="M232.70,378.93A105.7,105.7 0 0 1 235.66,375.15L259.18,394.41A75.3,75.3 0 0 0 257.08,397.10Z" fill="#1e82ea"/>
<path d="M234.96,376.01A105.7,105.7 0 0 1 238.04,372.34L260.88,392.40A75.3,75.3 0 0 0 258.68,395.02Z" fill="#1e83ea"/>
<path d="M237.32,373.17A105.7,105.7 0 0 1 240.52,369.61L262.65,390.46A75.3,75.3 0 0 0 260.36,393.00Z" fill="#1e83ea"/>
<path d="M239.77,370.42A105.7,105.7 0 0 1 243.10,366.97L264.48,388.58A75.3,75.3 0 0 0 262.11,391.03Z" fill="#1e84ea"/>
<path d="M242.32,367.75A105.7,105.7 0 0 1 245.77,364.42L266.38,386.76A75.3,75.3 0 0 0 263.93,389.13Z" fill="#1e84ea"/>
<path d="M244.96,365.17A105.7,105.7 0 0 1 248.52,361.97L268.35,385.01A75.3,75.3 0 0 0 265.81,387.30Z" fill="#1e85ea"/>
<path d="M247.69,362.69A105.7,105.7 0 0 1 251.36,359.61L270.37,383.33A75.3,75.3 0 0 0 267.75,385.53Z" fill="#1e85ea"/>
<path d="M250.50,360.31A105.7,105.7 0 0 1 254.28,357.35L272.45,381.73A75.3,75.3 0 0 0 269.76,383.83Z" fill="#1e86ea"/>
<path d="M253.40,358.02A105.7,105.7 0 0 1 257.28,355.20L274.58,380.19A75.3,75.3 0 0 0 271.82,382.20Z" fill="#1e86ea"/>
<path d="M256.37,355.83A105.7,105.7 0 0 1 260.35,353.15L276.77,378.73A75.3,75.3 0 0 0 273.94,380.64Z" fill="#1e86ea"/>
<path d="M259.42,353.76A105.7,105.7 0 0 1 263.49,351.21L279.01,377.35A75.3,75.3 0 0 0 276.11,379.16Z" fill="#1e87ea"/>
<path d="M262.54,351.78A105.7,105.7 0 0 1 266.69,349.39L281.29,376.05A75.3,75.3 0 0 0 278.33,377.76Z" fill="#1e87ea"/>
<path d="M265.72,349.92A105.7,105.7 0 0 1 269.96,347.67L283.62,374.83A75.3,75.3 0 0 0 280.60,376.43Z" fill="#1f88ea"/>
<path d="M268.97,348.17A105.7,105.7 0 0 1 273.28,346.07L285.98,373.69A75.3,75.3 0 0 0 282.91,375.19Z" fill="#1f88ea"/>
<path d="M272.28,346.54A105.7,105.7 0 0 1 276.66,344.59L288.39,372.63A75.3,75.3 0 0 0 285.27,374.02Z" fill="#1f89ea"/>
<path d="M275.64,345.02A105.7,105.7 0 0 1 280.09,343.22L290.83,371.66A75.3,75.3 0 0 0 287.67,372.94Z" fill="#1f89e9"/>
<path d="M279.05,343.62A105.7,105.7 0 0 1 283.56,341.98L293.31,370.78A75.3,75.3 0 0 0 290.10,371.94Z" fill="#1f8ae9"/>
<path d="M282.51,342.34A105.7,105.7 0 0 1 287.08,340.86L295.81,369.98A75.3,75.3 0 0 0 292.56,371.03Z" fill="#1f8ae9"/>
<path d="M286.02,341.18A105.7,105.7 0 0 1 290.63,339.86L298.34,369.26A75.3,75.3 0 0 0 295.06,370.21Z" fill="#1f8ae9"/>
<path d="M289.56,340.15A105.7,105.7 0 0 1 294.21,338.99L300.90,368.64A75.3,75.3 0 0 0 297.58,369.47Z" fill="#1f8be9"/>
<path d="M293.13,339.23A105.7,105.7 0 0 1 297.83,338.24L303.47,368.11A75.3,75.3 0 0 0 300.13,368.82Z" fill="#1f8be9"/>
<path d="M296.74,338.45A105.7,105.7 0 0 1 301.46,337.62L306.06,367.67A75.3,75.3 0 0 0 302.70,368.26Z" fill="#1f8ce9"/>
<path d="M300.37,337.79A105.7,105.7 0 0 1 305.12,337.12L308.66,367.31A75.3,75.3 0 0 0 305.28,367.79Z" fill="#1f8ce9"/>
<path d="M304.02,337.26A105.7,105.7 0 0 1 308.79,336.76L311.28,367.05A75.3,75.3 0 0 0 307.88,367.41Z" fill="#1f8de9"/>
<path d="M307.69,336.85A105.7,105.7 0 0 1 312.47,336.52L313.90,366.88A75.3,75.3 0 0 0 310.49,367.12Z" fill="#1f8de9"/>
<path d="M311.37,336.58A105.7,105.7 0 0 1 316.16,336.41L316.53,366.81A75.3,75.3 0 0 0 313.12,366.92Z" fill="#1f8ee9"/>
<path d="M315.05,336.43A105.7,105.7 0 0 1 319.85,336.43L319.16,366.82A75.3,75.3 0 0 0 315.74,366.82Z" fill="#208ee9"/>
<path d="M318.74,336.41A105.7,105.7 0 0 1 323.53,336.58L321.78,366.92A75.3,75.3 0 0 0 318.37,366.81Z" fill="#208ee9"/>
<path d="M322.43,336.52A105.7,105.7 0 0 1 327.21,336.85L324.41,367.12A75.3,75.3 0 0 0 321.00,366.88Z" fill="#208fe9"/>
<path d="M326.11,336.76A105.7,105.7 0 0 1 330.88,337.26L327.02,367.41A75.3,75.3 0 0 0 323.62,367.05Z" fill="#208fe9"/>
<path d="M329.78,337.12A105.7,105.7 0 0 1 334.53,337.79L329.62,367.79A75.3,75.3 0 0 0 326.24,367.31Z" fill="#2090e9"/>
<path d="M333.44,337.62A105.7,105.7 0 0 1 338.16,338.45L332.20,368.26A75.3,75.3 0 0 0 328.84,367.67Z" fill="#2090e9"/>
<path d="M337.07,338.24A105.7,105.7 0 0 1 341.77,339.23L334.77,368.82A75.3,75.3 0 0 0 331.43,368.11Z" fill="#2091e9"/>
<path d="M340.69,338.99A105.7,105.7 0 0 1 345.34,340.15L337.32,369.47A75.3,75.3 0 0 0 334.00,368.64Z" fill="#2091e9"/>
<path d="M344.27,339.86A105.7,105.7 0 0 1 348.88,341.18L339.84,370.21A75.3,75.3 0 0 0 336.56,369.26Z" fill="#2092e9"/>
<path d="M347.82,340.86A105.7,105.7 0 0 1 352.39,342.34L342.34,371.03A75.3,75.3 0 0 0 339.09,369.98Z" fill="#2092e9"/>
<path d="M351.34,341.98A105.7,105.7 0 0 1 355.85,343.62L344.80,371.94A75.3,75.3 0 0 0 341.59,370.78Z" fill="#2092e9"/>
<path d="M354.81,343.22A105.7,105.7 0 0 1 359.26,345.02L347.23,372.94A75.3,75.3 0 0 0 344.07,371.66Z" fill="#2093e9"/>
<path d="M358.24,344.59A105.7,105.7 0 0 1 362.62,346.54L349.63,374.02A75.3,75.3 0 0 0 346.51,372.63Z" fill="#2093e8"/>
<path d="M361.62,346.07A105.7,105.7 0 0 1 365.93,348.17L351.99,375.19A75.3,75.3 0 0 0 348.92,373.69Z" fill="#2094e8"/>
<path d="M364.94,347.67A105.7,105.7 0 0 1 369.18,349.92L354.30,376.43A75.3,75.3 0 0 0 351.28,374.83Z" fill="#2094e8"/>
<path d="M368.21,349.39A105.7,105.7 0 0 1 372.36,351.78L356.57,377.76A75.3,75.3 0 0 0 353.61,376.05Z" fill="#2095e8"/>
<path d="M371.41,351.21A105.7,105.7 0 0 1 375.48,353.76L358.79,379.16A75.3,75.3 0 0 0 355.89,377.35Z" fill="#2195e8"/>
<path d="M374.55,353.15A105.7,105.7 0 0 1 378.53,355.83L360.96,380.64A75.3,75.3 0 0 0 358.13,378.73Z" fill="#2196e8"/>
<path d="M377.62,355.20A105.7,105.7 0 0 1 381.50,358.02L363.08,382.20A75.3,75.3 0 0 0 360.32,380.19Z" fill="#2196e8"/>
<path d="M380.62,357.35A105.7,105.7 0 0 1 384.40,360.31L365.14,383.83A75.3,75.3 0 0 0 362.45,381.73Z" fill="#2196e8"/>
<path d="M383.54,359.61A105.7,105.7 0 0 1 387.21,362.69L367.15,385.53A75.3,75.3 0 0 0 364.53,383.33Z" fill="#2197e8"/>
<path d="M386.38,361.97A105.7,105.7 0 0 1 389.94,365.17L369.09,387.30A75.3,75.3 0 0 0 366.55,385.01Z" fill="#2197e8"/>
<path d="M389.13,364.42A105.7,105.7 0 0 1 392.58,367.75L370.97,389.13A75.3,75.3 0 0 0 368.52,386.76Z" fill="#2198e8"/>
<path d="M391.80,366.97A105.7,105.7 0 0 1 395.13,370.42L372.79,391.03A75.3,75.3 0 0 0 370.42,388.58Z" fill="#2198e8"/>
<path d="M394.38,369.61A105.7,105.7 0 0 1 397.58,373.17L374.54,393.00A75.3,75.3 0 0 0 372.25,390.46Z" fill="#2198e8"/>
<path d="M396.86,372.34A105.7,105.7 0 0 1 399.94,376.01L376.22,395.02A75.3,75.3 0 0 0 374.02,392.40Z" fill="#2198e8"/>
<path d="M399.24,375.15A105.7,105.7 0 0 1 402.20,378.93L377.82,397.10A75.3,75.3 0 0 0 375.72,394.41Z" fill="#2198e8"/>
<path d="M401.53,378.05A105.7,105.7 0 0 1 404.35,381.93L379.36,399.23A75.3,75.3 0 0 0 377.35,396.47Z" fill="#2198e8"/>
</g></g>
</g>
<path fill="#2D87DF" d="M449.4,271 L425.5,294 L430.8,294 L430.8,318.9 L467.6,318.9 L467.6,294 L473.4,294 L467.6,288.4 L467.6,273.4 L462.4,273.4 L462.4,283.4 Z"/>
<rect x="437.2" y="301.1" width="12.7" height="14.9" fill="#fff"/>
<rect x="453.8" y="300.7" width="8.1" height="9.1" fill="#fff"/>
<g fill="none" stroke="#2D87DF" stroke-width="3.1"><ellipse cx="305.8" cy="425" rx="12" ry="5.0"/><path d="M293.8,425 V452.6 A12,5.0 0 0 0 317.8,452.6 V425"/><path d="M293.8,434.2 A12,5.0 0 0 0 317.8,434.2"/><path d="M293.8,443.4 A12,5.0 0 0 0 317.8,443.4"/><path d="M293.8,452.6 A12,5.0 0 0 0 317.8,452.6"/><ellipse cx="280.3" cy="441" rx="11.6" ry="5.0"/><path d="M268.7,441 V458.8 A11.6,5.0 0 0 0 291.90000000000003,458.8 V441"/><path d="M268.7,449.9 A11.6,5.0 0 0 0 291.90000000000003,449.9"/><path d="M268.7,458.8 A11.6,5.0 0 0 0 291.90000000000003,458.8"/></g>
<rect x="423.9" y="425" width="58.9" height="42.8" rx="3.5" fill="#2D87DF"/>
<rect x="430" y="430" width="46.7" height="20.6" rx="1.5" fill="#fff"/>
<path d="M442.2,425.5 V419 Q442.2,416.1 445.1,416.1 H462.1 Q465,416.1 465,419 V425.5 Z M447.8,421.1 V425.5 H459.4 V421.1 Z" fill="#2D87DF" fill-rule="evenodd"/>
<circle cx="453.3" cy="444.4" r="2.3" fill="#2D87DF"/>
<g fill="none" stroke="#2D87DF" stroke-width="4.2" stroke-linecap="round" stroke-linejoin="round">
<path d="M285,294 C278,290 270.5,284 270,275.5 C269.5,267.5 275,263.5 281,264 C285,264.5 287.5,266.5 290,268.5 L326,291.5 L314,296 C308,299 306,306 308.5,312 C312,319.5 325,320.5 329.5,312.5 C332.5,306 328.5,300 322,300.5 C316.5,301 315.5,308 319.5,310.5"/>
<path d="M292,301 L309.5,315.5"/>
</g>
<path fill="#2D87DF" d="M286.5,266.5 C292,269.5 294.8,277 294,283 C293.2,288 292.2,292 292.5,297 C292.8,302 293.4,306 291.7,310.7 C286,314.2 279,314.6 272.5,316 C275,313.6 276.5,311.6 277.3,310.9 C274,309.6 271,308.3 268.8,307 C276,306.5 281.5,305 284,302.5 C285.5,299 283,294 283.3,289.5 C283.6,284 287,279 286,274 C285.5,271 284.5,269 283,267.5 Z"/>
</svg>
</body></html>
